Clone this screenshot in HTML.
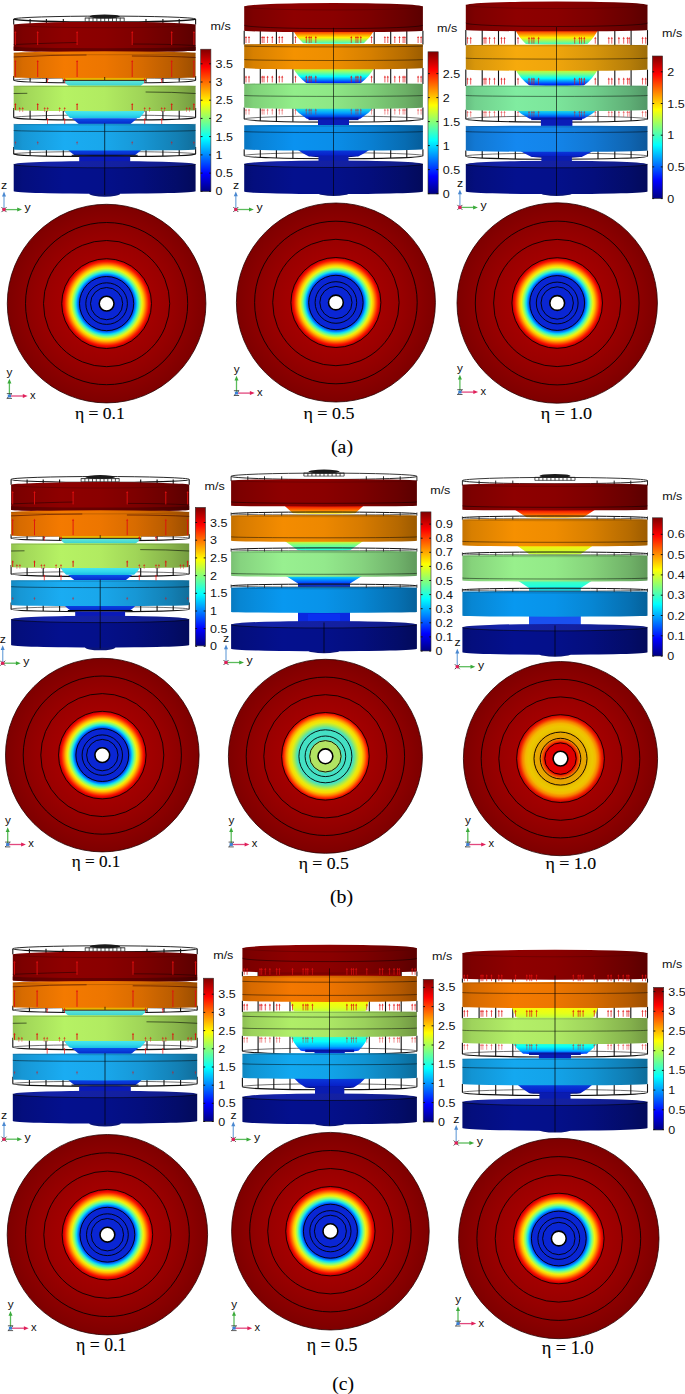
<!DOCTYPE html>
<html><head><meta charset="utf-8"><title>Figure</title>
<style>html,body{margin:0;padding:0;background:#fff;} svg{display:block;}</style></head>
<body><svg width="685" height="1394" viewBox="0 0 685 1394">
<defs><linearGradient id="v1" x1="0" y1="0" x2="0" y2="1"><stop offset="0" stop-color="#60e8d8"/><stop offset="1" stop-color="#30c8d0"/></linearGradient><linearGradient id="v2" x1="0" y1="0" x2="0" y2="1"><stop offset="0" stop-color="#50eef0"/><stop offset="0.6" stop-color="#30d8ec"/><stop offset="1" stop-color="#18b8e4"/></linearGradient><linearGradient id="v3" x1="0" y1="0" x2="0" y2="1"><stop offset="0" stop-color="#0850ec"/><stop offset="0.6" stop-color="#0830d0"/><stop offset="1" stop-color="#0818a8"/></linearGradient><linearGradient id="v4" x1="0" y1="0" x2="0" y2="1"><stop offset="0" stop-color="#0848e8"/><stop offset="1" stop-color="#0828c8"/></linearGradient><linearGradient id="h5" x1="0" y1="0" x2="1" y2="0"><stop offset="0" stop-color="#720000"/><stop offset="0.05" stop-color="#7d0000"/><stop offset="0.28" stop-color="#8e0000"/><stop offset="0.5" stop-color="#8a0000"/><stop offset="0.7" stop-color="#7d0000"/><stop offset="0.9" stop-color="#690000"/><stop offset="1.0" stop-color="#5b0000"/></linearGradient><linearGradient id="h6" x1="0" y1="0" x2="1" y2="0"><stop offset="0" stop-color="#550000"/><stop offset="0.05" stop-color="#5d0000"/><stop offset="0.28" stop-color="#6a0000"/><stop offset="0.5" stop-color="#670000"/><stop offset="0.7" stop-color="#5d0000"/><stop offset="0.9" stop-color="#4e0000"/><stop offset="1.0" stop-color="#440000"/></linearGradient><linearGradient id="h7" x1="0" y1="0" x2="1" y2="0"><stop offset="0" stop-color="#c36200"/><stop offset="0.05" stop-color="#d76b00"/><stop offset="0.28" stop-color="#f47a00"/><stop offset="0.5" stop-color="#ed7600"/><stop offset="0.7" stop-color="#d76b00"/><stop offset="0.9" stop-color="#b55a00"/><stop offset="1.0" stop-color="#9c4e00"/></linearGradient><linearGradient id="h8" x1="0" y1="0" x2="1" y2="0"><stop offset="0" stop-color="#92c250"/><stop offset="0.05" stop-color="#a0d558"/><stop offset="0.28" stop-color="#b6f264"/><stop offset="0.5" stop-color="#b1eb61"/><stop offset="0.7" stop-color="#a0d558"/><stop offset="0.9" stop-color="#87b34a"/><stop offset="1.0" stop-color="#749b40"/></linearGradient><linearGradient id="h9" x1="0" y1="0" x2="1" y2="0"><stop offset="0" stop-color="#158ac2"/><stop offset="0.05" stop-color="#1797d5"/><stop offset="0.28" stop-color="#1aacf2"/><stop offset="0.5" stop-color="#19a7eb"/><stop offset="0.7" stop-color="#1797d5"/><stop offset="0.9" stop-color="#137fb3"/><stop offset="1.0" stop-color="#116e9b"/></linearGradient><linearGradient id="h10" x1="0" y1="0" x2="1" y2="0"><stop offset="0" stop-color="#030d72"/><stop offset="0.05" stop-color="#040e7d"/><stop offset="0.28" stop-color="#04108e"/><stop offset="0.5" stop-color="#04108a"/><stop offset="0.7" stop-color="#040e7d"/><stop offset="0.9" stop-color="#030c69"/><stop offset="1.0" stop-color="#030a5b"/></linearGradient><linearGradient id="h11" x1="0" y1="0" x2="1" y2="0"><stop offset="0" stop-color="#111d8f"/><stop offset="0.2" stop-color="#1422a8"/><stop offset="0.6" stop-color="#1320a0"/><stop offset="1" stop-color="#0f1a7e"/></linearGradient><linearGradient id="v12" x1="0" y1="0" x2="0" y2="1"><stop offset="0" stop-color="#fa0000"/><stop offset="0.55" stop-color="#fff000"/><stop offset="1" stop-color="#2effd1"/></linearGradient><linearGradient id="v13" x1="0" y1="0" x2="0" y2="1"><stop offset="0" stop-color="#fff000"/><stop offset="0.3" stop-color="#80ff80"/><stop offset="0.55" stop-color="#05fffa"/><stop offset="0.85" stop-color="#004dff"/><stop offset="1" stop-color="#0000e6"/></linearGradient><linearGradient id="v14" x1="0" y1="0" x2="0" y2="1"><stop offset="0" stop-color="#2effd1"/><stop offset="0.5" stop-color="#009eff"/><stop offset="1" stop-color="#0000d1"/></linearGradient><linearGradient id="v15" x1="0" y1="0" x2="0" y2="1"><stop offset="0" stop-color="#0a40e0"/><stop offset="0.8" stop-color="#0820c8"/><stop offset="1" stop-color="#050a60"/></linearGradient><linearGradient id="h16" x1="0" y1="0" x2="1" y2="0"><stop offset="0" stop-color="#720000"/><stop offset="0.05" stop-color="#7d0000"/><stop offset="0.28" stop-color="#8e0000"/><stop offset="0.5" stop-color="#8a0000"/><stop offset="0.7" stop-color="#7d0000"/><stop offset="0.9" stop-color="#690000"/><stop offset="1.0" stop-color="#5b0000"/></linearGradient><linearGradient id="h17" x1="0" y1="0" x2="1" y2="0"><stop offset="0" stop-color="#c37500"/><stop offset="0.05" stop-color="#d78000"/><stop offset="0.28" stop-color="#f49200"/><stop offset="0.5" stop-color="#ed8e00"/><stop offset="0.7" stop-color="#d78000"/><stop offset="0.9" stop-color="#b56c00"/><stop offset="1.0" stop-color="#9c5d00"/></linearGradient><linearGradient id="h18" x1="0" y1="0" x2="1" y2="0"><stop offset="0" stop-color="#75be6e"/><stop offset="0.05" stop-color="#80d179"/><stop offset="0.28" stop-color="#92ee8a"/><stop offset="0.5" stop-color="#8ee786"/><stop offset="0.7" stop-color="#80d179"/><stop offset="0.9" stop-color="#6cb066"/><stop offset="1.0" stop-color="#5d9858"/></linearGradient><linearGradient id="h19" x1="0" y1="0" x2="1" y2="0"><stop offset="0" stop-color="#0875c0"/><stop offset="0.05" stop-color="#0980d3"/><stop offset="0.28" stop-color="#0a92f0"/><stop offset="0.5" stop-color="#0a8ee9"/><stop offset="0.7" stop-color="#0980d3"/><stop offset="0.9" stop-color="#076cb2"/><stop offset="1.0" stop-color="#065d9a"/></linearGradient><linearGradient id="h20" x1="0" y1="0" x2="1" y2="0"><stop offset="0" stop-color="#030d72"/><stop offset="0.05" stop-color="#040e7d"/><stop offset="0.28" stop-color="#04108e"/><stop offset="0.5" stop-color="#04108a"/><stop offset="0.7" stop-color="#040e7d"/><stop offset="0.9" stop-color="#030c69"/><stop offset="1.0" stop-color="#030a5b"/></linearGradient><linearGradient id="h21" x1="0" y1="0" x2="1" y2="0"><stop offset="0" stop-color="#111d8f"/><stop offset="0.2" stop-color="#1422a8"/><stop offset="0.6" stop-color="#1320a0"/><stop offset="1" stop-color="#0f1a7e"/></linearGradient><linearGradient id="v22" x1="0" y1="0" x2="0" y2="1"><stop offset="0" stop-color="#fa0000"/><stop offset="0.55" stop-color="#fff000"/><stop offset="1" stop-color="#2effd1"/></linearGradient><linearGradient id="v23" x1="0" y1="0" x2="0" y2="1"><stop offset="0" stop-color="#fff000"/><stop offset="0.3" stop-color="#80ff80"/><stop offset="0.55" stop-color="#05fffa"/><stop offset="0.85" stop-color="#004dff"/><stop offset="1" stop-color="#0000e6"/></linearGradient><linearGradient id="v24" x1="0" y1="0" x2="0" y2="1"><stop offset="0" stop-color="#2effd1"/><stop offset="0.5" stop-color="#009eff"/><stop offset="1" stop-color="#0000d1"/></linearGradient><linearGradient id="v25" x1="0" y1="0" x2="0" y2="1"><stop offset="0" stop-color="#0a40e0"/><stop offset="0.8" stop-color="#0820c8"/><stop offset="1" stop-color="#050a60"/></linearGradient><linearGradient id="h26" x1="0" y1="0" x2="1" y2="0"><stop offset="0" stop-color="#720000"/><stop offset="0.05" stop-color="#7d0000"/><stop offset="0.28" stop-color="#8e0000"/><stop offset="0.5" stop-color="#8a0000"/><stop offset="0.7" stop-color="#7d0000"/><stop offset="0.9" stop-color="#690000"/><stop offset="1.0" stop-color="#5b0000"/></linearGradient><linearGradient id="h27" x1="0" y1="0" x2="1" y2="0"><stop offset="0" stop-color="#c5880a"/><stop offset="0.05" stop-color="#d8960b"/><stop offset="0.28" stop-color="#f6aa0c"/><stop offset="0.5" stop-color="#efa50c"/><stop offset="0.7" stop-color="#d8960b"/><stop offset="0.9" stop-color="#b67e09"/><stop offset="1.0" stop-color="#9d6d08"/></linearGradient><linearGradient id="h28" x1="0" y1="0" x2="1" y2="0"><stop offset="0" stop-color="#66bd80"/><stop offset="0.05" stop-color="#71d08d"/><stop offset="0.28" stop-color="#80eca0"/><stop offset="0.5" stop-color="#7ce59b"/><stop offset="0.7" stop-color="#71d08d"/><stop offset="0.9" stop-color="#5faf76"/><stop offset="1.0" stop-color="#529766"/></linearGradient><linearGradient id="h29" x1="0" y1="0" x2="1" y2="0"><stop offset="0" stop-color="#106dc0"/><stop offset="0.05" stop-color="#1278d3"/><stop offset="0.28" stop-color="#1488f0"/><stop offset="0.5" stop-color="#1384e9"/><stop offset="0.7" stop-color="#1278d3"/><stop offset="0.9" stop-color="#0f65b2"/><stop offset="1.0" stop-color="#0d579a"/></linearGradient><linearGradient id="h30" x1="0" y1="0" x2="1" y2="0"><stop offset="0" stop-color="#030d72"/><stop offset="0.05" stop-color="#040e7d"/><stop offset="0.28" stop-color="#04108e"/><stop offset="0.5" stop-color="#04108a"/><stop offset="0.7" stop-color="#040e7d"/><stop offset="0.9" stop-color="#030c69"/><stop offset="1.0" stop-color="#030a5b"/></linearGradient><linearGradient id="h31" x1="0" y1="0" x2="1" y2="0"><stop offset="0" stop-color="#111d8f"/><stop offset="0.2" stop-color="#1422a8"/><stop offset="0.6" stop-color="#1320a0"/><stop offset="1" stop-color="#0f1a7e"/></linearGradient><linearGradient id="v32" x1="0" y1="0" x2="0" y2="1"><stop offset="0" stop-color="#60e8d8"/><stop offset="1" stop-color="#30c8d0"/></linearGradient><linearGradient id="v33" x1="0" y1="0" x2="0" y2="1"><stop offset="0" stop-color="#50eef0"/><stop offset="0.6" stop-color="#30d8ec"/><stop offset="1" stop-color="#18b8e4"/></linearGradient><linearGradient id="v34" x1="0" y1="0" x2="0" y2="1"><stop offset="0" stop-color="#0850ec"/><stop offset="0.6" stop-color="#0830d0"/><stop offset="1" stop-color="#0818a8"/></linearGradient><linearGradient id="v35" x1="0" y1="0" x2="0" y2="1"><stop offset="0" stop-color="#0848e8"/><stop offset="1" stop-color="#0828c8"/></linearGradient><linearGradient id="h36" x1="0" y1="0" x2="1" y2="0"><stop offset="0" stop-color="#720000"/><stop offset="0.05" stop-color="#7d0000"/><stop offset="0.28" stop-color="#8e0000"/><stop offset="0.5" stop-color="#8a0000"/><stop offset="0.7" stop-color="#7d0000"/><stop offset="0.9" stop-color="#690000"/><stop offset="1.0" stop-color="#5b0000"/></linearGradient><linearGradient id="h37" x1="0" y1="0" x2="1" y2="0"><stop offset="0" stop-color="#550000"/><stop offset="0.05" stop-color="#5d0000"/><stop offset="0.28" stop-color="#6a0000"/><stop offset="0.5" stop-color="#670000"/><stop offset="0.7" stop-color="#5d0000"/><stop offset="0.9" stop-color="#4e0000"/><stop offset="1.0" stop-color="#440000"/></linearGradient><linearGradient id="h38" x1="0" y1="0" x2="1" y2="0"><stop offset="0" stop-color="#c36200"/><stop offset="0.05" stop-color="#d76b00"/><stop offset="0.28" stop-color="#f47a00"/><stop offset="0.5" stop-color="#ed7600"/><stop offset="0.7" stop-color="#d76b00"/><stop offset="0.9" stop-color="#b55a00"/><stop offset="1.0" stop-color="#9c4e00"/></linearGradient><linearGradient id="h39" x1="0" y1="0" x2="1" y2="0"><stop offset="0" stop-color="#92c250"/><stop offset="0.05" stop-color="#a0d558"/><stop offset="0.28" stop-color="#b6f264"/><stop offset="0.5" stop-color="#b1eb61"/><stop offset="0.7" stop-color="#a0d558"/><stop offset="0.9" stop-color="#87b34a"/><stop offset="1.0" stop-color="#749b40"/></linearGradient><linearGradient id="h40" x1="0" y1="0" x2="1" y2="0"><stop offset="0" stop-color="#158ac2"/><stop offset="0.05" stop-color="#1797d5"/><stop offset="0.28" stop-color="#1aacf2"/><stop offset="0.5" stop-color="#19a7eb"/><stop offset="0.7" stop-color="#1797d5"/><stop offset="0.9" stop-color="#137fb3"/><stop offset="1.0" stop-color="#116e9b"/></linearGradient><linearGradient id="h41" x1="0" y1="0" x2="1" y2="0"><stop offset="0" stop-color="#030d72"/><stop offset="0.05" stop-color="#040e7d"/><stop offset="0.28" stop-color="#04108e"/><stop offset="0.5" stop-color="#04108a"/><stop offset="0.7" stop-color="#040e7d"/><stop offset="0.9" stop-color="#030c69"/><stop offset="1.0" stop-color="#030a5b"/></linearGradient><linearGradient id="h42" x1="0" y1="0" x2="1" y2="0"><stop offset="0" stop-color="#111d8f"/><stop offset="0.2" stop-color="#1422a8"/><stop offset="0.6" stop-color="#1320a0"/><stop offset="1" stop-color="#0f1a7e"/></linearGradient><linearGradient id="v43" x1="0" y1="0" x2="0" y2="1"><stop offset="0" stop-color="#e50000"/><stop offset="0.5" stop-color="#ff6100"/><stop offset="1" stop-color="#fff000"/></linearGradient><linearGradient id="v44" x1="0" y1="0" x2="0" y2="1"><stop offset="0" stop-color="#fff000"/><stop offset="0.45" stop-color="#80ff80"/><stop offset="1" stop-color="#1affe5"/></linearGradient><linearGradient id="v45" x1="0" y1="0" x2="0" y2="1"><stop offset="0" stop-color="#05fffa"/><stop offset="1" stop-color="#0024ff"/></linearGradient><linearGradient id="h46" x1="0" y1="0" x2="1" y2="0"><stop offset="0" stop-color="#720000"/><stop offset="0.05" stop-color="#7d0000"/><stop offset="0.28" stop-color="#8e0000"/><stop offset="0.5" stop-color="#8a0000"/><stop offset="0.7" stop-color="#7d0000"/><stop offset="0.9" stop-color="#690000"/><stop offset="1.0" stop-color="#5b0000"/></linearGradient><linearGradient id="h47" x1="0" y1="0" x2="1" y2="0"><stop offset="0" stop-color="#c37000"/><stop offset="0.05" stop-color="#d77b00"/><stop offset="0.28" stop-color="#f48c00"/><stop offset="0.5" stop-color="#ed8800"/><stop offset="0.7" stop-color="#d77b00"/><stop offset="0.9" stop-color="#b56800"/><stop offset="1.0" stop-color="#9c5a00"/></linearGradient><linearGradient id="h48" x1="0" y1="0" x2="1" y2="0"><stop offset="0" stop-color="#7ac073"/><stop offset="0.05" stop-color="#86d37f"/><stop offset="0.28" stop-color="#98f090"/><stop offset="0.5" stop-color="#93e98c"/><stop offset="0.7" stop-color="#86d37f"/><stop offset="0.9" stop-color="#70b26b"/><stop offset="1.0" stop-color="#619a5c"/></linearGradient><linearGradient id="h49" x1="0" y1="0" x2="1" y2="0"><stop offset="0" stop-color="#067ac0"/><stop offset="0.05" stop-color="#0786d3"/><stop offset="0.28" stop-color="#0898f0"/><stop offset="0.5" stop-color="#0893e9"/><stop offset="0.7" stop-color="#0786d3"/><stop offset="0.9" stop-color="#0670b2"/><stop offset="1.0" stop-color="#05619a"/></linearGradient><linearGradient id="h50" x1="0" y1="0" x2="1" y2="0"><stop offset="0" stop-color="#030d72"/><stop offset="0.05" stop-color="#040e7d"/><stop offset="0.28" stop-color="#04108e"/><stop offset="0.5" stop-color="#04108a"/><stop offset="0.7" stop-color="#040e7d"/><stop offset="0.9" stop-color="#030c69"/><stop offset="1.0" stop-color="#030a5b"/></linearGradient><linearGradient id="h51" x1="0" y1="0" x2="1" y2="0"><stop offset="0" stop-color="#111d8f"/><stop offset="0.2" stop-color="#1422a8"/><stop offset="0.6" stop-color="#1320a0"/><stop offset="1" stop-color="#0f1a7e"/></linearGradient><linearGradient id="v52" x1="0" y1="0" x2="0" y2="1"><stop offset="0" stop-color="#e50000"/><stop offset="0.5" stop-color="#ff4c00"/><stop offset="1" stop-color="#ffb300"/></linearGradient><linearGradient id="v53" x1="0" y1="0" x2="0" y2="1"><stop offset="0" stop-color="#fff000"/><stop offset="1" stop-color="#bdff42"/></linearGradient><linearGradient id="v54" x1="0" y1="0" x2="0" y2="1"><stop offset="0" stop-color="#4dffb2"/><stop offset="1" stop-color="#0ffff0"/></linearGradient><linearGradient id="h55" x1="0" y1="0" x2="1" y2="0"><stop offset="0" stop-color="#720000"/><stop offset="0.05" stop-color="#7d0000"/><stop offset="0.28" stop-color="#8e0000"/><stop offset="0.5" stop-color="#8a0000"/><stop offset="0.7" stop-color="#7d0000"/><stop offset="0.9" stop-color="#690000"/><stop offset="1.0" stop-color="#5b0000"/></linearGradient><linearGradient id="h56" x1="0" y1="0" x2="1" y2="0"><stop offset="0" stop-color="#c57300"/><stop offset="0.05" stop-color="#d87f00"/><stop offset="0.28" stop-color="#f69000"/><stop offset="0.5" stop-color="#ef8c00"/><stop offset="0.7" stop-color="#d87f00"/><stop offset="0.9" stop-color="#b66b00"/><stop offset="1.0" stop-color="#9d5c00"/></linearGradient><linearGradient id="h57" x1="0" y1="0" x2="1" y2="0"><stop offset="0" stop-color="#7ac070"/><stop offset="0.05" stop-color="#86d37b"/><stop offset="0.28" stop-color="#98f08c"/><stop offset="0.5" stop-color="#93e988"/><stop offset="0.7" stop-color="#86d37b"/><stop offset="0.9" stop-color="#70b268"/><stop offset="1.0" stop-color="#619a5a"/></linearGradient><linearGradient id="h58" x1="0" y1="0" x2="1" y2="0"><stop offset="0" stop-color="#067ac0"/><stop offset="0.05" stop-color="#0786d3"/><stop offset="0.28" stop-color="#0898f0"/><stop offset="0.5" stop-color="#0893e9"/><stop offset="0.7" stop-color="#0786d3"/><stop offset="0.9" stop-color="#0670b2"/><stop offset="1.0" stop-color="#05619a"/></linearGradient><linearGradient id="h59" x1="0" y1="0" x2="1" y2="0"><stop offset="0" stop-color="#030d72"/><stop offset="0.05" stop-color="#040e7d"/><stop offset="0.28" stop-color="#04108e"/><stop offset="0.5" stop-color="#04108a"/><stop offset="0.7" stop-color="#040e7d"/><stop offset="0.9" stop-color="#030c69"/><stop offset="1.0" stop-color="#030a5b"/></linearGradient><linearGradient id="h60" x1="0" y1="0" x2="1" y2="0"><stop offset="0" stop-color="#111d8f"/><stop offset="0.2" stop-color="#1422a8"/><stop offset="0.6" stop-color="#1320a0"/><stop offset="1" stop-color="#0f1a7e"/></linearGradient><linearGradient id="v61" x1="0" y1="0" x2="0" y2="1"><stop offset="0" stop-color="#60e8d8"/><stop offset="1" stop-color="#30c8d0"/></linearGradient><linearGradient id="v62" x1="0" y1="0" x2="0" y2="1"><stop offset="0" stop-color="#50eef0"/><stop offset="0.6" stop-color="#30d8ec"/><stop offset="1" stop-color="#18b8e4"/></linearGradient><linearGradient id="v63" x1="0" y1="0" x2="0" y2="1"><stop offset="0" stop-color="#0850ec"/><stop offset="0.6" stop-color="#0830d0"/><stop offset="1" stop-color="#0818a8"/></linearGradient><linearGradient id="v64" x1="0" y1="0" x2="0" y2="1"><stop offset="0" stop-color="#0848e8"/><stop offset="1" stop-color="#0828c8"/></linearGradient><linearGradient id="h65" x1="0" y1="0" x2="1" y2="0"><stop offset="0" stop-color="#720000"/><stop offset="0.05" stop-color="#7d0000"/><stop offset="0.28" stop-color="#8e0000"/><stop offset="0.5" stop-color="#8a0000"/><stop offset="0.7" stop-color="#7d0000"/><stop offset="0.9" stop-color="#690000"/><stop offset="1.0" stop-color="#5b0000"/></linearGradient><linearGradient id="h66" x1="0" y1="0" x2="1" y2="0"><stop offset="0" stop-color="#550000"/><stop offset="0.05" stop-color="#5d0000"/><stop offset="0.28" stop-color="#6a0000"/><stop offset="0.5" stop-color="#670000"/><stop offset="0.7" stop-color="#5d0000"/><stop offset="0.9" stop-color="#4e0000"/><stop offset="1.0" stop-color="#440000"/></linearGradient><linearGradient id="h67" x1="0" y1="0" x2="1" y2="0"><stop offset="0" stop-color="#c36200"/><stop offset="0.05" stop-color="#d76b00"/><stop offset="0.28" stop-color="#f47a00"/><stop offset="0.5" stop-color="#ed7600"/><stop offset="0.7" stop-color="#d76b00"/><stop offset="0.9" stop-color="#b55a00"/><stop offset="1.0" stop-color="#9c4e00"/></linearGradient><linearGradient id="h68" x1="0" y1="0" x2="1" y2="0"><stop offset="0" stop-color="#92c250"/><stop offset="0.05" stop-color="#a0d558"/><stop offset="0.28" stop-color="#b6f264"/><stop offset="0.5" stop-color="#b1eb61"/><stop offset="0.7" stop-color="#a0d558"/><stop offset="0.9" stop-color="#87b34a"/><stop offset="1.0" stop-color="#749b40"/></linearGradient><linearGradient id="h69" x1="0" y1="0" x2="1" y2="0"><stop offset="0" stop-color="#158ac2"/><stop offset="0.05" stop-color="#1797d5"/><stop offset="0.28" stop-color="#1aacf2"/><stop offset="0.5" stop-color="#19a7eb"/><stop offset="0.7" stop-color="#1797d5"/><stop offset="0.9" stop-color="#137fb3"/><stop offset="1.0" stop-color="#116e9b"/></linearGradient><linearGradient id="h70" x1="0" y1="0" x2="1" y2="0"><stop offset="0" stop-color="#030d72"/><stop offset="0.05" stop-color="#040e7d"/><stop offset="0.28" stop-color="#04108e"/><stop offset="0.5" stop-color="#04108a"/><stop offset="0.7" stop-color="#040e7d"/><stop offset="0.9" stop-color="#030c69"/><stop offset="1.0" stop-color="#030a5b"/></linearGradient><linearGradient id="h71" x1="0" y1="0" x2="1" y2="0"><stop offset="0" stop-color="#111d8f"/><stop offset="0.2" stop-color="#1422a8"/><stop offset="0.6" stop-color="#1320a0"/><stop offset="1" stop-color="#0f1a7e"/></linearGradient><linearGradient id="v72" x1="0" y1="0" x2="0" y2="1"><stop offset="0" stop-color="#fa0000"/><stop offset="0.55" stop-color="#fff000"/><stop offset="1" stop-color="#2effd1"/></linearGradient><linearGradient id="v73" x1="0" y1="0" x2="0" y2="1"><stop offset="0" stop-color="#fffa00"/><stop offset="0.6" stop-color="#e5ff1a"/><stop offset="1" stop-color="#bdff42"/></linearGradient><linearGradient id="v74" x1="0" y1="0" x2="0" y2="1"><stop offset="0" stop-color="#4dffb2"/><stop offset="0.4" stop-color="#05fffa"/><stop offset="0.7" stop-color="#00b2ff"/><stop offset="1" stop-color="#0024ff"/></linearGradient><linearGradient id="v75" x1="0" y1="0" x2="0" y2="1"><stop offset="0" stop-color="#6a0000"/><stop offset="0.6" stop-color="#800000"/><stop offset="1" stop-color="#a00000"/></linearGradient><linearGradient id="v76" x1="0" y1="0" x2="0" y2="1"><stop offset="0" stop-color="#0a40e0"/><stop offset="0.8" stop-color="#0820c8"/><stop offset="1" stop-color="#050a60"/></linearGradient><linearGradient id="h77" x1="0" y1="0" x2="1" y2="0"><stop offset="0" stop-color="#720000"/><stop offset="0.05" stop-color="#7d0000"/><stop offset="0.28" stop-color="#8e0000"/><stop offset="0.5" stop-color="#8a0000"/><stop offset="0.7" stop-color="#7d0000"/><stop offset="0.9" stop-color="#690000"/><stop offset="1.0" stop-color="#5b0000"/></linearGradient><linearGradient id="h78" x1="0" y1="0" x2="1" y2="0"><stop offset="0" stop-color="#c36000"/><stop offset="0.05" stop-color="#d76a00"/><stop offset="0.28" stop-color="#f47800"/><stop offset="0.5" stop-color="#ed7400"/><stop offset="0.7" stop-color="#d76a00"/><stop offset="0.9" stop-color="#b55900"/><stop offset="1.0" stop-color="#9c4d00"/></linearGradient><linearGradient id="h79" x1="0" y1="0" x2="1" y2="0"><stop offset="0" stop-color="#8dbe53"/><stop offset="0.05" stop-color="#9bd15c"/><stop offset="0.28" stop-color="#b0ee68"/><stop offset="0.5" stop-color="#abe765"/><stop offset="0.7" stop-color="#9bd15c"/><stop offset="0.9" stop-color="#82b04d"/><stop offset="1.0" stop-color="#719843"/></linearGradient><linearGradient id="h80" x1="0" y1="0" x2="1" y2="0"><stop offset="0" stop-color="#0e86c0"/><stop offset="0.05" stop-color="#1094d3"/><stop offset="0.28" stop-color="#12a8f0"/><stop offset="0.5" stop-color="#11a3e9"/><stop offset="0.7" stop-color="#1094d3"/><stop offset="0.9" stop-color="#0d7cb2"/><stop offset="1.0" stop-color="#0c6c9a"/></linearGradient><linearGradient id="h81" x1="0" y1="0" x2="1" y2="0"><stop offset="0" stop-color="#030d72"/><stop offset="0.05" stop-color="#040e7d"/><stop offset="0.28" stop-color="#04108e"/><stop offset="0.5" stop-color="#04108a"/><stop offset="0.7" stop-color="#040e7d"/><stop offset="0.9" stop-color="#030c69"/><stop offset="1.0" stop-color="#030a5b"/></linearGradient><linearGradient id="h82" x1="0" y1="0" x2="1" y2="0"><stop offset="0" stop-color="#111d8f"/><stop offset="0.2" stop-color="#1422a8"/><stop offset="0.6" stop-color="#1320a0"/><stop offset="1" stop-color="#0f1a7e"/></linearGradient><linearGradient id="v83" x1="0" y1="0" x2="0" y2="1"><stop offset="0" stop-color="#fffa00"/><stop offset="0.6" stop-color="#e5ff1a"/><stop offset="1" stop-color="#bdff42"/></linearGradient><linearGradient id="v84" x1="0" y1="0" x2="0" y2="1"><stop offset="0" stop-color="#4dffb2"/><stop offset="0.4" stop-color="#05fffa"/><stop offset="0.7" stop-color="#00b2ff"/><stop offset="1" stop-color="#0024ff"/></linearGradient><linearGradient id="v85" x1="0" y1="0" x2="0" y2="1"><stop offset="0" stop-color="#0a40e0"/><stop offset="0.8" stop-color="#0820c8"/><stop offset="1" stop-color="#050a60"/></linearGradient><linearGradient id="h86" x1="0" y1="0" x2="1" y2="0"><stop offset="0" stop-color="#720000"/><stop offset="0.05" stop-color="#7d0000"/><stop offset="0.28" stop-color="#8e0000"/><stop offset="0.5" stop-color="#8a0000"/><stop offset="0.7" stop-color="#7d0000"/><stop offset="0.9" stop-color="#690000"/><stop offset="1.0" stop-color="#5b0000"/></linearGradient><linearGradient id="h87" x1="0" y1="0" x2="1" y2="0"><stop offset="0" stop-color="#c36200"/><stop offset="0.05" stop-color="#d76b00"/><stop offset="0.28" stop-color="#f47a00"/><stop offset="0.5" stop-color="#ed7600"/><stop offset="0.7" stop-color="#d76b00"/><stop offset="0.9" stop-color="#b55a00"/><stop offset="1.0" stop-color="#9c4e00"/></linearGradient><linearGradient id="h88" x1="0" y1="0" x2="1" y2="0"><stop offset="0" stop-color="#90c053"/><stop offset="0.05" stop-color="#9ed35c"/><stop offset="0.28" stop-color="#b4f068"/><stop offset="0.5" stop-color="#afe965"/><stop offset="0.7" stop-color="#9ed35c"/><stop offset="0.9" stop-color="#85b24d"/><stop offset="1.0" stop-color="#739a43"/></linearGradient><linearGradient id="h89" x1="0" y1="0" x2="1" y2="0"><stop offset="0" stop-color="#1086c0"/><stop offset="0.05" stop-color="#1294d3"/><stop offset="0.28" stop-color="#14a8f0"/><stop offset="0.5" stop-color="#13a3e9"/><stop offset="0.7" stop-color="#1294d3"/><stop offset="0.9" stop-color="#0f7cb2"/><stop offset="1.0" stop-color="#0d6c9a"/></linearGradient><linearGradient id="h90" x1="0" y1="0" x2="1" y2="0"><stop offset="0" stop-color="#030d72"/><stop offset="0.05" stop-color="#040e7d"/><stop offset="0.28" stop-color="#04108e"/><stop offset="0.5" stop-color="#04108a"/><stop offset="0.7" stop-color="#040e7d"/><stop offset="0.9" stop-color="#030c69"/><stop offset="1.0" stop-color="#030a5b"/></linearGradient><linearGradient id="h91" x1="0" y1="0" x2="1" y2="0"><stop offset="0" stop-color="#111d8f"/><stop offset="0.2" stop-color="#1422a8"/><stop offset="0.6" stop-color="#1320a0"/><stop offset="1" stop-color="#0f1a7e"/></linearGradient><linearGradient id="v92" x1="0" y1="0" x2="0" y2="1"><stop offset="0" stop-color="#800000"/><stop offset="0.125" stop-color="#ff0000"/><stop offset="0.375" stop-color="#ffff00"/><stop offset="0.625" stop-color="#00ffff"/><stop offset="0.875" stop-color="#0000ff"/><stop offset="1" stop-color="#000080"/></linearGradient><linearGradient id="v93" x1="0" y1="0" x2="0" y2="1"><stop offset="0" stop-color="#800000"/><stop offset="0.125" stop-color="#ff0000"/><stop offset="0.375" stop-color="#ffff00"/><stop offset="0.625" stop-color="#00ffff"/><stop offset="0.875" stop-color="#0000ff"/><stop offset="1" stop-color="#000080"/></linearGradient><linearGradient id="v94" x1="0" y1="0" x2="0" y2="1"><stop offset="0" stop-color="#800000"/><stop offset="0.125" stop-color="#ff0000"/><stop offset="0.375" stop-color="#ffff00"/><stop offset="0.625" stop-color="#00ffff"/><stop offset="0.875" stop-color="#0000ff"/><stop offset="1" stop-color="#000080"/></linearGradient><linearGradient id="v95" x1="0" y1="0" x2="0" y2="1"><stop offset="0" stop-color="#800000"/><stop offset="0.125" stop-color="#ff0000"/><stop offset="0.375" stop-color="#ffff00"/><stop offset="0.625" stop-color="#00ffff"/><stop offset="0.875" stop-color="#0000ff"/><stop offset="1" stop-color="#000080"/></linearGradient><linearGradient id="v96" x1="0" y1="0" x2="0" y2="1"><stop offset="0" stop-color="#800000"/><stop offset="0.125" stop-color="#ff0000"/><stop offset="0.375" stop-color="#ffff00"/><stop offset="0.625" stop-color="#00ffff"/><stop offset="0.875" stop-color="#0000ff"/><stop offset="1" stop-color="#000080"/></linearGradient><linearGradient id="v97" x1="0" y1="0" x2="0" y2="1"><stop offset="0" stop-color="#800000"/><stop offset="0.125" stop-color="#ff0000"/><stop offset="0.375" stop-color="#ffff00"/><stop offset="0.625" stop-color="#00ffff"/><stop offset="0.875" stop-color="#0000ff"/><stop offset="1" stop-color="#000080"/></linearGradient><linearGradient id="v98" x1="0" y1="0" x2="0" y2="1"><stop offset="0" stop-color="#800000"/><stop offset="0.125" stop-color="#ff0000"/><stop offset="0.375" stop-color="#ffff00"/><stop offset="0.625" stop-color="#00ffff"/><stop offset="0.875" stop-color="#0000ff"/><stop offset="1" stop-color="#000080"/></linearGradient><linearGradient id="v99" x1="0" y1="0" x2="0" y2="1"><stop offset="0" stop-color="#800000"/><stop offset="0.125" stop-color="#ff0000"/><stop offset="0.375" stop-color="#ffff00"/><stop offset="0.625" stop-color="#00ffff"/><stop offset="0.875" stop-color="#0000ff"/><stop offset="1" stop-color="#000080"/></linearGradient><linearGradient id="v100" x1="0" y1="0" x2="0" y2="1"><stop offset="0" stop-color="#800000"/><stop offset="0.125" stop-color="#ff0000"/><stop offset="0.375" stop-color="#ffff00"/><stop offset="0.625" stop-color="#00ffff"/><stop offset="0.875" stop-color="#0000ff"/><stop offset="1" stop-color="#000080"/></linearGradient><radialGradient id="r101" cx="0.5" cy="0.5" r="0.5"><stop offset="0" stop-color="#a80000"/><stop offset="0.45" stop-color="#a30000"/><stop offset="0.65" stop-color="#980000"/><stop offset="0.85" stop-color="#8a0000"/><stop offset="1" stop-color="#7e0000"/></radialGradient><radialGradient id="r102" cx="0.5" cy="0.5" r="0.5"><stop offset="0.0" stop-color="#0a26d4"/><stop offset="0.6037840101952606" stop-color="#0a26d4"/><stop offset="0.6149239365826271" stop-color="#0044f0"/><stop offset="0.6505717010221996" stop-color="#0090ff"/><stop offset="0.6839914801842989" stop-color="#10def4"/><stop offset="0.7352351415661845" stop-color="#80ff80"/><stop offset="0.7887067882255433" stop-color="#eef410"/><stop offset="0.833266493775009" stop-color="#ffc000"/><stop offset="0.8845101551568948" stop-color="#ff6400"/><stop offset="0.9357538165387803" stop-color="#f81000"/><stop offset="0.9758575515332993" stop-color="#d00000"/><stop offset="0.9981374043080322" stop-color="#b00000"/></radialGradient><radialGradient id="r103" cx="0.5" cy="0.5" r="0.5"><stop offset="0" stop-color="#a80000"/><stop offset="0.45" stop-color="#a30000"/><stop offset="0.65" stop-color="#980000"/><stop offset="0.85" stop-color="#8a0000"/><stop offset="1" stop-color="#7e0000"/></radialGradient><radialGradient id="r104" cx="0.5" cy="0.5" r="0.5"><stop offset="0.0" stop-color="#0a26d4"/><stop offset="0.6037840101952606" stop-color="#0a26d4"/><stop offset="0.6149239365826271" stop-color="#0044f0"/><stop offset="0.6505717010221996" stop-color="#0090ff"/><stop offset="0.6839914801842989" stop-color="#10def4"/><stop offset="0.7352351415661845" stop-color="#80ff80"/><stop offset="0.7887067882255433" stop-color="#eef410"/><stop offset="0.833266493775009" stop-color="#ffc000"/><stop offset="0.8845101551568948" stop-color="#ff6400"/><stop offset="0.9357538165387803" stop-color="#f81000"/><stop offset="0.9758575515332993" stop-color="#d00000"/><stop offset="0.9981374043080322" stop-color="#b00000"/></radialGradient><radialGradient id="r105" cx="0.5" cy="0.5" r="0.5"><stop offset="0" stop-color="#a80000"/><stop offset="0.45" stop-color="#a30000"/><stop offset="0.65" stop-color="#980000"/><stop offset="0.85" stop-color="#8a0000"/><stop offset="1" stop-color="#7e0000"/></radialGradient><radialGradient id="r106" cx="0.5" cy="0.5" r="0.5"><stop offset="0.0" stop-color="#0a26d4"/><stop offset="0.6037840101952606" stop-color="#0a26d4"/><stop offset="0.614923936582627" stop-color="#0044f0"/><stop offset="0.6505717010221996" stop-color="#0090ff"/><stop offset="0.6839914801842988" stop-color="#10def4"/><stop offset="0.7352351415661845" stop-color="#80ff80"/><stop offset="0.7887067882255433" stop-color="#eef410"/><stop offset="0.833266493775009" stop-color="#ffc000"/><stop offset="0.8845101551568947" stop-color="#ff6400"/><stop offset="0.9357538165387803" stop-color="#f81000"/><stop offset="0.9758575515332992" stop-color="#d00000"/><stop offset="0.9981374043080321" stop-color="#b00000"/></radialGradient><radialGradient id="r107" cx="0.5" cy="0.5" r="0.5"><stop offset="0" stop-color="#a80000"/><stop offset="0.45" stop-color="#a30000"/><stop offset="0.65" stop-color="#980000"/><stop offset="0.85" stop-color="#8a0000"/><stop offset="1" stop-color="#7e0000"/></radialGradient><radialGradient id="r108" cx="0.5" cy="0.5" r="0.5"><stop offset="0.0" stop-color="#0a26d4"/><stop offset="0.6037840101952606" stop-color="#0a26d4"/><stop offset="0.6149239365826271" stop-color="#0044f0"/><stop offset="0.6505717010221995" stop-color="#0090ff"/><stop offset="0.6839914801842989" stop-color="#10def4"/><stop offset="0.7352351415661845" stop-color="#80ff80"/><stop offset="0.7887067882255433" stop-color="#eef410"/><stop offset="0.8332664937750092" stop-color="#ffc000"/><stop offset="0.8845101551568948" stop-color="#ff6400"/><stop offset="0.9357538165387803" stop-color="#f81000"/><stop offset="0.9758575515332993" stop-color="#d00000"/><stop offset="0.9981374043080322" stop-color="#b00000"/></radialGradient><radialGradient id="r109" cx="0.5" cy="0.5" r="0.5"><stop offset="0" stop-color="#a80000"/><stop offset="0.45" stop-color="#a30000"/><stop offset="0.65" stop-color="#980000"/><stop offset="0.85" stop-color="#8a0000"/><stop offset="1" stop-color="#7e0000"/></radialGradient><radialGradient id="r110" cx="0.5" cy="0.5" r="0.5"><stop offset="0.0" stop-color="#b2e462"/><stop offset="0.3603685795091689" stop-color="#b2e462"/><stop offset="0.3786150898640635" stop-color="#44e0c4"/><stop offset="0.6272237934495027" stop-color="#44e0c4"/><stop offset="0.6614360003649302" stop-color="#60e4a0"/><stop offset="0.718456345223976" stop-color="#a8ec50"/><stop offset="0.7754766900830216" stop-color="#e8ec10"/><stop offset="0.8324970349420673" stop-color="#f8d800"/><stop offset="0.889517379801113" stop-color="#ff9000"/><stop offset="0.9465377246601587" stop-color="#ff3000"/><stop offset="0.9921540005473953" stop-color="#d00000"/><stop offset="1.0" stop-color="#b00000"/></radialGradient><radialGradient id="r111" cx="0.5" cy="0.5" r="0.5"><stop offset="0" stop-color="#a80000"/><stop offset="0.45" stop-color="#a30000"/><stop offset="0.65" stop-color="#980000"/><stop offset="0.85" stop-color="#8a0000"/><stop offset="1" stop-color="#7e0000"/></radialGradient><radialGradient id="r112" cx="0.5" cy="0.5" r="0.5"><stop offset="0.0" stop-color="#e00000"/><stop offset="0.3649302070978926" stop-color="#e00000"/><stop offset="0.3877383450415109" stop-color="#ee3000"/><stop offset="0.44475868990055656" stop-color="#ee8000"/><stop offset="0.47440926922726034" stop-color="#e6a400"/><stop offset="0.6158197244776936" stop-color="#e6a800"/><stop offset="0.638627862421312" stop-color="#e8c000"/><stop offset="0.7298604141957852" stop-color="#ecc800"/><stop offset="0.7982848280266399" stop-color="#f4b800"/><stop offset="0.8667092418574948" stop-color="#f88000"/><stop offset="0.9351336556883497" stop-color="#f02000"/><stop offset="0.9921540005473954" stop-color="#c80000"/><stop offset="1.0" stop-color="#b00000"/></radialGradient><radialGradient id="r113" cx="0.5" cy="0.5" r="0.5"><stop offset="0" stop-color="#a80000"/><stop offset="0.45" stop-color="#a30000"/><stop offset="0.65" stop-color="#980000"/><stop offset="0.85" stop-color="#8a0000"/><stop offset="1" stop-color="#7e0000"/></radialGradient><radialGradient id="r114" cx="0.5" cy="0.5" r="0.5"><stop offset="0.0" stop-color="#0a26d4"/><stop offset="0.6037840101952606" stop-color="#0a26d4"/><stop offset="0.614923936582627" stop-color="#0044f0"/><stop offset="0.6505717010221996" stop-color="#0090ff"/><stop offset="0.6839914801842988" stop-color="#10def4"/><stop offset="0.7352351415661845" stop-color="#80ff80"/><stop offset="0.7887067882255433" stop-color="#eef410"/><stop offset="0.833266493775009" stop-color="#ffc000"/><stop offset="0.8845101551568947" stop-color="#ff6400"/><stop offset="0.9357538165387803" stop-color="#f81000"/><stop offset="0.9758575515332992" stop-color="#d00000"/><stop offset="0.9981374043080321" stop-color="#b00000"/></radialGradient><radialGradient id="r115" cx="0.5" cy="0.5" r="0.5"><stop offset="0" stop-color="#a80000"/><stop offset="0.45" stop-color="#a30000"/><stop offset="0.65" stop-color="#980000"/><stop offset="0.85" stop-color="#8a0000"/><stop offset="1" stop-color="#7e0000"/></radialGradient><radialGradient id="r116" cx="0.5" cy="0.5" r="0.5"><stop offset="0.0" stop-color="#0a26d4"/><stop offset="0.6037840101952606" stop-color="#0a26d4"/><stop offset="0.614923936582627" stop-color="#0044f0"/><stop offset="0.6505717010221996" stop-color="#0090ff"/><stop offset="0.6839914801842989" stop-color="#10def4"/><stop offset="0.7352351415661845" stop-color="#80ff80"/><stop offset="0.7887067882255434" stop-color="#eef410"/><stop offset="0.833266493775009" stop-color="#ffc000"/><stop offset="0.8845101551568948" stop-color="#ff6400"/><stop offset="0.9357538165387803" stop-color="#f81000"/><stop offset="0.9758575515332993" stop-color="#d00000"/><stop offset="0.9981374043080322" stop-color="#b00000"/></radialGradient><radialGradient id="r117" cx="0.5" cy="0.5" r="0.5"><stop offset="0" stop-color="#a80000"/><stop offset="0.45" stop-color="#a30000"/><stop offset="0.65" stop-color="#980000"/><stop offset="0.85" stop-color="#8a0000"/><stop offset="1" stop-color="#7e0000"/></radialGradient><radialGradient id="r118" cx="0.5" cy="0.5" r="0.5"><stop offset="0.0" stop-color="#0a26d4"/><stop offset="0.6037840101952606" stop-color="#0a26d4"/><stop offset="0.614923936582627" stop-color="#0044f0"/><stop offset="0.6505717010221996" stop-color="#0090ff"/><stop offset="0.6839914801842988" stop-color="#10def4"/><stop offset="0.7352351415661845" stop-color="#80ff80"/><stop offset="0.7887067882255433" stop-color="#eef410"/><stop offset="0.833266493775009" stop-color="#ffc000"/><stop offset="0.8845101551568947" stop-color="#ff6400"/><stop offset="0.9357538165387803" stop-color="#f81000"/><stop offset="0.9758575515332992" stop-color="#d00000"/><stop offset="0.9981374043080321" stop-color="#b00000"/></radialGradient></defs>
<rect width="685" height="1394" fill="#fff"/>
<line x1="63.3" y1="19.0" x2="63.3" y2="27.2" stroke="#111" stroke-width="1.1"/>
<line x1="146.0" y1="19.0" x2="146.0" y2="27.2" stroke="#111" stroke-width="1.1"/>
<line x1="46.4" y1="19.0" x2="46.4" y2="26.8" stroke="#111" stroke-width="1.1"/>
<line x1="162.9" y1="19.0" x2="162.9" y2="26.8" stroke="#111" stroke-width="1.1"/>
<line x1="30.1" y1="19.0" x2="30.1" y2="26.2" stroke="#111" stroke-width="1.1"/>
<line x1="179.2" y1="19.0" x2="179.2" y2="26.2" stroke="#111" stroke-width="1.1"/>
<line x1="13.7" y1="19.0" x2="13.7" y2="24.5" stroke="#111" stroke-width="1.1"/>
<line x1="195.6" y1="19.0" x2="195.6" y2="24.5" stroke="#111" stroke-width="1.1"/>
<path d="M13.7,19.0 A91.0,3.0 0 0 0 195.6,19.0" fill="none" stroke="#111" stroke-width="1.1"/>
<path d="M13.7,19.0 A91.0,3.0 0 0 1 195.6,19.0" fill="none" stroke="#111" stroke-width="0.9"/>
<ellipse cx="104.7" cy="16.5" rx="15.0" ry="2.0" fill="#1a1a1a"/>
<path d="M85.2,18.0 L124.2,18.0" stroke="#222" stroke-width="0.9"/>
<path d="M85.2,21.5 L124.2,21.5" stroke="#444" stroke-width="0.8"/>
<line x1="85.2" y1="17.7" x2="85.2" y2="21.5" stroke="#222" stroke-width="0.8" opacity="1"/>
<line x1="89.1" y1="17.7" x2="89.1" y2="21.5" stroke="#222" stroke-width="0.8" opacity="1"/>
<line x1="93.0" y1="17.7" x2="93.0" y2="21.5" stroke="#222" stroke-width="0.8" opacity="1"/>
<line x1="96.9" y1="17.7" x2="96.9" y2="21.5" stroke="#222" stroke-width="0.8" opacity="1"/>
<line x1="100.8" y1="17.7" x2="100.8" y2="21.5" stroke="#222" stroke-width="0.8" opacity="1"/>
<line x1="104.7" y1="17.7" x2="104.7" y2="21.5" stroke="#222" stroke-width="0.8" opacity="1"/>
<line x1="108.6" y1="17.7" x2="108.6" y2="21.5" stroke="#222" stroke-width="0.8" opacity="1"/>
<line x1="112.5" y1="17.7" x2="112.5" y2="21.5" stroke="#222" stroke-width="0.8" opacity="1"/>
<line x1="116.4" y1="17.7" x2="116.4" y2="21.5" stroke="#222" stroke-width="0.8" opacity="1"/>
<line x1="120.2" y1="17.7" x2="120.2" y2="21.5" stroke="#222" stroke-width="0.8" opacity="1"/>
<line x1="124.2" y1="17.7" x2="124.2" y2="21.5" stroke="#222" stroke-width="0.8" opacity="1"/>
<line x1="63.3" y1="76.0" x2="63.3" y2="82.6" stroke="#111" stroke-width="1.1"/>
<line x1="146.0" y1="76.0" x2="146.0" y2="82.6" stroke="#111" stroke-width="1.1"/>
<line x1="46.4" y1="76.0" x2="46.4" y2="82.3" stroke="#111" stroke-width="1.1"/>
<line x1="162.9" y1="76.0" x2="162.9" y2="82.3" stroke="#111" stroke-width="1.1"/>
<line x1="30.1" y1="76.0" x2="30.1" y2="81.8" stroke="#111" stroke-width="1.1"/>
<line x1="179.2" y1="76.0" x2="179.2" y2="81.8" stroke="#111" stroke-width="1.1"/>
<line x1="13.7" y1="76.0" x2="13.7" y2="80.3" stroke="#111" stroke-width="1.1"/>
<line x1="195.6" y1="76.0" x2="195.6" y2="80.3" stroke="#111" stroke-width="1.1"/>
<path d="M13.7,80.3 A91.0,2.6 0 0 0 195.6,80.3" fill="none" stroke="#111" stroke-width="1.1"/>
<path d="M13.7,80.3 A91.0,2.6 0 0 1 195.6,80.3" fill="none" stroke="#111" stroke-width="0.6"/>
<line x1="63.3" y1="108.0" x2="63.3" y2="119.8" stroke="#111" stroke-width="1.1"/>
<line x1="146.0" y1="108.0" x2="146.0" y2="119.8" stroke="#111" stroke-width="1.1"/>
<line x1="46.4" y1="108.0" x2="46.4" y2="119.5" stroke="#111" stroke-width="1.1"/>
<line x1="162.9" y1="108.0" x2="162.9" y2="119.5" stroke="#111" stroke-width="1.1"/>
<line x1="30.1" y1="108.0" x2="30.1" y2="119.0" stroke="#111" stroke-width="1.1"/>
<line x1="179.2" y1="108.0" x2="179.2" y2="119.0" stroke="#111" stroke-width="1.1"/>
<line x1="13.7" y1="108.0" x2="13.7" y2="117.5" stroke="#111" stroke-width="1.1"/>
<line x1="195.6" y1="108.0" x2="195.6" y2="117.5" stroke="#111" stroke-width="1.1"/>
<path d="M13.7,117.5 A91.0,2.6 0 0 0 195.6,117.5" fill="none" stroke="#111" stroke-width="1.1"/>
<path d="M13.7,117.5 A91.0,2.6 0 0 1 195.6,117.5" fill="none" stroke="#111" stroke-width="0.6"/>
<line x1="63.3" y1="147.0" x2="63.3" y2="156.3" stroke="#111" stroke-width="1.1"/>
<line x1="146.0" y1="147.0" x2="146.0" y2="156.3" stroke="#111" stroke-width="1.1"/>
<line x1="46.4" y1="147.0" x2="46.4" y2="156.0" stroke="#111" stroke-width="1.1"/>
<line x1="162.9" y1="147.0" x2="162.9" y2="156.0" stroke="#111" stroke-width="1.1"/>
<line x1="30.1" y1="147.0" x2="30.1" y2="155.5" stroke="#111" stroke-width="1.1"/>
<line x1="179.2" y1="147.0" x2="179.2" y2="155.5" stroke="#111" stroke-width="1.1"/>
<line x1="13.7" y1="147.0" x2="13.7" y2="154.0" stroke="#111" stroke-width="1.1"/>
<line x1="195.6" y1="147.0" x2="195.6" y2="154.0" stroke="#111" stroke-width="1.1"/>
<path d="M13.7,154.0 A91.0,2.6 0 0 0 195.6,154.0" fill="none" stroke="#111" stroke-width="1.1"/>
<path d="M13.7,154.0 A91.0,2.6 0 0 1 195.6,154.0" fill="none" stroke="#111" stroke-width="0.6"/>
<path d="M63.1,80.8 L146.2,80.8 A56.8,56.8 0 0 1 140.4,86.3 A35.7,0.8 0 0 1 69.0,86.3 A56.8,56.8 0 0 1 63.1,80.8 Z" fill="url(#v1)"/>
<path d="M63.1,109.5 L146.2,109.5 A49.2,49.2 0 0 1 139.7,117.8 A35.0,0.8 0 0 1 69.7,117.8 A49.2,49.2 0 0 1 63.1,109.5 Z" fill="url(#v2)"/>
<path d="M71.9,118.3 L137.4,118.3 L129.4,125.0 A24.8,0.8 0 0 1 79.9,125.0 Z" fill="url(#v3)"/>
<path d="M67.2,149.0 L142.2,149.0 A52.1,52.1 0 0 1 135.2,155.0 A30.6,0.8 0 0 1 74.1,155.0 A52.1,52.1 0 0 1 67.2,149.0 Z" fill="url(#v4)"/>
<line x1="71.7" y1="155.3" x2="137.7" y2="155.3" stroke="#000" stroke-width="1.0"/>
<rect x="79.2" y="156.5" width="51.0" height="5.5" fill="#0a1ab8" />
<rect x="89.4" y="161.5" width="30.6" height="3.5" fill="#0a14a0" />
<ellipse cx="104.7" cy="193.5" rx="15.5" ry="3.2" fill="#0a1478"/>
<path d="M13.7,24.8 A91.0,3.0 0 0 1 195.6,24.8 L195.6,50.5 A91.0,1.6 0 0 1 13.7,50.5 Z" fill="url(#h5)"/>
<path d="M13.7,24.8 A91.0,3.0 0 0 0 195.6,24.8" fill="none" stroke="#550000" stroke-width="0.6" opacity="0.8"/>
<path d="M13.7,46.6 A91.0,1.6 0 0 0 195.6,46.6 L195.6,50.5 A91.0,1.6 0 0 1 13.7,50.5 Z" fill="url(#h6)"/>
<path d="M13.7,53.0 A91.0,1.8 0 0 1 195.6,53.0 L195.6,77.4 A91.0,1.0 0 0 1 13.7,77.4 Z" fill="url(#h7)"/>
<path d="M13.7,53.0 A91.0,1.8 0 0 0 195.6,53.0" fill="none" stroke="#924900" stroke-width="0.6" opacity="0.8"/>
<path d="M13.7,86.0 A91.0,0.6 0 0 1 195.6,86.0 L195.6,110.2 A91.0,1.0 0 0 1 13.7,110.2 Z" fill="url(#h8)"/>
<path d="M13.7,86.0 A91.0,0.6 0 0 0 195.6,86.0" fill="none" stroke="#6d913c" stroke-width="0.6" opacity="0.8"/>
<path d="M13.7,124.3 A91.0,0.6 0 0 1 195.6,124.3 L195.6,149.6 A91.0,1.0 0 0 1 13.7,149.6 Z" fill="url(#h9)"/>
<path d="M13.7,124.3 A91.0,0.6 0 0 0 195.6,124.3" fill="none" stroke="#106791" stroke-width="0.6" opacity="0.8"/>
<path d="M13.7,130.5 A91.0,1.0 0 0 0 195.6,130.5" fill="none" stroke="#000" stroke-width="0.8" opacity="0.6"/>
<path d="M13.7,164.4 A91.0,2.0 0 0 1 195.6,164.4 L195.6,191.2 A91.0,2.6 0 0 1 13.7,191.2 Z" fill="url(#h10)"/>
<ellipse cx="104.7" cy="164.4" rx="91.0" ry="3.5" fill="url(#h11)"/>
<path d="M13.7,164.4 A91.0,3.5 0 0 0 195.6,164.4" fill="none" stroke="#000" stroke-width="0.8" opacity="0.7"/>
<rect x="63.1" y="77.9" width="83.2" height="2.4" fill="#e8b400" />
<line x1="63.1" y1="80.4" x2="146.2" y2="80.4" stroke="#111" stroke-width="0.9"/>
<path d="M13.7,44.5 Q50.1,43.0 77.4,42.5" stroke="#200" stroke-width="0.8" fill="none" opacity="0.7"/>
<path d="M131.9,44.0 Q168.3,44.0 195.6,45.5" stroke="#200" stroke-width="0.8" fill="none" opacity="0.7"/>
<path d="M13.7,57.0 Q50.1,55.0 86.5,55.0" stroke="#300" stroke-width="0.8" fill="none" opacity="0.7"/>
<path d="M131.9,56.0 Q168.3,56.0 195.6,57.5" stroke="#300" stroke-width="0.8" fill="none" opacity="0.7"/>
<path d="M13.7,93.5 L27.3,93.3" stroke="#000" stroke-width="0.8" fill="none" opacity="0.7"/>
<path d="M145.6,92.0 Q172.9,92.0 195.6,93.5" stroke="#000" stroke-width="0.8" fill="none" opacity="0.7"/>
<line x1="104.7" y1="123.3" x2="104.7" y2="195.0" stroke="#000" stroke-width="0.8" opacity="0.85"/>
<line x1="104.7" y1="77.0" x2="104.7" y2="80.0" stroke="#000" stroke-width="0.8" opacity="0.85"/>
<line x1="15.4" y1="45.0" x2="15.4" y2="32.5" stroke="#e01010" stroke-width="1.0" opacity="0.9"/>
<path d="M14.3,33.0 L15.4,31.0 L16.5,33.0 Z" fill="#e01010" opacity="0.9"/>
<line x1="37.7" y1="45.0" x2="37.7" y2="32.5" stroke="#e01010" stroke-width="1.0" opacity="0.9"/>
<path d="M36.6,33.0 L37.7,31.0 L38.8,33.0 Z" fill="#e01010" opacity="0.9"/>
<line x1="77.1" y1="45.0" x2="77.1" y2="32.5" stroke="#e01010" stroke-width="1.0" opacity="0.9"/>
<path d="M76.0,33.0 L77.1,31.0 L78.2,33.0 Z" fill="#e01010" opacity="0.9"/>
<line x1="132.2" y1="45.0" x2="132.2" y2="32.5" stroke="#e01010" stroke-width="1.0" opacity="0.9"/>
<path d="M131.2,33.0 L132.2,31.0 L133.3,33.0 Z" fill="#e01010" opacity="0.9"/>
<line x1="171.7" y1="45.0" x2="171.7" y2="32.5" stroke="#e01010" stroke-width="1.0" opacity="0.9"/>
<path d="M170.6,33.0 L171.7,31.0 L172.8,33.0 Z" fill="#e01010" opacity="0.9"/>
<line x1="193.9" y1="45.0" x2="193.9" y2="32.5" stroke="#e01010" stroke-width="1.0" opacity="0.9"/>
<path d="M192.8,33.0 L193.9,31.0 L195.0,33.0 Z" fill="#e01010" opacity="0.9"/>
<line x1="15.4" y1="77.0" x2="15.4" y2="61.5" stroke="#e01010" stroke-width="1.0" opacity="0.9"/>
<path d="M14.3,62.0 L15.4,60.0 L16.5,62.0 Z" fill="#e01010" opacity="0.9"/>
<line x1="37.7" y1="77.0" x2="37.7" y2="61.5" stroke="#e01010" stroke-width="1.0" opacity="0.9"/>
<path d="M36.6,62.0 L37.7,60.0 L38.8,62.0 Z" fill="#e01010" opacity="0.9"/>
<line x1="77.1" y1="77.0" x2="77.1" y2="61.5" stroke="#e01010" stroke-width="1.0" opacity="0.9"/>
<path d="M76.0,62.0 L77.1,60.0 L78.2,62.0 Z" fill="#e01010" opacity="0.9"/>
<line x1="132.2" y1="77.0" x2="132.2" y2="61.5" stroke="#e01010" stroke-width="1.0" opacity="0.9"/>
<path d="M131.2,62.0 L132.2,60.0 L133.3,62.0 Z" fill="#e01010" opacity="0.9"/>
<line x1="171.7" y1="77.0" x2="171.7" y2="61.5" stroke="#e01010" stroke-width="1.0" opacity="0.9"/>
<path d="M170.6,62.0 L171.7,60.0 L172.8,62.0 Z" fill="#e01010" opacity="0.9"/>
<line x1="193.9" y1="77.0" x2="193.9" y2="61.5" stroke="#e01010" stroke-width="1.0" opacity="0.9"/>
<path d="M192.8,62.0 L193.9,60.0 L195.0,62.0 Z" fill="#e01010" opacity="0.9"/>
<line x1="15.4" y1="110.0" x2="15.4" y2="104.5" stroke="#e01010" stroke-width="1.0" opacity="0.9"/>
<path d="M14.3,105.0 L15.4,103.0 L16.5,105.0 Z" fill="#e01010" opacity="0.9"/>
<line x1="37.7" y1="110.0" x2="37.7" y2="104.5" stroke="#e01010" stroke-width="1.0" opacity="0.9"/>
<path d="M36.6,105.0 L37.7,103.0 L38.8,105.0 Z" fill="#e01010" opacity="0.9"/>
<line x1="77.1" y1="110.0" x2="77.1" y2="104.5" stroke="#e01010" stroke-width="1.0" opacity="0.9"/>
<path d="M76.0,105.0 L77.1,103.0 L78.2,105.0 Z" fill="#e01010" opacity="0.9"/>
<line x1="132.2" y1="110.0" x2="132.2" y2="104.5" stroke="#e01010" stroke-width="1.0" opacity="0.9"/>
<path d="M131.2,105.0 L132.2,103.0 L133.3,105.0 Z" fill="#e01010" opacity="0.9"/>
<line x1="171.7" y1="110.0" x2="171.7" y2="104.5" stroke="#e01010" stroke-width="1.0" opacity="0.9"/>
<path d="M170.6,105.0 L171.7,103.0 L172.8,105.0 Z" fill="#e01010" opacity="0.9"/>
<line x1="193.9" y1="110.0" x2="193.9" y2="104.5" stroke="#e01010" stroke-width="1.0" opacity="0.9"/>
<path d="M192.8,105.0 L193.9,103.0 L195.0,105.0 Z" fill="#e01010" opacity="0.9"/>
<line x1="15.4" y1="144.5" x2="15.4" y2="142.5" stroke="#e01010" stroke-width="0.8" opacity="0.5"/>
<path d="M14.3,143.0 L15.4,141.0 L16.5,143.0 Z" fill="#e01010" opacity="0.5"/>
<line x1="37.7" y1="144.5" x2="37.7" y2="142.5" stroke="#e01010" stroke-width="0.8" opacity="0.5"/>
<path d="M36.6,143.0 L37.7,141.0 L38.8,143.0 Z" fill="#e01010" opacity="0.5"/>
<line x1="77.1" y1="144.5" x2="77.1" y2="142.5" stroke="#e01010" stroke-width="0.8" opacity="0.5"/>
<path d="M76.0,143.0 L77.1,141.0 L78.2,143.0 Z" fill="#e01010" opacity="0.5"/>
<line x1="132.2" y1="144.5" x2="132.2" y2="142.5" stroke="#e01010" stroke-width="0.8" opacity="0.5"/>
<path d="M131.2,143.0 L132.2,141.0 L133.3,143.0 Z" fill="#e01010" opacity="0.5"/>
<line x1="171.7" y1="144.5" x2="171.7" y2="142.5" stroke="#e01010" stroke-width="0.8" opacity="0.5"/>
<path d="M170.6,143.0 L171.7,141.0 L172.8,143.0 Z" fill="#e01010" opacity="0.5"/>
<line x1="193.9" y1="144.5" x2="193.9" y2="142.5" stroke="#e01010" stroke-width="0.8" opacity="0.5"/>
<path d="M192.8,143.0 L193.9,141.0 L195.0,143.0 Z" fill="#e01010" opacity="0.5"/>
<line x1="19.7" y1="112.0" x2="19.7" y2="108.5" stroke="#e01010" stroke-width="0.6" opacity="0.7"/>
<path d="M18.6,109.0 L19.7,107.0 L20.8,109.0 Z" fill="#e01010" opacity="0.7"/>
<line x1="22.7" y1="112.0" x2="22.7" y2="108.5" stroke="#e01010" stroke-width="0.6" opacity="0.7"/>
<path d="M21.6,109.0 L22.7,107.0 L23.8,109.0 Z" fill="#e01010" opacity="0.7"/>
<line x1="44.7" y1="112.0" x2="44.7" y2="108.5" stroke="#e01010" stroke-width="0.6" opacity="0.7"/>
<path d="M43.6,109.0 L44.7,107.0 L45.8,109.0 Z" fill="#e01010" opacity="0.7"/>
<line x1="47.6" y1="112.0" x2="47.6" y2="108.5" stroke="#e01010" stroke-width="0.6" opacity="0.7"/>
<path d="M46.5,109.0 L47.6,107.0 L48.8,109.0 Z" fill="#e01010" opacity="0.7"/>
<line x1="59.7" y1="112.0" x2="59.7" y2="108.5" stroke="#e01010" stroke-width="0.6" opacity="0.7"/>
<path d="M58.6,109.0 L59.7,107.0 L60.8,109.0 Z" fill="#e01010" opacity="0.7"/>
<line x1="64.7" y1="112.0" x2="64.7" y2="108.5" stroke="#e01010" stroke-width="0.6" opacity="0.7"/>
<path d="M63.6,109.0 L64.7,107.0 L65.8,109.0 Z" fill="#e01010" opacity="0.7"/>
<line x1="144.7" y1="112.0" x2="144.7" y2="108.5" stroke="#e01010" stroke-width="0.6" opacity="0.7"/>
<path d="M143.6,109.0 L144.7,107.0 L145.8,109.0 Z" fill="#e01010" opacity="0.7"/>
<line x1="149.7" y1="112.0" x2="149.7" y2="108.5" stroke="#e01010" stroke-width="0.6" opacity="0.7"/>
<path d="M148.6,109.0 L149.7,107.0 L150.8,109.0 Z" fill="#e01010" opacity="0.7"/>
<line x1="161.7" y1="112.0" x2="161.7" y2="108.5" stroke="#e01010" stroke-width="0.6" opacity="0.7"/>
<path d="M160.6,109.0 L161.7,107.0 L162.8,109.0 Z" fill="#e01010" opacity="0.7"/>
<line x1="164.7" y1="112.0" x2="164.7" y2="108.5" stroke="#e01010" stroke-width="0.6" opacity="0.7"/>
<path d="M163.6,109.0 L164.7,107.0 L165.8,109.0 Z" fill="#e01010" opacity="0.7"/>
<line x1="186.7" y1="112.0" x2="186.7" y2="108.5" stroke="#e01010" stroke-width="0.6" opacity="0.7"/>
<path d="M185.6,109.0 L186.7,107.0 L187.8,109.0 Z" fill="#e01010" opacity="0.7"/>
<line x1="189.7" y1="112.0" x2="189.7" y2="108.5" stroke="#e01010" stroke-width="0.6" opacity="0.7"/>
<path d="M188.6,109.0 L189.7,107.0 L190.8,109.0 Z" fill="#e01010" opacity="0.7"/>
<line x1="47.6" y1="83.0" x2="47.6" y2="79.5" stroke="#e01010" stroke-width="0.8" opacity="0.9"/>
<path d="M46.5,80.0 L47.6,78.0 L48.8,80.0 Z" fill="#e01010" opacity="0.9"/>
<line x1="64.7" y1="83.0" x2="64.7" y2="79.5" stroke="#e01010" stroke-width="0.8" opacity="0.9"/>
<path d="M63.6,80.0 L64.7,78.0 L65.8,80.0 Z" fill="#e01010" opacity="0.9"/>
<line x1="144.7" y1="83.0" x2="144.7" y2="79.5" stroke="#e01010" stroke-width="0.8" opacity="0.9"/>
<path d="M143.6,80.0 L144.7,78.0 L145.8,80.0 Z" fill="#e01010" opacity="0.9"/>
<line x1="161.7" y1="83.0" x2="161.7" y2="79.5" stroke="#e01010" stroke-width="0.8" opacity="0.9"/>
<path d="M160.6,80.0 L161.7,78.0 L162.8,80.0 Z" fill="#e01010" opacity="0.9"/>
<line x1="47.6" y1="124.0" x2="47.6" y2="119.5" stroke="#e01010" stroke-width="0.8" opacity="0.9"/>
<path d="M46.5,120.0 L47.6,118.0 L48.8,120.0 Z" fill="#e01010" opacity="0.9"/>
<line x1="64.7" y1="124.0" x2="64.7" y2="119.5" stroke="#e01010" stroke-width="0.8" opacity="0.9"/>
<path d="M63.6,120.0 L64.7,118.0 L65.8,120.0 Z" fill="#e01010" opacity="0.9"/>
<line x1="144.7" y1="124.0" x2="144.7" y2="119.5" stroke="#e01010" stroke-width="0.8" opacity="0.9"/>
<path d="M143.6,120.0 L144.7,118.0 L145.8,120.0 Z" fill="#e01010" opacity="0.9"/>
<line x1="161.7" y1="124.0" x2="161.7" y2="119.5" stroke="#e01010" stroke-width="0.8" opacity="0.9"/>
<path d="M160.6,120.0 L161.7,118.0 L162.8,120.0 Z" fill="#e01010" opacity="0.9"/>
<line x1="292.9" y1="30.8" x2="292.9" y2="47.2" stroke="#111" stroke-width="1.1"/>
<line x1="374.2" y1="30.8" x2="374.2" y2="47.2" stroke="#111" stroke-width="1.1"/>
<line x1="276.4" y1="30.8" x2="276.4" y2="46.8" stroke="#111" stroke-width="1.1"/>
<line x1="390.7" y1="30.8" x2="390.7" y2="46.8" stroke="#111" stroke-width="1.1"/>
<line x1="260.3" y1="30.8" x2="260.3" y2="46.2" stroke="#111" stroke-width="1.1"/>
<line x1="406.8" y1="30.8" x2="406.8" y2="46.2" stroke="#111" stroke-width="1.1"/>
<line x1="244.2" y1="30.8" x2="244.2" y2="44.5" stroke="#111" stroke-width="1.1"/>
<line x1="422.9" y1="30.8" x2="422.9" y2="44.5" stroke="#111" stroke-width="1.1"/>
<line x1="292.9" y1="68.1" x2="292.9" y2="86.6" stroke="#111" stroke-width="1.1"/>
<line x1="374.2" y1="68.1" x2="374.2" y2="86.6" stroke="#111" stroke-width="1.1"/>
<line x1="276.4" y1="68.1" x2="276.4" y2="86.2" stroke="#111" stroke-width="1.1"/>
<line x1="390.7" y1="68.1" x2="390.7" y2="86.2" stroke="#111" stroke-width="1.1"/>
<line x1="260.3" y1="68.1" x2="260.3" y2="85.6" stroke="#111" stroke-width="1.1"/>
<line x1="406.8" y1="68.1" x2="406.8" y2="85.6" stroke="#111" stroke-width="1.1"/>
<line x1="244.2" y1="68.1" x2="244.2" y2="83.9" stroke="#111" stroke-width="1.1"/>
<line x1="422.9" y1="68.1" x2="422.9" y2="83.9" stroke="#111" stroke-width="1.1"/>
<line x1="292.9" y1="107.6" x2="292.9" y2="121.8" stroke="#111" stroke-width="1.1"/>
<line x1="374.2" y1="107.6" x2="374.2" y2="121.8" stroke="#111" stroke-width="1.1"/>
<line x1="276.4" y1="107.6" x2="276.4" y2="121.4" stroke="#111" stroke-width="1.1"/>
<line x1="390.7" y1="107.6" x2="390.7" y2="121.4" stroke="#111" stroke-width="1.1"/>
<line x1="260.3" y1="107.6" x2="260.3" y2="120.8" stroke="#111" stroke-width="1.1"/>
<line x1="406.8" y1="107.6" x2="406.8" y2="120.8" stroke="#111" stroke-width="1.1"/>
<line x1="244.2" y1="107.6" x2="244.2" y2="119.1" stroke="#111" stroke-width="1.1"/>
<line x1="422.9" y1="107.6" x2="422.9" y2="119.1" stroke="#111" stroke-width="1.1"/>
<path d="M244.2,119.1 A89.3,3.0 0 0 0 422.9,119.1" fill="none" stroke="#111" stroke-width="1.1"/>
<path d="M244.2,119.1 A89.3,3.0 0 0 1 422.9,119.1" fill="none" stroke="#111" stroke-width="0.6"/>
<line x1="292.9" y1="149.3" x2="292.9" y2="158.4" stroke="#111" stroke-width="1.1"/>
<line x1="374.2" y1="149.3" x2="374.2" y2="158.4" stroke="#111" stroke-width="1.1"/>
<line x1="276.4" y1="149.3" x2="276.4" y2="158.0" stroke="#111" stroke-width="1.1"/>
<line x1="390.7" y1="149.3" x2="390.7" y2="158.0" stroke="#111" stroke-width="1.1"/>
<line x1="260.3" y1="149.3" x2="260.3" y2="157.4" stroke="#111" stroke-width="1.1"/>
<line x1="406.8" y1="149.3" x2="406.8" y2="157.4" stroke="#111" stroke-width="1.1"/>
<line x1="244.2" y1="149.3" x2="244.2" y2="155.7" stroke="#111" stroke-width="1.1"/>
<line x1="422.9" y1="149.3" x2="422.9" y2="155.7" stroke="#111" stroke-width="1.1"/>
<path d="M244.2,155.7 A89.3,3.0 0 0 0 422.9,155.7" fill="none" stroke="#111" stroke-width="1.1"/>
<path d="M244.2,155.7 A89.3,3.0 0 0 1 422.9,155.7" fill="none" stroke="#111" stroke-width="0.6"/>
<path d="M292.5,29.8 L374.6,29.8 A46.5,46.5 0 0 1 364.1,43.0 A30.5,0.8 0 0 1 303.0,43.0 A46.5,46.5 0 0 1 292.5,29.8 Z" fill="url(#v12)"/>
<path d="M292.5,67.1 L374.6,67.1 A46.3,46.3 0 0 1 360.6,83.2 A27.0,0.8 0 0 1 306.5,83.2 A46.3,46.3 0 0 1 292.5,67.1 Z" fill="url(#v13)"/>
<path d="M292.5,106.6 L374.6,106.6 A53.1,53.1 0 0 1 360.6,118.6 A27.0,0.8 0 0 1 306.5,118.6 A53.1,53.1 0 0 1 292.5,106.6 Z" fill="url(#v14)"/>
<rect x="308.5" y="117.6" width="50.0" height="2.5" fill="#0818a0" />
<rect x="318.0" y="119.6" width="31.0" height="6.4" fill="#0a1cb8" />
<path d="M295.5,148.3 L371.6,148.3 A61.2,61.2 0 0 1 358.6,156.2 A25.0,1.0 0 0 1 308.5,156.2 A61.2,61.2 0 0 1 295.5,148.3 Z" fill="url(#v15)"/>
<rect x="318.5" y="155.7" width="30.0" height="9.3" fill="#0a1cb0" />
<rect x="309.0" y="162.0" width="49.0" height="2.5" fill="#0a1890" />
<ellipse cx="333.6" cy="193.0" rx="15.5" ry="3" fill="#0a1478"/>
<path d="M244.2,6.5 A89.3,3.5 0 0 1 422.9,6.5 L422.9,30.8 A89.3,1.2 0 0 1 244.2,30.8 Z" fill="url(#h16)"/>
<path d="M244.2,6.5 A89.3,3.5 0 0 0 422.9,6.5" fill="none" stroke="#550000" stroke-width="0.6" opacity="0.8"/>
<path d="M244.2,25.1 A89.3,3.5 0 0 0 422.9,25.1" fill="none" stroke="#000" stroke-width="0.8" opacity="0.6"/>
<path d="M244.2,44.5 A89.3,0.6 0 0 1 422.9,44.5 L422.9,68.1 A89.3,1.2 0 0 1 244.2,68.1 Z" fill="url(#h17)"/>
<path d="M244.2,44.5 A89.3,0.6 0 0 0 422.9,44.5" fill="none" stroke="#925800" stroke-width="0.6" opacity="0.8"/>
<path d="M244.2,45.9 A89.3,1.0 0 0 0 422.9,45.9" fill="none" stroke="#000" stroke-width="0.8" opacity="0.6"/>
<path d="M244.2,59.5 A89.3,1.0 0 0 0 422.9,59.5" fill="none" stroke="#000" stroke-width="0.8" opacity="0.6"/>
<path d="M244.2,83.9 A89.3,0.6 0 0 1 422.9,83.9 L422.9,107.6 A89.3,1.2 0 0 1 244.2,107.6 Z" fill="url(#h18)"/>
<path d="M244.2,83.9 A89.3,0.6 0 0 0 422.9,83.9" fill="none" stroke="#588f53" stroke-width="0.6" opacity="0.8"/>
<path d="M244.2,95.4 A89.3,1.0 0 0 0 422.9,95.4" fill="none" stroke="#000" stroke-width="0.8" opacity="0.6"/>
<path d="M244.2,125.5 A89.3,0.6 0 0 1 422.9,125.5 L422.9,149.3 A89.3,1.2 0 0 1 244.2,149.3 Z" fill="url(#h19)"/>
<path d="M244.2,125.5 A89.3,0.6 0 0 0 422.9,125.5" fill="none" stroke="#065890" stroke-width="0.6" opacity="0.8"/>
<path d="M244.2,131.5 A89.3,1.0 0 0 0 422.9,131.5" fill="none" stroke="#000" stroke-width="0.8" opacity="0.6"/>
<path d="M244.2,164.0 A89.3,2.0 0 0 1 422.9,164.0 L422.9,191.5 A89.3,2.6 0 0 1 244.2,191.5 Z" fill="url(#h20)"/>
<ellipse cx="333.6" cy="164.0" rx="89.3" ry="3.5" fill="url(#h21)"/>
<path d="M244.2,164.0 A89.3,3.5 0 0 0 422.9,164.0" fill="none" stroke="#000" stroke-width="0.8" opacity="0.7"/>
<line x1="333.6" y1="27.8" x2="333.6" y2="195.5" stroke="#000" stroke-width="0.8" opacity="0.85"/>
<line x1="246.0" y1="43.0" x2="246.0" y2="37.5" stroke="#e01010" stroke-width="0.8" opacity="0.85"/>
<path d="M244.9,38.0 L246.0,36.0 L247.1,38.0 Z" fill="#e01010" opacity="0.85"/>
<line x1="249.0" y1="43.0" x2="249.0" y2="37.5" stroke="#e01010" stroke-width="0.8" opacity="0.85"/>
<path d="M247.9,38.0 L249.0,36.0 L250.1,38.0 Z" fill="#e01010" opacity="0.85"/>
<line x1="262.2" y1="43.0" x2="262.2" y2="37.5" stroke="#e01010" stroke-width="0.8" opacity="0.85"/>
<path d="M261.1,38.0 L262.2,36.0 L263.3,38.0 Z" fill="#e01010" opacity="0.85"/>
<line x1="264.0" y1="43.0" x2="264.0" y2="37.5" stroke="#e01010" stroke-width="0.8" opacity="0.85"/>
<path d="M262.9,38.0 L264.0,36.0 L265.1,38.0 Z" fill="#e01010" opacity="0.85"/>
<line x1="267.6" y1="43.0" x2="267.6" y2="37.5" stroke="#e01010" stroke-width="0.8" opacity="0.85"/>
<path d="M266.5,38.0 L267.6,36.0 L268.7,38.0 Z" fill="#e01010" opacity="0.85"/>
<line x1="272.3" y1="43.0" x2="272.3" y2="37.5" stroke="#e01010" stroke-width="0.8" opacity="0.85"/>
<path d="M271.2,38.0 L272.3,36.0 L273.4,38.0 Z" fill="#e01010" opacity="0.85"/>
<line x1="279.3" y1="43.0" x2="279.3" y2="37.5" stroke="#e01010" stroke-width="0.8" opacity="0.85"/>
<path d="M278.2,38.0 L279.3,36.0 L280.4,38.0 Z" fill="#e01010" opacity="0.85"/>
<line x1="282.2" y1="43.0" x2="282.2" y2="37.5" stroke="#e01010" stroke-width="0.8" opacity="0.85"/>
<path d="M281.1,38.0 L282.2,36.0 L283.3,38.0 Z" fill="#e01010" opacity="0.85"/>
<line x1="295.5" y1="43.0" x2="295.5" y2="37.5" stroke="#e01010" stroke-width="0.8" opacity="0.85"/>
<path d="M294.4,38.0 L295.5,36.0 L296.6,38.0 Z" fill="#e01010" opacity="0.85"/>
<line x1="306.3" y1="43.0" x2="306.3" y2="37.5" stroke="#e01010" stroke-width="0.8" opacity="0.85"/>
<path d="M305.2,38.0 L306.3,36.0 L307.4,38.0 Z" fill="#e01010" opacity="0.85"/>
<line x1="309.2" y1="43.0" x2="309.2" y2="37.5" stroke="#e01010" stroke-width="0.8" opacity="0.85"/>
<path d="M308.1,38.0 L309.2,36.0 L310.3,38.0 Z" fill="#e01010" opacity="0.85"/>
<line x1="311.1" y1="43.0" x2="311.1" y2="37.5" stroke="#e01010" stroke-width="0.8" opacity="0.85"/>
<path d="M310.0,38.0 L311.1,36.0 L312.2,38.0 Z" fill="#e01010" opacity="0.85"/>
<line x1="315.8" y1="43.0" x2="315.8" y2="37.5" stroke="#e01010" stroke-width="0.8" opacity="0.85"/>
<path d="M314.7,38.0 L315.8,36.0 L316.9,38.0 Z" fill="#e01010" opacity="0.85"/>
<line x1="351.3" y1="43.0" x2="351.3" y2="37.5" stroke="#e01010" stroke-width="0.8" opacity="0.85"/>
<path d="M350.2,38.0 L351.3,36.0 L352.4,38.0 Z" fill="#e01010" opacity="0.85"/>
<line x1="356.0" y1="43.0" x2="356.0" y2="37.5" stroke="#e01010" stroke-width="0.8" opacity="0.85"/>
<path d="M354.9,38.0 L356.0,36.0 L357.1,38.0 Z" fill="#e01010" opacity="0.85"/>
<line x1="357.9" y1="43.0" x2="357.9" y2="37.5" stroke="#e01010" stroke-width="0.8" opacity="0.85"/>
<path d="M356.8,38.0 L357.9,36.0 L359.0,38.0 Z" fill="#e01010" opacity="0.85"/>
<line x1="360.8" y1="43.0" x2="360.8" y2="37.5" stroke="#e01010" stroke-width="0.8" opacity="0.85"/>
<path d="M359.7,38.0 L360.8,36.0 L361.9,38.0 Z" fill="#e01010" opacity="0.85"/>
<line x1="371.6" y1="43.0" x2="371.6" y2="37.5" stroke="#e01010" stroke-width="0.8" opacity="0.85"/>
<path d="M370.5,38.0 L371.6,36.0 L372.7,38.0 Z" fill="#e01010" opacity="0.85"/>
<line x1="384.9" y1="43.0" x2="384.9" y2="37.5" stroke="#e01010" stroke-width="0.8" opacity="0.85"/>
<path d="M383.8,38.0 L384.9,36.0 L386.0,38.0 Z" fill="#e01010" opacity="0.85"/>
<line x1="387.8" y1="43.0" x2="387.8" y2="37.5" stroke="#e01010" stroke-width="0.8" opacity="0.85"/>
<path d="M386.7,38.0 L387.8,36.0 L388.9,38.0 Z" fill="#e01010" opacity="0.85"/>
<line x1="394.8" y1="43.0" x2="394.8" y2="37.5" stroke="#e01010" stroke-width="0.8" opacity="0.85"/>
<path d="M393.7,38.0 L394.8,36.0 L395.9,38.0 Z" fill="#e01010" opacity="0.85"/>
<line x1="399.5" y1="43.0" x2="399.5" y2="37.5" stroke="#e01010" stroke-width="0.8" opacity="0.85"/>
<path d="M398.4,38.0 L399.5,36.0 L400.6,38.0 Z" fill="#e01010" opacity="0.85"/>
<line x1="403.1" y1="43.0" x2="403.1" y2="37.5" stroke="#e01010" stroke-width="0.8" opacity="0.85"/>
<path d="M402.0,38.0 L403.1,36.0 L404.2,38.0 Z" fill="#e01010" opacity="0.85"/>
<line x1="404.9" y1="43.0" x2="404.9" y2="37.5" stroke="#e01010" stroke-width="0.8" opacity="0.85"/>
<path d="M403.8,38.0 L404.9,36.0 L406.0,38.0 Z" fill="#e01010" opacity="0.85"/>
<line x1="418.1" y1="43.0" x2="418.1" y2="37.5" stroke="#e01010" stroke-width="0.8" opacity="0.85"/>
<path d="M417.0,38.0 L418.1,36.0 L419.2,38.0 Z" fill="#e01010" opacity="0.85"/>
<line x1="421.1" y1="43.0" x2="421.1" y2="37.5" stroke="#e01010" stroke-width="0.8" opacity="0.85"/>
<path d="M420.0,38.0 L421.1,36.0 L422.2,38.0 Z" fill="#e01010" opacity="0.85"/>
<line x1="246.0" y1="82.4" x2="246.0" y2="76.9" stroke="#e01010" stroke-width="0.8" opacity="0.85"/>
<path d="M244.9,77.4 L246.0,75.4 L247.1,77.4 Z" fill="#e01010" opacity="0.85"/>
<line x1="249.0" y1="82.4" x2="249.0" y2="76.9" stroke="#e01010" stroke-width="0.8" opacity="0.85"/>
<path d="M247.9,77.4 L249.0,75.4 L250.1,77.4 Z" fill="#e01010" opacity="0.85"/>
<line x1="262.2" y1="82.4" x2="262.2" y2="76.9" stroke="#e01010" stroke-width="0.8" opacity="0.85"/>
<path d="M261.1,77.4 L262.2,75.4 L263.3,77.4 Z" fill="#e01010" opacity="0.85"/>
<line x1="264.0" y1="82.4" x2="264.0" y2="76.9" stroke="#e01010" stroke-width="0.8" opacity="0.85"/>
<path d="M262.9,77.4 L264.0,75.4 L265.1,77.4 Z" fill="#e01010" opacity="0.85"/>
<line x1="267.6" y1="82.4" x2="267.6" y2="76.9" stroke="#e01010" stroke-width="0.8" opacity="0.85"/>
<path d="M266.5,77.4 L267.6,75.4 L268.7,77.4 Z" fill="#e01010" opacity="0.85"/>
<line x1="272.3" y1="82.4" x2="272.3" y2="76.9" stroke="#e01010" stroke-width="0.8" opacity="0.85"/>
<path d="M271.2,77.4 L272.3,75.4 L273.4,77.4 Z" fill="#e01010" opacity="0.85"/>
<line x1="279.3" y1="82.4" x2="279.3" y2="76.9" stroke="#e01010" stroke-width="0.8" opacity="0.85"/>
<path d="M278.2,77.4 L279.3,75.4 L280.4,77.4 Z" fill="#e01010" opacity="0.85"/>
<line x1="282.2" y1="82.4" x2="282.2" y2="76.9" stroke="#e01010" stroke-width="0.8" opacity="0.85"/>
<path d="M281.1,77.4 L282.2,75.4 L283.3,77.4 Z" fill="#e01010" opacity="0.85"/>
<line x1="295.5" y1="82.4" x2="295.5" y2="76.9" stroke="#e01010" stroke-width="0.8" opacity="0.85"/>
<path d="M294.4,77.4 L295.5,75.4 L296.6,77.4 Z" fill="#e01010" opacity="0.85"/>
<line x1="306.3" y1="82.4" x2="306.3" y2="76.9" stroke="#e01010" stroke-width="0.8" opacity="0.85"/>
<path d="M305.2,77.4 L306.3,75.4 L307.4,77.4 Z" fill="#e01010" opacity="0.85"/>
<line x1="309.2" y1="82.4" x2="309.2" y2="76.9" stroke="#e01010" stroke-width="0.8" opacity="0.85"/>
<path d="M308.1,77.4 L309.2,75.4 L310.3,77.4 Z" fill="#e01010" opacity="0.85"/>
<line x1="311.1" y1="82.4" x2="311.1" y2="76.9" stroke="#e01010" stroke-width="0.8" opacity="0.85"/>
<path d="M310.0,77.4 L311.1,75.4 L312.2,77.4 Z" fill="#e01010" opacity="0.85"/>
<line x1="315.8" y1="82.4" x2="315.8" y2="76.9" stroke="#e01010" stroke-width="0.8" opacity="0.85"/>
<path d="M314.7,77.4 L315.8,75.4 L316.9,77.4 Z" fill="#e01010" opacity="0.85"/>
<line x1="351.3" y1="82.4" x2="351.3" y2="76.9" stroke="#e01010" stroke-width="0.8" opacity="0.85"/>
<path d="M350.2,77.4 L351.3,75.4 L352.4,77.4 Z" fill="#e01010" opacity="0.85"/>
<line x1="356.0" y1="82.4" x2="356.0" y2="76.9" stroke="#e01010" stroke-width="0.8" opacity="0.85"/>
<path d="M354.9,77.4 L356.0,75.4 L357.1,77.4 Z" fill="#e01010" opacity="0.85"/>
<line x1="357.9" y1="82.4" x2="357.9" y2="76.9" stroke="#e01010" stroke-width="0.8" opacity="0.85"/>
<path d="M356.8,77.4 L357.9,75.4 L359.0,77.4 Z" fill="#e01010" opacity="0.85"/>
<line x1="360.8" y1="82.4" x2="360.8" y2="76.9" stroke="#e01010" stroke-width="0.8" opacity="0.85"/>
<path d="M359.7,77.4 L360.8,75.4 L361.9,77.4 Z" fill="#e01010" opacity="0.85"/>
<line x1="371.6" y1="82.4" x2="371.6" y2="76.9" stroke="#e01010" stroke-width="0.8" opacity="0.85"/>
<path d="M370.5,77.4 L371.6,75.4 L372.7,77.4 Z" fill="#e01010" opacity="0.85"/>
<line x1="384.9" y1="82.4" x2="384.9" y2="76.9" stroke="#e01010" stroke-width="0.8" opacity="0.85"/>
<path d="M383.8,77.4 L384.9,75.4 L386.0,77.4 Z" fill="#e01010" opacity="0.85"/>
<line x1="387.8" y1="82.4" x2="387.8" y2="76.9" stroke="#e01010" stroke-width="0.8" opacity="0.85"/>
<path d="M386.7,77.4 L387.8,75.4 L388.9,77.4 Z" fill="#e01010" opacity="0.85"/>
<line x1="394.8" y1="82.4" x2="394.8" y2="76.9" stroke="#e01010" stroke-width="0.8" opacity="0.85"/>
<path d="M393.7,77.4 L394.8,75.4 L395.9,77.4 Z" fill="#e01010" opacity="0.85"/>
<line x1="399.5" y1="82.4" x2="399.5" y2="76.9" stroke="#e01010" stroke-width="0.8" opacity="0.85"/>
<path d="M398.4,77.4 L399.5,75.4 L400.6,77.4 Z" fill="#e01010" opacity="0.85"/>
<line x1="403.1" y1="82.4" x2="403.1" y2="76.9" stroke="#e01010" stroke-width="0.8" opacity="0.85"/>
<path d="M402.0,77.4 L403.1,75.4 L404.2,77.4 Z" fill="#e01010" opacity="0.85"/>
<line x1="404.9" y1="82.4" x2="404.9" y2="76.9" stroke="#e01010" stroke-width="0.8" opacity="0.85"/>
<path d="M403.8,77.4 L404.9,75.4 L406.0,77.4 Z" fill="#e01010" opacity="0.85"/>
<line x1="418.1" y1="82.4" x2="418.1" y2="76.9" stroke="#e01010" stroke-width="0.8" opacity="0.85"/>
<path d="M417.0,77.4 L418.1,75.4 L419.2,77.4 Z" fill="#e01010" opacity="0.85"/>
<line x1="421.1" y1="82.4" x2="421.1" y2="76.9" stroke="#e01010" stroke-width="0.8" opacity="0.85"/>
<path d="M420.0,77.4 L421.1,75.4 L422.2,77.4 Z" fill="#e01010" opacity="0.85"/>
<line x1="246.0" y1="114.6" x2="246.0" y2="110.1" stroke="#e01010" stroke-width="0.7" opacity="0.6"/>
<path d="M244.9,110.6 L246.0,108.6 L247.1,110.6 Z" fill="#e01010" opacity="0.6"/>
<line x1="249.0" y1="114.6" x2="249.0" y2="110.1" stroke="#e01010" stroke-width="0.7" opacity="0.6"/>
<path d="M247.9,110.6 L249.0,108.6 L250.1,110.6 Z" fill="#e01010" opacity="0.6"/>
<line x1="262.2" y1="114.6" x2="262.2" y2="110.1" stroke="#e01010" stroke-width="0.7" opacity="0.6"/>
<path d="M261.1,110.6 L262.2,108.6 L263.3,110.6 Z" fill="#e01010" opacity="0.6"/>
<line x1="264.0" y1="114.6" x2="264.0" y2="110.1" stroke="#e01010" stroke-width="0.7" opacity="0.6"/>
<path d="M262.9,110.6 L264.0,108.6 L265.1,110.6 Z" fill="#e01010" opacity="0.6"/>
<line x1="267.6" y1="114.6" x2="267.6" y2="110.1" stroke="#e01010" stroke-width="0.7" opacity="0.6"/>
<path d="M266.5,110.6 L267.6,108.6 L268.7,110.6 Z" fill="#e01010" opacity="0.6"/>
<line x1="272.3" y1="114.6" x2="272.3" y2="110.1" stroke="#e01010" stroke-width="0.7" opacity="0.6"/>
<path d="M271.2,110.6 L272.3,108.6 L273.4,110.6 Z" fill="#e01010" opacity="0.6"/>
<line x1="279.3" y1="114.6" x2="279.3" y2="110.1" stroke="#e01010" stroke-width="0.7" opacity="0.6"/>
<path d="M278.2,110.6 L279.3,108.6 L280.4,110.6 Z" fill="#e01010" opacity="0.6"/>
<line x1="282.2" y1="114.6" x2="282.2" y2="110.1" stroke="#e01010" stroke-width="0.7" opacity="0.6"/>
<path d="M281.1,110.6 L282.2,108.6 L283.3,110.6 Z" fill="#e01010" opacity="0.6"/>
<line x1="295.5" y1="114.6" x2="295.5" y2="110.1" stroke="#e01010" stroke-width="0.7" opacity="0.6"/>
<path d="M294.4,110.6 L295.5,108.6 L296.6,110.6 Z" fill="#e01010" opacity="0.6"/>
<line x1="306.3" y1="114.6" x2="306.3" y2="110.1" stroke="#e01010" stroke-width="0.7" opacity="0.6"/>
<path d="M305.2,110.6 L306.3,108.6 L307.4,110.6 Z" fill="#e01010" opacity="0.6"/>
<line x1="309.2" y1="114.6" x2="309.2" y2="110.1" stroke="#e01010" stroke-width="0.7" opacity="0.6"/>
<path d="M308.1,110.6 L309.2,108.6 L310.3,110.6 Z" fill="#e01010" opacity="0.6"/>
<line x1="311.1" y1="114.6" x2="311.1" y2="110.1" stroke="#e01010" stroke-width="0.7" opacity="0.6"/>
<path d="M310.0,110.6 L311.1,108.6 L312.2,110.6 Z" fill="#e01010" opacity="0.6"/>
<line x1="315.8" y1="114.6" x2="315.8" y2="110.1" stroke="#e01010" stroke-width="0.7" opacity="0.6"/>
<path d="M314.7,110.6 L315.8,108.6 L316.9,110.6 Z" fill="#e01010" opacity="0.6"/>
<line x1="351.3" y1="114.6" x2="351.3" y2="110.1" stroke="#e01010" stroke-width="0.7" opacity="0.6"/>
<path d="M350.2,110.6 L351.3,108.6 L352.4,110.6 Z" fill="#e01010" opacity="0.6"/>
<line x1="356.0" y1="114.6" x2="356.0" y2="110.1" stroke="#e01010" stroke-width="0.7" opacity="0.6"/>
<path d="M354.9,110.6 L356.0,108.6 L357.1,110.6 Z" fill="#e01010" opacity="0.6"/>
<line x1="357.9" y1="114.6" x2="357.9" y2="110.1" stroke="#e01010" stroke-width="0.7" opacity="0.6"/>
<path d="M356.8,110.6 L357.9,108.6 L359.0,110.6 Z" fill="#e01010" opacity="0.6"/>
<line x1="360.8" y1="114.6" x2="360.8" y2="110.1" stroke="#e01010" stroke-width="0.7" opacity="0.6"/>
<path d="M359.7,110.6 L360.8,108.6 L361.9,110.6 Z" fill="#e01010" opacity="0.6"/>
<line x1="371.6" y1="114.6" x2="371.6" y2="110.1" stroke="#e01010" stroke-width="0.7" opacity="0.6"/>
<path d="M370.5,110.6 L371.6,108.6 L372.7,110.6 Z" fill="#e01010" opacity="0.6"/>
<line x1="384.9" y1="114.6" x2="384.9" y2="110.1" stroke="#e01010" stroke-width="0.7" opacity="0.6"/>
<path d="M383.8,110.6 L384.9,108.6 L386.0,110.6 Z" fill="#e01010" opacity="0.6"/>
<line x1="387.8" y1="114.6" x2="387.8" y2="110.1" stroke="#e01010" stroke-width="0.7" opacity="0.6"/>
<path d="M386.7,110.6 L387.8,108.6 L388.9,110.6 Z" fill="#e01010" opacity="0.6"/>
<line x1="394.8" y1="114.6" x2="394.8" y2="110.1" stroke="#e01010" stroke-width="0.7" opacity="0.6"/>
<path d="M393.7,110.6 L394.8,108.6 L395.9,110.6 Z" fill="#e01010" opacity="0.6"/>
<line x1="399.5" y1="114.6" x2="399.5" y2="110.1" stroke="#e01010" stroke-width="0.7" opacity="0.6"/>
<path d="M398.4,110.6 L399.5,108.6 L400.6,110.6 Z" fill="#e01010" opacity="0.6"/>
<line x1="403.1" y1="114.6" x2="403.1" y2="110.1" stroke="#e01010" stroke-width="0.7" opacity="0.6"/>
<path d="M402.0,110.6 L403.1,108.6 L404.2,110.6 Z" fill="#e01010" opacity="0.6"/>
<line x1="404.9" y1="114.6" x2="404.9" y2="110.1" stroke="#e01010" stroke-width="0.7" opacity="0.6"/>
<path d="M403.8,110.6 L404.9,108.6 L406.0,110.6 Z" fill="#e01010" opacity="0.6"/>
<line x1="418.1" y1="114.6" x2="418.1" y2="110.1" stroke="#e01010" stroke-width="0.7" opacity="0.6"/>
<path d="M417.0,110.6 L418.1,108.6 L419.2,110.6 Z" fill="#e01010" opacity="0.6"/>
<line x1="421.1" y1="114.6" x2="421.1" y2="110.1" stroke="#e01010" stroke-width="0.7" opacity="0.6"/>
<path d="M420.0,110.6 L421.1,108.6 L422.2,110.6 Z" fill="#e01010" opacity="0.6"/>
<line x1="515.3" y1="30.1" x2="515.3" y2="47.9" stroke="#111" stroke-width="1.1"/>
<line x1="598.0" y1="30.1" x2="598.0" y2="47.9" stroke="#111" stroke-width="1.1"/>
<line x1="498.5" y1="30.1" x2="498.5" y2="47.5" stroke="#111" stroke-width="1.1"/>
<line x1="614.8" y1="30.1" x2="614.8" y2="47.5" stroke="#111" stroke-width="1.1"/>
<line x1="482.2" y1="30.1" x2="482.2" y2="46.9" stroke="#111" stroke-width="1.1"/>
<line x1="631.1" y1="30.1" x2="631.1" y2="46.9" stroke="#111" stroke-width="1.1"/>
<line x1="465.8" y1="30.1" x2="465.8" y2="45.2" stroke="#111" stroke-width="1.1"/>
<line x1="647.5" y1="30.1" x2="647.5" y2="45.2" stroke="#111" stroke-width="1.1"/>
<line x1="515.3" y1="69.6" x2="515.3" y2="88.7" stroke="#111" stroke-width="1.1"/>
<line x1="598.0" y1="69.6" x2="598.0" y2="88.7" stroke="#111" stroke-width="1.1"/>
<line x1="498.5" y1="69.6" x2="498.5" y2="88.3" stroke="#111" stroke-width="1.1"/>
<line x1="614.8" y1="69.6" x2="614.8" y2="88.3" stroke="#111" stroke-width="1.1"/>
<line x1="482.2" y1="69.6" x2="482.2" y2="87.7" stroke="#111" stroke-width="1.1"/>
<line x1="631.1" y1="69.6" x2="631.1" y2="87.7" stroke="#111" stroke-width="1.1"/>
<line x1="465.8" y1="69.6" x2="465.8" y2="86.0" stroke="#111" stroke-width="1.1"/>
<line x1="647.5" y1="69.6" x2="647.5" y2="86.0" stroke="#111" stroke-width="1.1"/>
<line x1="515.3" y1="109.8" x2="515.3" y2="121.8" stroke="#111" stroke-width="1.1"/>
<line x1="598.0" y1="109.8" x2="598.0" y2="121.8" stroke="#111" stroke-width="1.1"/>
<line x1="498.5" y1="109.8" x2="498.5" y2="121.4" stroke="#111" stroke-width="1.1"/>
<line x1="614.8" y1="109.8" x2="614.8" y2="121.4" stroke="#111" stroke-width="1.1"/>
<line x1="482.2" y1="109.8" x2="482.2" y2="120.8" stroke="#111" stroke-width="1.1"/>
<line x1="631.1" y1="109.8" x2="631.1" y2="120.8" stroke="#111" stroke-width="1.1"/>
<line x1="465.8" y1="109.8" x2="465.8" y2="119.1" stroke="#111" stroke-width="1.1"/>
<line x1="647.5" y1="109.8" x2="647.5" y2="119.1" stroke="#111" stroke-width="1.1"/>
<path d="M465.8,119.1 A90.8,3.0 0 0 0 647.5,119.1" fill="none" stroke="#111" stroke-width="1.1"/>
<path d="M465.8,119.1 A90.8,3.0 0 0 1 647.5,119.1" fill="none" stroke="#111" stroke-width="0.6"/>
<line x1="515.3" y1="150.6" x2="515.3" y2="158.9" stroke="#111" stroke-width="1.1"/>
<line x1="598.0" y1="150.6" x2="598.0" y2="158.9" stroke="#111" stroke-width="1.1"/>
<line x1="498.5" y1="150.6" x2="498.5" y2="158.5" stroke="#111" stroke-width="1.1"/>
<line x1="614.8" y1="150.6" x2="614.8" y2="158.5" stroke="#111" stroke-width="1.1"/>
<line x1="482.2" y1="150.6" x2="482.2" y2="157.9" stroke="#111" stroke-width="1.1"/>
<line x1="631.1" y1="150.6" x2="631.1" y2="157.9" stroke="#111" stroke-width="1.1"/>
<line x1="465.8" y1="150.6" x2="465.8" y2="156.2" stroke="#111" stroke-width="1.1"/>
<line x1="647.5" y1="150.6" x2="647.5" y2="156.2" stroke="#111" stroke-width="1.1"/>
<path d="M465.8,156.2 A90.8,3.0 0 0 0 647.5,156.2" fill="none" stroke="#111" stroke-width="1.1"/>
<path d="M465.8,156.2 A90.8,3.0 0 0 1 647.5,156.2" fill="none" stroke="#111" stroke-width="0.6"/>
<path d="M514.9,29.1 L598.4,29.1 A46.0,46.0 0 0 1 587.7,43.7 A31.0,0.8 0 0 1 525.6,43.7 A46.0,46.0 0 0 1 514.9,29.1 Z" fill="url(#v22)"/>
<path d="M514.9,68.6 L598.4,68.6 A46.8,46.8 0 0 1 584.1,85.3 A27.5,0.8 0 0 1 529.2,85.3 A46.8,46.8 0 0 1 514.9,68.6 Z" fill="url(#v23)"/>
<path d="M514.9,108.8 L598.4,108.8 A61.6,61.6 0 0 1 584.1,118.6 A27.5,0.8 0 0 1 529.2,118.6 A61.6,61.6 0 0 1 514.9,108.8 Z" fill="url(#v24)"/>
<rect x="531.2" y="117.6" width="50.9" height="2.5" fill="#0818a0" />
<rect x="540.9" y="119.6" width="31.5" height="7.2" fill="#0a1cb8" />
<path d="M518.0,149.6 L595.3,149.6 A68.2,68.2 0 0 1 582.1,156.7 A25.4,1.0 0 0 1 531.2,156.7 A68.2,68.2 0 0 1 518.0,149.6 Z" fill="url(#v25)"/>
<rect x="541.4" y="156.2" width="30.5" height="9.1" fill="#0a1cb0" />
<rect x="531.7" y="162.3" width="49.9" height="2.5" fill="#0a1890" />
<ellipse cx="556.6" cy="193.0" rx="15.8" ry="3" fill="#0a1478"/>
<path d="M465.8,5.0 A90.8,3.5 0 0 1 647.5,5.0 L647.5,30.1 A90.8,1.2 0 0 1 465.8,30.1 Z" fill="url(#h26)"/>
<path d="M465.8,5.0 A90.8,3.5 0 0 0 647.5,5.0" fill="none" stroke="#550000" stroke-width="0.6" opacity="0.8"/>
<path d="M465.8,23.0 A90.8,3.5 0 0 0 647.5,23.0" fill="none" stroke="#000" stroke-width="0.8" opacity="0.6"/>
<path d="M465.8,45.2 A90.8,0.6 0 0 1 647.5,45.2 L647.5,69.6 A90.8,1.2 0 0 1 465.8,69.6 Z" fill="url(#h27)"/>
<path d="M465.8,45.2 A90.8,0.6 0 0 0 647.5,45.2" fill="none" stroke="#946607" stroke-width="0.6" opacity="0.8"/>
<path d="M465.8,58.1 A90.8,1.0 0 0 0 647.5,58.1" fill="none" stroke="#000" stroke-width="0.8" opacity="0.6"/>
<path d="M465.8,86.0 A90.8,0.6 0 0 1 647.5,86.0 L647.5,109.8 A90.8,1.2 0 0 1 465.8,109.8 Z" fill="url(#h28)"/>
<path d="M465.8,86.0 A90.8,0.6 0 0 0 647.5,86.0" fill="none" stroke="#4d8e60" stroke-width="0.6" opacity="0.8"/>
<path d="M465.8,95.4 A90.8,1.0 0 0 0 647.5,95.4" fill="none" stroke="#000" stroke-width="0.8" opacity="0.6"/>
<path d="M465.8,126.3 A90.8,0.6 0 0 1 647.5,126.3 L647.5,150.6 A90.8,1.2 0 0 1 465.8,150.6 Z" fill="url(#h29)"/>
<path d="M465.8,126.3 A90.8,0.6 0 0 0 647.5,126.3" fill="none" stroke="#0c5290" stroke-width="0.6" opacity="0.8"/>
<path d="M465.8,131.5 A90.8,1.0 0 0 0 647.5,131.5" fill="none" stroke="#000" stroke-width="0.8" opacity="0.6"/>
<path d="M465.8,164.3 A90.8,2.0 0 0 1 647.5,164.3 L647.5,191.5 A90.8,2.6 0 0 1 465.8,191.5 Z" fill="url(#h30)"/>
<ellipse cx="556.6" cy="164.3" rx="90.8" ry="3.5" fill="url(#h31)"/>
<path d="M465.8,164.3 A90.8,3.5 0 0 0 647.5,164.3" fill="none" stroke="#000" stroke-width="0.8" opacity="0.7"/>
<line x1="556.6" y1="27.1" x2="556.6" y2="195.5" stroke="#000" stroke-width="0.8" opacity="0.85"/>
<line x1="467.6" y1="43.7" x2="467.6" y2="38.2" stroke="#e01010" stroke-width="0.8" opacity="0.85"/>
<path d="M466.5,38.7 L467.6,36.7 L468.7,38.7 Z" fill="#e01010" opacity="0.85"/>
<line x1="470.7" y1="43.7" x2="470.7" y2="38.2" stroke="#e01010" stroke-width="0.8" opacity="0.85"/>
<path d="M469.6,38.7 L470.7,36.7 L471.8,38.7 Z" fill="#e01010" opacity="0.85"/>
<line x1="484.1" y1="43.7" x2="484.1" y2="38.2" stroke="#e01010" stroke-width="0.8" opacity="0.85"/>
<path d="M483.0,38.7 L484.1,36.7 L485.2,38.7 Z" fill="#e01010" opacity="0.85"/>
<line x1="485.9" y1="43.7" x2="485.9" y2="38.2" stroke="#e01010" stroke-width="0.8" opacity="0.85"/>
<path d="M484.8,38.7 L485.9,36.7 L487.0,38.7 Z" fill="#e01010" opacity="0.85"/>
<line x1="489.6" y1="43.7" x2="489.6" y2="38.2" stroke="#e01010" stroke-width="0.8" opacity="0.85"/>
<path d="M488.5,38.7 L489.6,36.7 L490.7,38.7 Z" fill="#e01010" opacity="0.85"/>
<line x1="494.4" y1="43.7" x2="494.4" y2="38.2" stroke="#e01010" stroke-width="0.8" opacity="0.85"/>
<path d="M493.3,38.7 L494.4,36.7 L495.5,38.7 Z" fill="#e01010" opacity="0.85"/>
<line x1="501.5" y1="43.7" x2="501.5" y2="38.2" stroke="#e01010" stroke-width="0.8" opacity="0.85"/>
<path d="M500.4,38.7 L501.5,36.7 L502.6,38.7 Z" fill="#e01010" opacity="0.85"/>
<line x1="504.5" y1="43.7" x2="504.5" y2="38.2" stroke="#e01010" stroke-width="0.8" opacity="0.85"/>
<path d="M503.4,38.7 L504.5,36.7 L505.6,38.7 Z" fill="#e01010" opacity="0.85"/>
<line x1="518.0" y1="43.7" x2="518.0" y2="38.2" stroke="#e01010" stroke-width="0.8" opacity="0.85"/>
<path d="M516.9,38.7 L518.0,36.7 L519.1,38.7 Z" fill="#e01010" opacity="0.85"/>
<line x1="529.0" y1="43.7" x2="529.0" y2="38.2" stroke="#e01010" stroke-width="0.8" opacity="0.85"/>
<path d="M527.9,38.7 L529.0,36.7 L530.1,38.7 Z" fill="#e01010" opacity="0.85"/>
<line x1="531.9" y1="43.7" x2="531.9" y2="38.2" stroke="#e01010" stroke-width="0.8" opacity="0.85"/>
<path d="M530.8,38.7 L531.9,36.7 L533.0,38.7 Z" fill="#e01010" opacity="0.85"/>
<line x1="533.9" y1="43.7" x2="533.9" y2="38.2" stroke="#e01010" stroke-width="0.8" opacity="0.85"/>
<path d="M532.8,38.7 L533.9,36.7 L535.0,38.7 Z" fill="#e01010" opacity="0.85"/>
<line x1="538.6" y1="43.7" x2="538.6" y2="38.2" stroke="#e01010" stroke-width="0.8" opacity="0.85"/>
<path d="M537.5,38.7 L538.6,36.7 L539.7,38.7 Z" fill="#e01010" opacity="0.85"/>
<line x1="574.7" y1="43.7" x2="574.7" y2="38.2" stroke="#e01010" stroke-width="0.8" opacity="0.85"/>
<path d="M573.6,38.7 L574.7,36.7 L575.8,38.7 Z" fill="#e01010" opacity="0.85"/>
<line x1="579.4" y1="43.7" x2="579.4" y2="38.2" stroke="#e01010" stroke-width="0.8" opacity="0.85"/>
<path d="M578.3,38.7 L579.4,36.7 L580.5,38.7 Z" fill="#e01010" opacity="0.85"/>
<line x1="581.4" y1="43.7" x2="581.4" y2="38.2" stroke="#e01010" stroke-width="0.8" opacity="0.85"/>
<path d="M580.3,38.7 L581.4,36.7 L582.5,38.7 Z" fill="#e01010" opacity="0.85"/>
<line x1="584.3" y1="43.7" x2="584.3" y2="38.2" stroke="#e01010" stroke-width="0.8" opacity="0.85"/>
<path d="M583.2,38.7 L584.3,36.7 L585.4,38.7 Z" fill="#e01010" opacity="0.85"/>
<line x1="595.3" y1="43.7" x2="595.3" y2="38.2" stroke="#e01010" stroke-width="0.8" opacity="0.85"/>
<path d="M594.2,38.7 L595.3,36.7 L596.4,38.7 Z" fill="#e01010" opacity="0.85"/>
<line x1="608.8" y1="43.7" x2="608.8" y2="38.2" stroke="#e01010" stroke-width="0.8" opacity="0.85"/>
<path d="M607.7,38.7 L608.8,36.7 L609.9,38.7 Z" fill="#e01010" opacity="0.85"/>
<line x1="611.8" y1="43.7" x2="611.8" y2="38.2" stroke="#e01010" stroke-width="0.8" opacity="0.85"/>
<path d="M610.7,38.7 L611.8,36.7 L612.9,38.7 Z" fill="#e01010" opacity="0.85"/>
<line x1="618.9" y1="43.7" x2="618.9" y2="38.2" stroke="#e01010" stroke-width="0.8" opacity="0.85"/>
<path d="M617.8,38.7 L618.9,36.7 L620.0,38.7 Z" fill="#e01010" opacity="0.85"/>
<line x1="623.7" y1="43.7" x2="623.7" y2="38.2" stroke="#e01010" stroke-width="0.8" opacity="0.85"/>
<path d="M622.6,38.7 L623.7,36.7 L624.8,38.7 Z" fill="#e01010" opacity="0.85"/>
<line x1="627.4" y1="43.7" x2="627.4" y2="38.2" stroke="#e01010" stroke-width="0.8" opacity="0.85"/>
<path d="M626.3,38.7 L627.4,36.7 L628.5,38.7 Z" fill="#e01010" opacity="0.85"/>
<line x1="629.2" y1="43.7" x2="629.2" y2="38.2" stroke="#e01010" stroke-width="0.8" opacity="0.85"/>
<path d="M628.1,38.7 L629.2,36.7 L630.3,38.7 Z" fill="#e01010" opacity="0.85"/>
<line x1="642.6" y1="43.7" x2="642.6" y2="38.2" stroke="#e01010" stroke-width="0.8" opacity="0.85"/>
<path d="M641.5,38.7 L642.6,36.7 L643.7,38.7 Z" fill="#e01010" opacity="0.85"/>
<line x1="645.7" y1="43.7" x2="645.7" y2="38.2" stroke="#e01010" stroke-width="0.8" opacity="0.85"/>
<path d="M644.6,38.7 L645.7,36.7 L646.8,38.7 Z" fill="#e01010" opacity="0.85"/>
<line x1="467.6" y1="84.5" x2="467.6" y2="79.0" stroke="#e01010" stroke-width="0.8" opacity="0.85"/>
<path d="M466.5,79.5 L467.6,77.5 L468.7,79.5 Z" fill="#e01010" opacity="0.85"/>
<line x1="470.7" y1="84.5" x2="470.7" y2="79.0" stroke="#e01010" stroke-width="0.8" opacity="0.85"/>
<path d="M469.6,79.5 L470.7,77.5 L471.8,79.5 Z" fill="#e01010" opacity="0.85"/>
<line x1="484.1" y1="84.5" x2="484.1" y2="79.0" stroke="#e01010" stroke-width="0.8" opacity="0.85"/>
<path d="M483.0,79.5 L484.1,77.5 L485.2,79.5 Z" fill="#e01010" opacity="0.85"/>
<line x1="485.9" y1="84.5" x2="485.9" y2="79.0" stroke="#e01010" stroke-width="0.8" opacity="0.85"/>
<path d="M484.8,79.5 L485.9,77.5 L487.0,79.5 Z" fill="#e01010" opacity="0.85"/>
<line x1="489.6" y1="84.5" x2="489.6" y2="79.0" stroke="#e01010" stroke-width="0.8" opacity="0.85"/>
<path d="M488.5,79.5 L489.6,77.5 L490.7,79.5 Z" fill="#e01010" opacity="0.85"/>
<line x1="494.4" y1="84.5" x2="494.4" y2="79.0" stroke="#e01010" stroke-width="0.8" opacity="0.85"/>
<path d="M493.3,79.5 L494.4,77.5 L495.5,79.5 Z" fill="#e01010" opacity="0.85"/>
<line x1="501.5" y1="84.5" x2="501.5" y2="79.0" stroke="#e01010" stroke-width="0.8" opacity="0.85"/>
<path d="M500.4,79.5 L501.5,77.5 L502.6,79.5 Z" fill="#e01010" opacity="0.85"/>
<line x1="504.5" y1="84.5" x2="504.5" y2="79.0" stroke="#e01010" stroke-width="0.8" opacity="0.85"/>
<path d="M503.4,79.5 L504.5,77.5 L505.6,79.5 Z" fill="#e01010" opacity="0.85"/>
<line x1="518.0" y1="84.5" x2="518.0" y2="79.0" stroke="#e01010" stroke-width="0.8" opacity="0.85"/>
<path d="M516.9,79.5 L518.0,77.5 L519.1,79.5 Z" fill="#e01010" opacity="0.85"/>
<line x1="529.0" y1="84.5" x2="529.0" y2="79.0" stroke="#e01010" stroke-width="0.8" opacity="0.85"/>
<path d="M527.9,79.5 L529.0,77.5 L530.1,79.5 Z" fill="#e01010" opacity="0.85"/>
<line x1="531.9" y1="84.5" x2="531.9" y2="79.0" stroke="#e01010" stroke-width="0.8" opacity="0.85"/>
<path d="M530.8,79.5 L531.9,77.5 L533.0,79.5 Z" fill="#e01010" opacity="0.85"/>
<line x1="533.9" y1="84.5" x2="533.9" y2="79.0" stroke="#e01010" stroke-width="0.8" opacity="0.85"/>
<path d="M532.8,79.5 L533.9,77.5 L535.0,79.5 Z" fill="#e01010" opacity="0.85"/>
<line x1="538.6" y1="84.5" x2="538.6" y2="79.0" stroke="#e01010" stroke-width="0.8" opacity="0.85"/>
<path d="M537.5,79.5 L538.6,77.5 L539.7,79.5 Z" fill="#e01010" opacity="0.85"/>
<line x1="574.7" y1="84.5" x2="574.7" y2="79.0" stroke="#e01010" stroke-width="0.8" opacity="0.85"/>
<path d="M573.6,79.5 L574.7,77.5 L575.8,79.5 Z" fill="#e01010" opacity="0.85"/>
<line x1="579.4" y1="84.5" x2="579.4" y2="79.0" stroke="#e01010" stroke-width="0.8" opacity="0.85"/>
<path d="M578.3,79.5 L579.4,77.5 L580.5,79.5 Z" fill="#e01010" opacity="0.85"/>
<line x1="581.4" y1="84.5" x2="581.4" y2="79.0" stroke="#e01010" stroke-width="0.8" opacity="0.85"/>
<path d="M580.3,79.5 L581.4,77.5 L582.5,79.5 Z" fill="#e01010" opacity="0.85"/>
<line x1="584.3" y1="84.5" x2="584.3" y2="79.0" stroke="#e01010" stroke-width="0.8" opacity="0.85"/>
<path d="M583.2,79.5 L584.3,77.5 L585.4,79.5 Z" fill="#e01010" opacity="0.85"/>
<line x1="595.3" y1="84.5" x2="595.3" y2="79.0" stroke="#e01010" stroke-width="0.8" opacity="0.85"/>
<path d="M594.2,79.5 L595.3,77.5 L596.4,79.5 Z" fill="#e01010" opacity="0.85"/>
<line x1="608.8" y1="84.5" x2="608.8" y2="79.0" stroke="#e01010" stroke-width="0.8" opacity="0.85"/>
<path d="M607.7,79.5 L608.8,77.5 L609.9,79.5 Z" fill="#e01010" opacity="0.85"/>
<line x1="611.8" y1="84.5" x2="611.8" y2="79.0" stroke="#e01010" stroke-width="0.8" opacity="0.85"/>
<path d="M610.7,79.5 L611.8,77.5 L612.9,79.5 Z" fill="#e01010" opacity="0.85"/>
<line x1="618.9" y1="84.5" x2="618.9" y2="79.0" stroke="#e01010" stroke-width="0.8" opacity="0.85"/>
<path d="M617.8,79.5 L618.9,77.5 L620.0,79.5 Z" fill="#e01010" opacity="0.85"/>
<line x1="623.7" y1="84.5" x2="623.7" y2="79.0" stroke="#e01010" stroke-width="0.8" opacity="0.85"/>
<path d="M622.6,79.5 L623.7,77.5 L624.8,79.5 Z" fill="#e01010" opacity="0.85"/>
<line x1="627.4" y1="84.5" x2="627.4" y2="79.0" stroke="#e01010" stroke-width="0.8" opacity="0.85"/>
<path d="M626.3,79.5 L627.4,77.5 L628.5,79.5 Z" fill="#e01010" opacity="0.85"/>
<line x1="629.2" y1="84.5" x2="629.2" y2="79.0" stroke="#e01010" stroke-width="0.8" opacity="0.85"/>
<path d="M628.1,79.5 L629.2,77.5 L630.3,79.5 Z" fill="#e01010" opacity="0.85"/>
<line x1="642.6" y1="84.5" x2="642.6" y2="79.0" stroke="#e01010" stroke-width="0.8" opacity="0.85"/>
<path d="M641.5,79.5 L642.6,77.5 L643.7,79.5 Z" fill="#e01010" opacity="0.85"/>
<line x1="645.7" y1="84.5" x2="645.7" y2="79.0" stroke="#e01010" stroke-width="0.8" opacity="0.85"/>
<path d="M644.6,79.5 L645.7,77.5 L646.8,79.5 Z" fill="#e01010" opacity="0.85"/>
<line x1="467.6" y1="116.8" x2="467.6" y2="112.3" stroke="#e01010" stroke-width="0.7" opacity="0.6"/>
<path d="M466.5,112.8 L467.6,110.8 L468.7,112.8 Z" fill="#e01010" opacity="0.6"/>
<line x1="470.7" y1="116.8" x2="470.7" y2="112.3" stroke="#e01010" stroke-width="0.7" opacity="0.6"/>
<path d="M469.6,112.8 L470.7,110.8 L471.8,112.8 Z" fill="#e01010" opacity="0.6"/>
<line x1="484.1" y1="116.8" x2="484.1" y2="112.3" stroke="#e01010" stroke-width="0.7" opacity="0.6"/>
<path d="M483.0,112.8 L484.1,110.8 L485.2,112.8 Z" fill="#e01010" opacity="0.6"/>
<line x1="485.9" y1="116.8" x2="485.9" y2="112.3" stroke="#e01010" stroke-width="0.7" opacity="0.6"/>
<path d="M484.8,112.8 L485.9,110.8 L487.0,112.8 Z" fill="#e01010" opacity="0.6"/>
<line x1="489.6" y1="116.8" x2="489.6" y2="112.3" stroke="#e01010" stroke-width="0.7" opacity="0.6"/>
<path d="M488.5,112.8 L489.6,110.8 L490.7,112.8 Z" fill="#e01010" opacity="0.6"/>
<line x1="494.4" y1="116.8" x2="494.4" y2="112.3" stroke="#e01010" stroke-width="0.7" opacity="0.6"/>
<path d="M493.3,112.8 L494.4,110.8 L495.5,112.8 Z" fill="#e01010" opacity="0.6"/>
<line x1="501.5" y1="116.8" x2="501.5" y2="112.3" stroke="#e01010" stroke-width="0.7" opacity="0.6"/>
<path d="M500.4,112.8 L501.5,110.8 L502.6,112.8 Z" fill="#e01010" opacity="0.6"/>
<line x1="504.5" y1="116.8" x2="504.5" y2="112.3" stroke="#e01010" stroke-width="0.7" opacity="0.6"/>
<path d="M503.4,112.8 L504.5,110.8 L505.6,112.8 Z" fill="#e01010" opacity="0.6"/>
<line x1="518.0" y1="116.8" x2="518.0" y2="112.3" stroke="#e01010" stroke-width="0.7" opacity="0.6"/>
<path d="M516.9,112.8 L518.0,110.8 L519.1,112.8 Z" fill="#e01010" opacity="0.6"/>
<line x1="529.0" y1="116.8" x2="529.0" y2="112.3" stroke="#e01010" stroke-width="0.7" opacity="0.6"/>
<path d="M527.9,112.8 L529.0,110.8 L530.1,112.8 Z" fill="#e01010" opacity="0.6"/>
<line x1="531.9" y1="116.8" x2="531.9" y2="112.3" stroke="#e01010" stroke-width="0.7" opacity="0.6"/>
<path d="M530.8,112.8 L531.9,110.8 L533.0,112.8 Z" fill="#e01010" opacity="0.6"/>
<line x1="533.9" y1="116.8" x2="533.9" y2="112.3" stroke="#e01010" stroke-width="0.7" opacity="0.6"/>
<path d="M532.8,112.8 L533.9,110.8 L535.0,112.8 Z" fill="#e01010" opacity="0.6"/>
<line x1="538.6" y1="116.8" x2="538.6" y2="112.3" stroke="#e01010" stroke-width="0.7" opacity="0.6"/>
<path d="M537.5,112.8 L538.6,110.8 L539.7,112.8 Z" fill="#e01010" opacity="0.6"/>
<line x1="574.7" y1="116.8" x2="574.7" y2="112.3" stroke="#e01010" stroke-width="0.7" opacity="0.6"/>
<path d="M573.6,112.8 L574.7,110.8 L575.8,112.8 Z" fill="#e01010" opacity="0.6"/>
<line x1="579.4" y1="116.8" x2="579.4" y2="112.3" stroke="#e01010" stroke-width="0.7" opacity="0.6"/>
<path d="M578.3,112.8 L579.4,110.8 L580.5,112.8 Z" fill="#e01010" opacity="0.6"/>
<line x1="581.4" y1="116.8" x2="581.4" y2="112.3" stroke="#e01010" stroke-width="0.7" opacity="0.6"/>
<path d="M580.3,112.8 L581.4,110.8 L582.5,112.8 Z" fill="#e01010" opacity="0.6"/>
<line x1="584.3" y1="116.8" x2="584.3" y2="112.3" stroke="#e01010" stroke-width="0.7" opacity="0.6"/>
<path d="M583.2,112.8 L584.3,110.8 L585.4,112.8 Z" fill="#e01010" opacity="0.6"/>
<line x1="595.3" y1="116.8" x2="595.3" y2="112.3" stroke="#e01010" stroke-width="0.7" opacity="0.6"/>
<path d="M594.2,112.8 L595.3,110.8 L596.4,112.8 Z" fill="#e01010" opacity="0.6"/>
<line x1="608.8" y1="116.8" x2="608.8" y2="112.3" stroke="#e01010" stroke-width="0.7" opacity="0.6"/>
<path d="M607.7,112.8 L608.8,110.8 L609.9,112.8 Z" fill="#e01010" opacity="0.6"/>
<line x1="611.8" y1="116.8" x2="611.8" y2="112.3" stroke="#e01010" stroke-width="0.7" opacity="0.6"/>
<path d="M610.7,112.8 L611.8,110.8 L612.9,112.8 Z" fill="#e01010" opacity="0.6"/>
<line x1="618.9" y1="116.8" x2="618.9" y2="112.3" stroke="#e01010" stroke-width="0.7" opacity="0.6"/>
<path d="M617.8,112.8 L618.9,110.8 L620.0,112.8 Z" fill="#e01010" opacity="0.6"/>
<line x1="623.7" y1="116.8" x2="623.7" y2="112.3" stroke="#e01010" stroke-width="0.7" opacity="0.6"/>
<path d="M622.6,112.8 L623.7,110.8 L624.8,112.8 Z" fill="#e01010" opacity="0.6"/>
<line x1="627.4" y1="116.8" x2="627.4" y2="112.3" stroke="#e01010" stroke-width="0.7" opacity="0.6"/>
<path d="M626.3,112.8 L627.4,110.8 L628.5,112.8 Z" fill="#e01010" opacity="0.6"/>
<line x1="629.2" y1="116.8" x2="629.2" y2="112.3" stroke="#e01010" stroke-width="0.7" opacity="0.6"/>
<path d="M628.1,112.8 L629.2,110.8 L630.3,112.8 Z" fill="#e01010" opacity="0.6"/>
<line x1="642.6" y1="116.8" x2="642.6" y2="112.3" stroke="#e01010" stroke-width="0.7" opacity="0.6"/>
<path d="M641.5,112.8 L642.6,110.8 L643.7,112.8 Z" fill="#e01010" opacity="0.6"/>
<line x1="645.7" y1="116.8" x2="645.7" y2="112.3" stroke="#e01010" stroke-width="0.7" opacity="0.6"/>
<path d="M644.6,112.8 L645.7,110.8 L646.8,112.8 Z" fill="#e01010" opacity="0.6"/>
<line x1="59.6" y1="479.4" x2="59.6" y2="487.3" stroke="#111" stroke-width="1.1"/>
<line x1="140.7" y1="479.4" x2="140.7" y2="487.3" stroke="#111" stroke-width="1.1"/>
<line x1="43.2" y1="479.4" x2="43.2" y2="486.9" stroke="#111" stroke-width="1.1"/>
<line x1="157.1" y1="479.4" x2="157.1" y2="486.9" stroke="#111" stroke-width="1.1"/>
<line x1="27.1" y1="479.4" x2="27.1" y2="486.3" stroke="#111" stroke-width="1.1"/>
<line x1="173.2" y1="479.4" x2="173.2" y2="486.3" stroke="#111" stroke-width="1.1"/>
<line x1="11.1" y1="479.4" x2="11.1" y2="484.7" stroke="#111" stroke-width="1.1"/>
<line x1="189.2" y1="479.4" x2="189.2" y2="484.7" stroke="#111" stroke-width="1.1"/>
<path d="M11.1,479.4 A89.0,2.8845 0 0 0 189.2,479.4" fill="none" stroke="#111" stroke-width="1.1"/>
<path d="M11.1,479.4 A89.0,2.9 0 0 1 189.2,479.4" fill="none" stroke="#111" stroke-width="0.9"/>
<ellipse cx="100.2" cy="477.1" rx="14.7" ry="2.0" fill="#1a1a1a"/>
<path d="M81.1,478.6 L119.2,478.6" stroke="#222" stroke-width="0.9"/>
<path d="M81.1,481.8 L119.2,481.8" stroke="#444" stroke-width="0.8"/>
<line x1="81.1" y1="478.3" x2="81.1" y2="481.8" stroke="#222" stroke-width="0.8" opacity="1"/>
<line x1="84.9" y1="478.3" x2="84.9" y2="481.8" stroke="#222" stroke-width="0.8" opacity="1"/>
<line x1="88.7" y1="478.3" x2="88.7" y2="481.8" stroke="#222" stroke-width="0.8" opacity="1"/>
<line x1="92.5" y1="478.3" x2="92.5" y2="481.8" stroke="#222" stroke-width="0.8" opacity="1"/>
<line x1="96.3" y1="478.3" x2="96.3" y2="481.8" stroke="#222" stroke-width="0.8" opacity="1"/>
<line x1="100.2" y1="478.3" x2="100.2" y2="481.8" stroke="#222" stroke-width="0.8" opacity="1"/>
<line x1="104.0" y1="478.3" x2="104.0" y2="481.8" stroke="#222" stroke-width="0.8" opacity="1"/>
<line x1="107.8" y1="478.3" x2="107.8" y2="481.8" stroke="#222" stroke-width="0.8" opacity="1"/>
<line x1="111.6" y1="478.3" x2="111.6" y2="481.8" stroke="#222" stroke-width="0.8" opacity="1"/>
<line x1="115.4" y1="478.3" x2="115.4" y2="481.8" stroke="#222" stroke-width="0.8" opacity="1"/>
<line x1="119.2" y1="478.3" x2="119.2" y2="481.8" stroke="#222" stroke-width="0.8" opacity="1"/>
<line x1="59.6" y1="534.2" x2="59.6" y2="540.6" stroke="#111" stroke-width="1.1"/>
<line x1="140.7" y1="534.2" x2="140.7" y2="540.6" stroke="#111" stroke-width="1.1"/>
<line x1="43.2" y1="534.2" x2="43.2" y2="540.3" stroke="#111" stroke-width="1.1"/>
<line x1="157.1" y1="534.2" x2="157.1" y2="540.3" stroke="#111" stroke-width="1.1"/>
<line x1="27.1" y1="534.2" x2="27.1" y2="539.8" stroke="#111" stroke-width="1.1"/>
<line x1="173.2" y1="534.2" x2="173.2" y2="539.8" stroke="#111" stroke-width="1.1"/>
<line x1="11.1" y1="534.2" x2="11.1" y2="538.3" stroke="#111" stroke-width="1.1"/>
<line x1="189.2" y1="534.2" x2="189.2" y2="538.3" stroke="#111" stroke-width="1.1"/>
<path d="M11.1,538.3 A89.0,2.4999000000000002 0 0 0 189.2,538.3" fill="none" stroke="#111" stroke-width="1.1"/>
<path d="M11.1,538.3 A89.0,2.4999000000000002 0 0 1 189.2,538.3" fill="none" stroke="#111" stroke-width="0.6"/>
<line x1="59.6" y1="565.0" x2="59.6" y2="576.3" stroke="#111" stroke-width="1.1"/>
<line x1="140.7" y1="565.0" x2="140.7" y2="576.3" stroke="#111" stroke-width="1.1"/>
<line x1="43.2" y1="565.0" x2="43.2" y2="576.0" stroke="#111" stroke-width="1.1"/>
<line x1="157.1" y1="565.0" x2="157.1" y2="576.0" stroke="#111" stroke-width="1.1"/>
<line x1="27.1" y1="565.0" x2="27.1" y2="575.5" stroke="#111" stroke-width="1.1"/>
<line x1="173.2" y1="565.0" x2="173.2" y2="575.5" stroke="#111" stroke-width="1.1"/>
<line x1="11.1" y1="565.0" x2="11.1" y2="574.1" stroke="#111" stroke-width="1.1"/>
<line x1="189.2" y1="565.0" x2="189.2" y2="574.1" stroke="#111" stroke-width="1.1"/>
<path d="M11.1,574.1 A89.0,2.4999000000000002 0 0 0 189.2,574.1" fill="none" stroke="#111" stroke-width="1.1"/>
<path d="M11.1,574.1 A89.0,2.4999000000000002 0 0 1 189.2,574.1" fill="none" stroke="#111" stroke-width="0.6"/>
<line x1="59.6" y1="602.5" x2="59.6" y2="611.4" stroke="#111" stroke-width="1.1"/>
<line x1="140.7" y1="602.5" x2="140.7" y2="611.4" stroke="#111" stroke-width="1.1"/>
<line x1="43.2" y1="602.5" x2="43.2" y2="611.1" stroke="#111" stroke-width="1.1"/>
<line x1="157.1" y1="602.5" x2="157.1" y2="611.1" stroke="#111" stroke-width="1.1"/>
<line x1="27.1" y1="602.5" x2="27.1" y2="610.6" stroke="#111" stroke-width="1.1"/>
<line x1="173.2" y1="602.5" x2="173.2" y2="610.6" stroke="#111" stroke-width="1.1"/>
<line x1="11.1" y1="602.5" x2="11.1" y2="609.2" stroke="#111" stroke-width="1.1"/>
<line x1="189.2" y1="602.5" x2="189.2" y2="609.2" stroke="#111" stroke-width="1.1"/>
<path d="M11.1,609.2 A89.0,2.4999000000000002 0 0 0 189.2,609.2" fill="none" stroke="#111" stroke-width="1.1"/>
<path d="M11.1,609.2 A89.0,2.4999000000000002 0 0 1 189.2,609.2" fill="none" stroke="#111" stroke-width="0.6"/>
<path d="M59.4,538.8 L140.9,538.8 A56.2,56.2 0 0 1 135.1,544.1 A35.0,0.8 0 0 1 65.2,544.1 A56.2,56.2 0 0 1 59.4,538.8 Z" fill="url(#v32)"/>
<path d="M59.4,566.4 L140.9,566.4 A48.5,48.5 0 0 1 134.4,574.4 A34.3,0.8 0 0 1 65.9,574.4 A48.5,48.5 0 0 1 59.4,566.4 Z" fill="url(#v33)"/>
<path d="M68.0,574.9 L132.3,574.9 L124.4,581.3 A24.3,0.8 0 0 1 75.9,581.3 Z" fill="url(#v34)"/>
<path d="M63.4,604.4 L136.9,604.4 A51.5,51.5 0 0 1 130.1,610.2 A30.0,0.8 0 0 1 70.2,610.2 A51.5,51.5 0 0 1 63.4,604.4 Z" fill="url(#v35)"/>
<line x1="67.8" y1="610.5" x2="132.5" y2="610.5" stroke="#000" stroke-width="1.0"/>
<rect x="75.2" y="611.6" width="49.9" height="5.3" fill="#0a1ab8" />
<rect x="85.2" y="616.4" width="30.0" height="3.4" fill="#0a14a0" />
<ellipse cx="100.2" cy="647.2" rx="15.2" ry="3.1" fill="#0a1478"/>
<path d="M11.1,485.0 A89.0,3.0 0 0 1 189.2,485.0 L189.2,509.7 A89.0,1.6 0 0 1 11.1,509.7 Z" fill="url(#h36)"/>
<path d="M11.1,485.0 A89.0,3.0 0 0 0 189.2,485.0" fill="none" stroke="#550000" stroke-width="0.6" opacity="0.8"/>
<path d="M11.1,505.9 A89.0,1.6 0 0 0 189.2,505.9 L189.2,509.7 A89.0,1.6 0 0 1 11.1,509.7 Z" fill="url(#h37)"/>
<path d="M11.1,512.1 A89.0,1.8 0 0 1 189.2,512.1 L189.2,535.6 A89.0,1.0 0 0 1 11.1,535.6 Z" fill="url(#h38)"/>
<path d="M11.1,512.1 A89.0,1.8 0 0 0 189.2,512.1" fill="none" stroke="#924900" stroke-width="0.6" opacity="0.8"/>
<path d="M11.1,543.8 A89.0,0.6 0 0 1 189.2,543.8 L189.2,567.1 A89.0,1.0 0 0 1 11.1,567.1 Z" fill="url(#h39)"/>
<path d="M11.1,543.8 A89.0,0.6 0 0 0 189.2,543.8" fill="none" stroke="#6d913c" stroke-width="0.6" opacity="0.8"/>
<path d="M11.1,580.6 A89.0,0.6 0 0 1 189.2,580.6 L189.2,605.0 A89.0,1.0 0 0 1 11.1,605.0 Z" fill="url(#h40)"/>
<path d="M11.1,580.6 A89.0,0.6 0 0 0 189.2,580.6" fill="none" stroke="#106791" stroke-width="0.6" opacity="0.8"/>
<path d="M11.1,586.6 A89.0,1.0 0 0 0 189.2,586.6" fill="none" stroke="#000" stroke-width="0.8" opacity="0.6"/>
<path d="M11.1,619.2 A89.0,2.0 0 0 1 189.2,619.2 L189.2,645.0 A89.0,2.4999000000000002 0 0 1 11.1,645.0 Z" fill="url(#h41)"/>
<ellipse cx="100.2" cy="619.2" rx="89.0" ry="3.4" fill="url(#h42)"/>
<path d="M11.1,619.2 A89.0,3.4 0 0 0 189.2,619.2" fill="none" stroke="#000" stroke-width="0.8" opacity="0.7"/>
<rect x="59.4" y="536.0" width="81.5" height="2.3" fill="#e8b400" />
<line x1="59.4" y1="538.4" x2="140.9" y2="538.4" stroke="#111" stroke-width="0.9"/>
<path d="M11.1,503.9 Q46.7,502.5 73.4,502.0" stroke="#200" stroke-width="0.8" fill="none" opacity="0.7"/>
<path d="M126.9,503.4 Q162.5,503.4 189.2,504.9" stroke="#200" stroke-width="0.8" fill="none" opacity="0.7"/>
<path d="M11.1,515.9 Q46.7,514.0 82.3,514.0" stroke="#300" stroke-width="0.8" fill="none" opacity="0.7"/>
<path d="M126.9,515.0 Q162.5,515.0 189.2,516.4" stroke="#300" stroke-width="0.8" fill="none" opacity="0.7"/>
<path d="M11.1,551.0 L24.5,550.8" stroke="#000" stroke-width="0.8" fill="none" opacity="0.7"/>
<path d="M140.2,549.6 Q166.9,549.6 189.2,551.0" stroke="#000" stroke-width="0.8" fill="none" opacity="0.7"/>
<line x1="100.2" y1="579.6" x2="100.2" y2="648.6" stroke="#000" stroke-width="0.8" opacity="0.85"/>
<line x1="100.2" y1="535.2" x2="100.2" y2="538.1" stroke="#000" stroke-width="0.8" opacity="0.85"/>
<line x1="12.7" y1="504.4" x2="12.7" y2="492.4" stroke="#e01010" stroke-width="1.0" opacity="0.9"/>
<path d="M11.6,492.9 L12.7,490.9 L13.8,492.9 Z" fill="#e01010" opacity="0.9"/>
<line x1="34.5" y1="504.4" x2="34.5" y2="492.4" stroke="#e01010" stroke-width="1.0" opacity="0.9"/>
<path d="M33.4,492.9 L34.5,490.9 L35.6,492.9 Z" fill="#e01010" opacity="0.9"/>
<line x1="73.1" y1="504.4" x2="73.1" y2="492.4" stroke="#e01010" stroke-width="1.0" opacity="0.9"/>
<path d="M72.0,492.9 L73.1,490.9 L74.2,492.9 Z" fill="#e01010" opacity="0.9"/>
<line x1="127.2" y1="504.4" x2="127.2" y2="492.4" stroke="#e01010" stroke-width="1.0" opacity="0.9"/>
<path d="M126.1,492.9 L127.2,490.9 L128.3,492.9 Z" fill="#e01010" opacity="0.9"/>
<line x1="165.8" y1="504.4" x2="165.8" y2="492.4" stroke="#e01010" stroke-width="1.0" opacity="0.9"/>
<path d="M164.7,492.9 L165.8,490.9 L166.9,492.9 Z" fill="#e01010" opacity="0.9"/>
<line x1="187.6" y1="504.4" x2="187.6" y2="492.4" stroke="#e01010" stroke-width="1.0" opacity="0.9"/>
<path d="M186.5,492.9 L187.6,490.9 L188.7,492.9 Z" fill="#e01010" opacity="0.9"/>
<line x1="12.7" y1="535.2" x2="12.7" y2="520.3" stroke="#e01010" stroke-width="1.0" opacity="0.9"/>
<path d="M11.6,520.8 L12.7,518.8 L13.8,520.8 Z" fill="#e01010" opacity="0.9"/>
<line x1="34.5" y1="535.2" x2="34.5" y2="520.3" stroke="#e01010" stroke-width="1.0" opacity="0.9"/>
<path d="M33.4,520.8 L34.5,518.8 L35.6,520.8 Z" fill="#e01010" opacity="0.9"/>
<line x1="73.1" y1="535.2" x2="73.1" y2="520.3" stroke="#e01010" stroke-width="1.0" opacity="0.9"/>
<path d="M72.0,520.8 L73.1,518.8 L74.2,520.8 Z" fill="#e01010" opacity="0.9"/>
<line x1="127.2" y1="535.2" x2="127.2" y2="520.3" stroke="#e01010" stroke-width="1.0" opacity="0.9"/>
<path d="M126.1,520.8 L127.2,518.8 L128.3,520.8 Z" fill="#e01010" opacity="0.9"/>
<line x1="165.8" y1="535.2" x2="165.8" y2="520.3" stroke="#e01010" stroke-width="1.0" opacity="0.9"/>
<path d="M164.7,520.8 L165.8,518.8 L166.9,520.8 Z" fill="#e01010" opacity="0.9"/>
<line x1="187.6" y1="535.2" x2="187.6" y2="520.3" stroke="#e01010" stroke-width="1.0" opacity="0.9"/>
<path d="M186.5,520.8 L187.6,518.8 L188.7,520.8 Z" fill="#e01010" opacity="0.9"/>
<line x1="12.7" y1="566.9" x2="12.7" y2="561.7" stroke="#e01010" stroke-width="1.0" opacity="0.9"/>
<path d="M11.6,562.2 L12.7,560.2 L13.8,562.2 Z" fill="#e01010" opacity="0.9"/>
<line x1="34.5" y1="566.9" x2="34.5" y2="561.7" stroke="#e01010" stroke-width="1.0" opacity="0.9"/>
<path d="M33.4,562.2 L34.5,560.2 L35.6,562.2 Z" fill="#e01010" opacity="0.9"/>
<line x1="73.1" y1="566.9" x2="73.1" y2="561.7" stroke="#e01010" stroke-width="1.0" opacity="0.9"/>
<path d="M72.0,562.2 L73.1,560.2 L74.2,562.2 Z" fill="#e01010" opacity="0.9"/>
<line x1="127.2" y1="566.9" x2="127.2" y2="561.7" stroke="#e01010" stroke-width="1.0" opacity="0.9"/>
<path d="M126.1,562.2 L127.2,560.2 L128.3,562.2 Z" fill="#e01010" opacity="0.9"/>
<line x1="165.8" y1="566.9" x2="165.8" y2="561.7" stroke="#e01010" stroke-width="1.0" opacity="0.9"/>
<path d="M164.7,562.2 L165.8,560.2 L166.9,562.2 Z" fill="#e01010" opacity="0.9"/>
<line x1="187.6" y1="566.9" x2="187.6" y2="561.7" stroke="#e01010" stroke-width="1.0" opacity="0.9"/>
<path d="M186.5,562.2 L187.6,560.2 L188.7,562.2 Z" fill="#e01010" opacity="0.9"/>
<line x1="12.7" y1="600.1" x2="12.7" y2="598.2" stroke="#e01010" stroke-width="0.8" opacity="0.5"/>
<path d="M11.6,598.7 L12.7,596.7 L13.8,598.7 Z" fill="#e01010" opacity="0.5"/>
<line x1="34.5" y1="600.1" x2="34.5" y2="598.2" stroke="#e01010" stroke-width="0.8" opacity="0.5"/>
<path d="M33.4,598.7 L34.5,596.7 L35.6,598.7 Z" fill="#e01010" opacity="0.5"/>
<line x1="73.1" y1="600.1" x2="73.1" y2="598.2" stroke="#e01010" stroke-width="0.8" opacity="0.5"/>
<path d="M72.0,598.7 L73.1,596.7 L74.2,598.7 Z" fill="#e01010" opacity="0.5"/>
<line x1="127.2" y1="600.1" x2="127.2" y2="598.2" stroke="#e01010" stroke-width="0.8" opacity="0.5"/>
<path d="M126.1,598.7 L127.2,596.7 L128.3,598.7 Z" fill="#e01010" opacity="0.5"/>
<line x1="165.8" y1="600.1" x2="165.8" y2="598.2" stroke="#e01010" stroke-width="0.8" opacity="0.5"/>
<path d="M164.7,598.7 L165.8,596.7 L166.9,598.7 Z" fill="#e01010" opacity="0.5"/>
<line x1="187.6" y1="600.1" x2="187.6" y2="598.2" stroke="#e01010" stroke-width="0.8" opacity="0.5"/>
<path d="M186.5,598.7 L187.6,596.7 L188.7,598.7 Z" fill="#e01010" opacity="0.5"/>
<line x1="16.9" y1="568.8" x2="16.9" y2="565.5" stroke="#e01010" stroke-width="0.6" opacity="0.7"/>
<path d="M15.8,566.0 L16.9,564.0 L18.0,566.0 Z" fill="#e01010" opacity="0.7"/>
<line x1="19.9" y1="568.8" x2="19.9" y2="565.5" stroke="#e01010" stroke-width="0.6" opacity="0.7"/>
<path d="M18.8,566.0 L19.9,564.0 L21.0,566.0 Z" fill="#e01010" opacity="0.7"/>
<line x1="41.4" y1="568.8" x2="41.4" y2="565.5" stroke="#e01010" stroke-width="0.6" opacity="0.7"/>
<path d="M40.3,566.0 L41.4,564.0 L42.5,566.0 Z" fill="#e01010" opacity="0.7"/>
<line x1="44.3" y1="568.8" x2="44.3" y2="565.5" stroke="#e01010" stroke-width="0.6" opacity="0.7"/>
<path d="M43.2,566.0 L44.3,564.0 L45.4,566.0 Z" fill="#e01010" opacity="0.7"/>
<line x1="56.1" y1="568.8" x2="56.1" y2="565.5" stroke="#e01010" stroke-width="0.6" opacity="0.7"/>
<path d="M55.0,566.0 L56.1,564.0 L57.2,566.0 Z" fill="#e01010" opacity="0.7"/>
<line x1="61.0" y1="568.8" x2="61.0" y2="565.5" stroke="#e01010" stroke-width="0.6" opacity="0.7"/>
<path d="M59.9,566.0 L61.0,564.0 L62.1,566.0 Z" fill="#e01010" opacity="0.7"/>
<line x1="139.3" y1="568.8" x2="139.3" y2="565.5" stroke="#e01010" stroke-width="0.6" opacity="0.7"/>
<path d="M138.2,566.0 L139.3,564.0 L140.4,566.0 Z" fill="#e01010" opacity="0.7"/>
<line x1="144.2" y1="568.8" x2="144.2" y2="565.5" stroke="#e01010" stroke-width="0.6" opacity="0.7"/>
<path d="M143.1,566.0 L144.2,564.0 L145.3,566.0 Z" fill="#e01010" opacity="0.7"/>
<line x1="156.0" y1="568.8" x2="156.0" y2="565.5" stroke="#e01010" stroke-width="0.6" opacity="0.7"/>
<path d="M154.9,566.0 L156.0,564.0 L157.1,566.0 Z" fill="#e01010" opacity="0.7"/>
<line x1="158.9" y1="568.8" x2="158.9" y2="565.5" stroke="#e01010" stroke-width="0.6" opacity="0.7"/>
<path d="M157.8,566.0 L158.9,564.0 L160.0,566.0 Z" fill="#e01010" opacity="0.7"/>
<line x1="180.4" y1="568.8" x2="180.4" y2="565.5" stroke="#e01010" stroke-width="0.6" opacity="0.7"/>
<path d="M179.3,566.0 L180.4,564.0 L181.5,566.0 Z" fill="#e01010" opacity="0.7"/>
<line x1="183.4" y1="568.8" x2="183.4" y2="565.5" stroke="#e01010" stroke-width="0.6" opacity="0.7"/>
<path d="M182.3,566.0 L183.4,564.0 L184.5,566.0 Z" fill="#e01010" opacity="0.7"/>
<line x1="44.3" y1="540.9" x2="44.3" y2="537.6" stroke="#e01010" stroke-width="0.8" opacity="0.9"/>
<path d="M43.2,538.1 L44.3,536.1 L45.4,538.1 Z" fill="#e01010" opacity="0.9"/>
<line x1="61.0" y1="540.9" x2="61.0" y2="537.6" stroke="#e01010" stroke-width="0.8" opacity="0.9"/>
<path d="M59.9,538.1 L61.0,536.1 L62.1,538.1 Z" fill="#e01010" opacity="0.9"/>
<line x1="139.3" y1="540.9" x2="139.3" y2="537.6" stroke="#e01010" stroke-width="0.8" opacity="0.9"/>
<path d="M138.2,538.1 L139.3,536.1 L140.4,538.1 Z" fill="#e01010" opacity="0.9"/>
<line x1="156.0" y1="540.9" x2="156.0" y2="537.6" stroke="#e01010" stroke-width="0.8" opacity="0.9"/>
<path d="M154.9,538.1 L156.0,536.1 L157.1,538.1 Z" fill="#e01010" opacity="0.9"/>
<line x1="44.3" y1="580.4" x2="44.3" y2="576.1" stroke="#e01010" stroke-width="0.8" opacity="0.9"/>
<path d="M43.2,576.6 L44.3,574.6 L45.4,576.6 Z" fill="#e01010" opacity="0.9"/>
<line x1="61.0" y1="580.4" x2="61.0" y2="576.1" stroke="#e01010" stroke-width="0.8" opacity="0.9"/>
<path d="M59.9,576.6 L61.0,574.6 L62.1,576.6 Z" fill="#e01010" opacity="0.9"/>
<line x1="139.3" y1="580.4" x2="139.3" y2="576.1" stroke="#e01010" stroke-width="0.8" opacity="0.9"/>
<path d="M138.2,576.6 L139.3,574.6 L140.4,576.6 Z" fill="#e01010" opacity="0.9"/>
<line x1="156.0" y1="580.4" x2="156.0" y2="576.1" stroke="#e01010" stroke-width="0.8" opacity="0.9"/>
<path d="M154.9,576.6 L156.0,574.6 L157.1,576.6 Z" fill="#e01010" opacity="0.9"/>
<path d="M284.0,505.3 L364.0,505.3 L355.5,513.0 A31.5,0.8 0 0 1 292.5,513.0 Z" fill="url(#v43)"/>
<path d="M283.0,539.8 L365.0,539.8 L350.5,550.0 A26.5,0.8 0 0 1 297.5,550.0 Z" fill="url(#v44)"/>
<path d="M284.0,574.8 L364.0,574.8 L350.0,583.5 A26.0,0.8 0 0 1 298.0,583.5 Z" fill="url(#v45)"/>
<rect x="298.0" y="583.0" width="52.0" height="5.3" fill="#0a30c8" />
<rect x="298.0" y="610.9" width="52.0" height="14.6" fill="#0a28e0" />
<rect x="308.0" y="613.9" width="32.0" height="12.6" fill="#0a30f0" />
<ellipse cx="324.0" cy="650.2" rx="16.0" ry="3" fill="#0a1478"/>
<line x1="281.7" y1="476.3" x2="281.7" y2="483.9" stroke="#111" stroke-width="0.9"/>
<line x1="366.3" y1="476.3" x2="366.3" y2="483.9" stroke="#111" stroke-width="0.9"/>
<line x1="264.5" y1="476.3" x2="264.5" y2="483.6" stroke="#111" stroke-width="0.9"/>
<line x1="383.5" y1="476.3" x2="383.5" y2="483.6" stroke="#111" stroke-width="0.9"/>
<line x1="247.8" y1="476.3" x2="247.8" y2="482.9" stroke="#111" stroke-width="0.9"/>
<line x1="400.2" y1="476.3" x2="400.2" y2="482.9" stroke="#111" stroke-width="0.9"/>
<line x1="231.1" y1="476.3" x2="231.1" y2="481.1" stroke="#111" stroke-width="0.9"/>
<line x1="416.9" y1="476.3" x2="416.9" y2="481.1" stroke="#111" stroke-width="0.9"/>
<path d="M231.1,476.3 A92.9,3.2 0 0 0 416.9,476.3" fill="none" stroke="#111" stroke-width="0.9"/>
<path d="M231.1,476.3 A92.9,3.2 0 0 1 416.9,476.3" fill="none" stroke="#222" stroke-width="0.9"/>
<ellipse cx="324.0" cy="471.6" rx="15.5" ry="2.0" fill="#1a1a1a"/>
<path d="M303.9,473.1 L344.1,473.1" stroke="#222" stroke-width="0.9"/>
<path d="M303.9,476.1 L344.1,476.1" stroke="#444" stroke-width="0.8"/>
<line x1="303.9" y1="472.8" x2="303.9" y2="476.1" stroke="#222" stroke-width="0.8" opacity="1"/>
<line x1="307.9" y1="472.8" x2="307.9" y2="476.1" stroke="#222" stroke-width="0.8" opacity="1"/>
<line x1="311.9" y1="472.8" x2="311.9" y2="476.1" stroke="#222" stroke-width="0.8" opacity="1"/>
<line x1="315.9" y1="472.8" x2="315.9" y2="476.1" stroke="#222" stroke-width="0.8" opacity="1"/>
<line x1="320.0" y1="472.8" x2="320.0" y2="476.1" stroke="#222" stroke-width="0.8" opacity="1"/>
<line x1="324.0" y1="472.8" x2="324.0" y2="476.1" stroke="#222" stroke-width="0.8" opacity="1"/>
<line x1="328.0" y1="472.8" x2="328.0" y2="476.1" stroke="#222" stroke-width="0.8" opacity="1"/>
<line x1="332.1" y1="472.8" x2="332.1" y2="476.1" stroke="#222" stroke-width="0.8" opacity="1"/>
<line x1="336.1" y1="472.8" x2="336.1" y2="476.1" stroke="#222" stroke-width="0.8" opacity="1"/>
<line x1="340.1" y1="472.8" x2="340.1" y2="476.1" stroke="#222" stroke-width="0.8" opacity="1"/>
<line x1="344.1" y1="472.8" x2="344.1" y2="476.1" stroke="#222" stroke-width="0.8" opacity="1"/>
<path d="M231.1,480.6 A92.9,1.5 0 0 1 416.9,480.6 L416.9,505.8 A92.9,0.6 0 0 1 231.1,505.8 Z" fill="url(#h46)"/>
<path d="M231.1,480.6 A92.9,1.5 0 0 0 416.9,480.6" fill="none" stroke="#550000" stroke-width="0.6" opacity="0.8"/>
<path d="M231.1,501.8 A92.9,1.5 0 0 0 416.9,501.8" fill="none" stroke="#000" stroke-width="0.8" opacity="0.6"/>
<path d="M231.1,515.7 A92.9,1.0 0 0 1 416.9,515.7 L416.9,540.8 A92.9,1.0 0 0 1 231.1,540.8 Z" fill="url(#h47)"/>
<path d="M231.1,515.7 A92.9,1.0 0 0 0 416.9,515.7" fill="none" stroke="#925400" stroke-width="0.6" opacity="0.8"/>
<path d="M231.1,536.8 A92.9,1.0 0 0 0 416.9,536.8" fill="none" stroke="#000" stroke-width="0.8" opacity="0.6"/>
<path d="M231.1,551.6 A92.9,1.0 0 0 1 416.9,551.6 L416.9,575.8 A92.9,1.0 0 0 1 231.1,575.8 Z" fill="url(#h48)"/>
<path d="M231.1,551.6 A92.9,1.0 0 0 0 416.9,551.6" fill="none" stroke="#5b9056" stroke-width="0.6" opacity="0.8"/>
<path d="M231.1,573.3 A92.9,1.0 0 0 0 416.9,573.3" fill="none" stroke="#000" stroke-width="0.8" opacity="0.6"/>
<path d="M231.1,587.8 A92.9,1.0 0 0 1 416.9,587.8 L416.9,611.9 A92.9,1.0 0 0 1 231.1,611.9 Z" fill="url(#h49)"/>
<path d="M231.1,587.8 A92.9,1.0 0 0 0 416.9,587.8" fill="none" stroke="#055b90" stroke-width="0.6" opacity="0.8"/>
<path d="M231.1,624.5 A92.9,2.0 0 0 1 416.9,624.5 L416.9,648.7 A92.9,2.6 0 0 1 231.1,648.7 Z" fill="url(#h50)"/>
<ellipse cx="324.0" cy="624.5" rx="92.9" ry="3.5" fill="url(#h51)"/>
<path d="M231.1,624.5 A92.9,3.5 0 0 0 416.9,624.5" fill="none" stroke="#000" stroke-width="0.8" opacity="0.7"/>
<path d="M231.1,513.8 A92.9,1.8 0 0 1 416.9,513.8" fill="none" stroke="#111" stroke-width="1.0"/>
<path d="M231.1,513.8 A92.9,1.2 0 0 0 416.9,513.8" fill="none" stroke="#333" stroke-width="0.7"/>
<line x1="281.7" y1="512.5" x2="281.7" y2="515.7" stroke="#222" stroke-width="0.8" opacity="1"/>
<line x1="366.3" y1="512.5" x2="366.3" y2="515.7" stroke="#222" stroke-width="0.8" opacity="1"/>
<line x1="264.5" y1="512.5" x2="264.5" y2="515.7" stroke="#222" stroke-width="0.8" opacity="1"/>
<line x1="383.5" y1="512.5" x2="383.5" y2="515.7" stroke="#222" stroke-width="0.8" opacity="1"/>
<line x1="247.8" y1="512.5" x2="247.8" y2="515.7" stroke="#222" stroke-width="0.8" opacity="1"/>
<line x1="400.2" y1="512.5" x2="400.2" y2="515.7" stroke="#222" stroke-width="0.8" opacity="1"/>
<line x1="231.1" y1="512.5" x2="231.1" y2="515.7" stroke="#222" stroke-width="0.8" opacity="1"/>
<line x1="416.9" y1="512.5" x2="416.9" y2="515.7" stroke="#222" stroke-width="0.8" opacity="1"/>
<path d="M231.1,549.7 A92.9,1.8 0 0 1 416.9,549.7" fill="none" stroke="#111" stroke-width="1.0"/>
<path d="M231.1,549.7 A92.9,1.2 0 0 0 416.9,549.7" fill="none" stroke="#333" stroke-width="0.7"/>
<line x1="281.7" y1="548.4" x2="281.7" y2="551.6" stroke="#222" stroke-width="0.8" opacity="1"/>
<line x1="366.3" y1="548.4" x2="366.3" y2="551.6" stroke="#222" stroke-width="0.8" opacity="1"/>
<line x1="264.5" y1="548.4" x2="264.5" y2="551.6" stroke="#222" stroke-width="0.8" opacity="1"/>
<line x1="383.5" y1="548.4" x2="383.5" y2="551.6" stroke="#222" stroke-width="0.8" opacity="1"/>
<line x1="247.8" y1="548.4" x2="247.8" y2="551.6" stroke="#222" stroke-width="0.8" opacity="1"/>
<line x1="400.2" y1="548.4" x2="400.2" y2="551.6" stroke="#222" stroke-width="0.8" opacity="1"/>
<line x1="231.1" y1="548.4" x2="231.1" y2="551.6" stroke="#222" stroke-width="0.8" opacity="1"/>
<line x1="416.9" y1="548.4" x2="416.9" y2="551.6" stroke="#222" stroke-width="0.8" opacity="1"/>
<path d="M231.1,585.9 A92.9,1.8 0 0 1 416.9,585.9" fill="none" stroke="#111" stroke-width="1.0"/>
<path d="M231.1,585.9 A92.9,1.2 0 0 0 416.9,585.9" fill="none" stroke="#333" stroke-width="0.7"/>
<line x1="281.7" y1="584.6" x2="281.7" y2="587.8" stroke="#222" stroke-width="0.8" opacity="1"/>
<line x1="366.3" y1="584.6" x2="366.3" y2="587.8" stroke="#222" stroke-width="0.8" opacity="1"/>
<line x1="264.5" y1="584.6" x2="264.5" y2="587.8" stroke="#222" stroke-width="0.8" opacity="1"/>
<line x1="383.5" y1="584.6" x2="383.5" y2="587.8" stroke="#222" stroke-width="0.8" opacity="1"/>
<line x1="247.8" y1="584.6" x2="247.8" y2="587.8" stroke="#222" stroke-width="0.8" opacity="1"/>
<line x1="400.2" y1="584.6" x2="400.2" y2="587.8" stroke="#222" stroke-width="0.8" opacity="1"/>
<line x1="231.1" y1="584.6" x2="231.1" y2="587.8" stroke="#222" stroke-width="0.8" opacity="1"/>
<line x1="416.9" y1="584.6" x2="416.9" y2="587.8" stroke="#222" stroke-width="0.8" opacity="1"/>
<line x1="324.0" y1="622.5" x2="324.0" y2="652.7" stroke="#000" stroke-width="0.8" opacity="0.85"/>
<path d="M514.1,509.3 L595.8,509.3 L583.8,517.0 A28.9,0.8 0 0 1 526.1,517.0 Z" fill="url(#v52)"/>
<path d="M515.1,544.3 L594.8,544.3 L580.9,554.0 A25.9,0.8 0 0 1 529.0,554.0 Z" fill="url(#v53)"/>
<path d="M516.1,579.5 L593.8,579.5 L580.9,588.0 A25.9,0.8 0 0 1 529.0,588.0 Z" fill="url(#v54)"/>
<rect x="529.0" y="587.5" width="51.8" height="4.9" fill="#20c8d8" />
<rect x="529.0" y="614.7" width="51.8" height="13.7" fill="#1a50f0" />
<rect x="539.0" y="617.7" width="31.9" height="11.7" fill="#1a50f0" />
<ellipse cx="555.0" cy="653.7" rx="15.9" ry="3" fill="#0a1478"/>
<line x1="512.8" y1="480.6" x2="512.8" y2="488.2" stroke="#111" stroke-width="0.9"/>
<line x1="597.1" y1="480.6" x2="597.1" y2="488.2" stroke="#111" stroke-width="0.9"/>
<line x1="495.7" y1="480.6" x2="495.7" y2="487.9" stroke="#111" stroke-width="0.9"/>
<line x1="614.2" y1="480.6" x2="614.2" y2="487.9" stroke="#111" stroke-width="0.9"/>
<line x1="479.1" y1="480.6" x2="479.1" y2="487.2" stroke="#111" stroke-width="0.9"/>
<line x1="630.8" y1="480.6" x2="630.8" y2="487.2" stroke="#111" stroke-width="0.9"/>
<line x1="462.4" y1="480.6" x2="462.4" y2="485.4" stroke="#111" stroke-width="0.9"/>
<line x1="647.5" y1="480.6" x2="647.5" y2="485.4" stroke="#111" stroke-width="0.9"/>
<path d="M462.4,480.6 A92.5,3.2 0 0 0 647.5,480.6" fill="none" stroke="#111" stroke-width="0.9"/>
<path d="M462.4,480.6 A92.5,3.2 0 0 1 647.5,480.6" fill="none" stroke="#222" stroke-width="0.9"/>
<ellipse cx="555.0" cy="475.9" rx="15.4" ry="2.0" fill="#1a1a1a"/>
<path d="M534.9,477.4 L575.0,477.4" stroke="#222" stroke-width="0.9"/>
<path d="M534.9,480.4 L575.0,480.4" stroke="#444" stroke-width="0.8"/>
<line x1="534.9" y1="477.1" x2="534.9" y2="480.4" stroke="#222" stroke-width="0.8" opacity="1"/>
<line x1="538.9" y1="477.1" x2="538.9" y2="480.4" stroke="#222" stroke-width="0.8" opacity="1"/>
<line x1="542.9" y1="477.1" x2="542.9" y2="480.4" stroke="#222" stroke-width="0.8" opacity="1"/>
<line x1="546.9" y1="477.1" x2="546.9" y2="480.4" stroke="#222" stroke-width="0.8" opacity="1"/>
<line x1="550.9" y1="477.1" x2="550.9" y2="480.4" stroke="#222" stroke-width="0.8" opacity="1"/>
<line x1="555.0" y1="477.1" x2="555.0" y2="480.4" stroke="#222" stroke-width="0.8" opacity="1"/>
<line x1="559.0" y1="477.1" x2="559.0" y2="480.4" stroke="#222" stroke-width="0.8" opacity="1"/>
<line x1="563.0" y1="477.1" x2="563.0" y2="480.4" stroke="#222" stroke-width="0.8" opacity="1"/>
<line x1="567.0" y1="477.1" x2="567.0" y2="480.4" stroke="#222" stroke-width="0.8" opacity="1"/>
<line x1="571.0" y1="477.1" x2="571.0" y2="480.4" stroke="#222" stroke-width="0.8" opacity="1"/>
<line x1="575.0" y1="477.1" x2="575.0" y2="480.4" stroke="#222" stroke-width="0.8" opacity="1"/>
<path d="M462.4,484.9 A92.5,1.5 0 0 1 647.5,484.9 L647.5,509.8 A92.5,0.6 0 0 1 462.4,509.8 Z" fill="url(#h55)"/>
<path d="M462.4,484.9 A92.5,1.5 0 0 0 647.5,484.9" fill="none" stroke="#550000" stroke-width="0.6" opacity="0.8"/>
<path d="M462.4,505.8 A92.5,1.5 0 0 0 647.5,505.8" fill="none" stroke="#000" stroke-width="0.8" opacity="0.6"/>
<path d="M462.4,519.7 A92.5,1.0 0 0 1 647.5,519.7 L647.5,545.3 A92.5,1.0 0 0 1 462.4,545.3 Z" fill="url(#h56)"/>
<path d="M462.4,519.7 A92.5,1.0 0 0 0 647.5,519.7" fill="none" stroke="#945600" stroke-width="0.6" opacity="0.8"/>
<path d="M462.4,541.3 A92.5,1.0 0 0 0 647.5,541.3" fill="none" stroke="#000" stroke-width="0.8" opacity="0.6"/>
<path d="M462.4,555.7 A92.5,1.0 0 0 1 647.5,555.7 L647.5,580.5 A92.5,1.0 0 0 1 462.4,580.5 Z" fill="url(#h57)"/>
<path d="M462.4,555.7 A92.5,1.0 0 0 0 647.5,555.7" fill="none" stroke="#5b9054" stroke-width="0.6" opacity="0.8"/>
<path d="M462.4,578.0 A92.5,1.0 0 0 0 647.5,578.0" fill="none" stroke="#000" stroke-width="0.8" opacity="0.6"/>
<path d="M462.4,591.9 A92.5,1.0 0 0 1 647.5,591.9 L647.5,615.7 A92.5,1.0 0 0 1 462.4,615.7 Z" fill="url(#h58)"/>
<path d="M462.4,591.9 A92.5,1.0 0 0 0 647.5,591.9" fill="none" stroke="#055b90" stroke-width="0.6" opacity="0.8"/>
<path d="M462.4,627.4 A92.5,2.0 0 0 1 647.5,627.4 L647.5,652.2 A92.5,2.6 0 0 1 462.4,652.2 Z" fill="url(#h59)"/>
<ellipse cx="555.0" cy="627.4" rx="92.5" ry="3.5" fill="url(#h60)"/>
<path d="M462.4,627.4 A92.5,3.5 0 0 0 647.5,627.4" fill="none" stroke="#000" stroke-width="0.8" opacity="0.7"/>
<path d="M462.4,517.8 A92.5,1.8 0 0 1 647.5,517.8" fill="none" stroke="#111" stroke-width="1.0"/>
<path d="M462.4,517.8 A92.5,1.2 0 0 0 647.5,517.8" fill="none" stroke="#333" stroke-width="0.7"/>
<line x1="512.8" y1="516.5" x2="512.8" y2="519.7" stroke="#222" stroke-width="0.8" opacity="1"/>
<line x1="597.1" y1="516.5" x2="597.1" y2="519.7" stroke="#222" stroke-width="0.8" opacity="1"/>
<line x1="495.7" y1="516.5" x2="495.7" y2="519.7" stroke="#222" stroke-width="0.8" opacity="1"/>
<line x1="614.2" y1="516.5" x2="614.2" y2="519.7" stroke="#222" stroke-width="0.8" opacity="1"/>
<line x1="479.1" y1="516.5" x2="479.1" y2="519.7" stroke="#222" stroke-width="0.8" opacity="1"/>
<line x1="630.8" y1="516.5" x2="630.8" y2="519.7" stroke="#222" stroke-width="0.8" opacity="1"/>
<line x1="462.4" y1="516.5" x2="462.4" y2="519.7" stroke="#222" stroke-width="0.8" opacity="1"/>
<line x1="647.5" y1="516.5" x2="647.5" y2="519.7" stroke="#222" stroke-width="0.8" opacity="1"/>
<path d="M462.4,553.8 A92.5,1.8 0 0 1 647.5,553.8" fill="none" stroke="#111" stroke-width="1.0"/>
<path d="M462.4,553.8 A92.5,1.2 0 0 0 647.5,553.8" fill="none" stroke="#333" stroke-width="0.7"/>
<line x1="512.8" y1="552.5" x2="512.8" y2="555.7" stroke="#222" stroke-width="0.8" opacity="1"/>
<line x1="597.1" y1="552.5" x2="597.1" y2="555.7" stroke="#222" stroke-width="0.8" opacity="1"/>
<line x1="495.7" y1="552.5" x2="495.7" y2="555.7" stroke="#222" stroke-width="0.8" opacity="1"/>
<line x1="614.2" y1="552.5" x2="614.2" y2="555.7" stroke="#222" stroke-width="0.8" opacity="1"/>
<line x1="479.1" y1="552.5" x2="479.1" y2="555.7" stroke="#222" stroke-width="0.8" opacity="1"/>
<line x1="630.8" y1="552.5" x2="630.8" y2="555.7" stroke="#222" stroke-width="0.8" opacity="1"/>
<line x1="462.4" y1="552.5" x2="462.4" y2="555.7" stroke="#222" stroke-width="0.8" opacity="1"/>
<line x1="647.5" y1="552.5" x2="647.5" y2="555.7" stroke="#222" stroke-width="0.8" opacity="1"/>
<path d="M462.4,590.0 A92.5,1.8 0 0 1 647.5,590.0" fill="none" stroke="#111" stroke-width="1.0"/>
<path d="M462.4,590.0 A92.5,1.2 0 0 0 647.5,590.0" fill="none" stroke="#333" stroke-width="0.7"/>
<line x1="512.8" y1="588.7" x2="512.8" y2="591.9" stroke="#222" stroke-width="0.8" opacity="1"/>
<line x1="597.1" y1="588.7" x2="597.1" y2="591.9" stroke="#222" stroke-width="0.8" opacity="1"/>
<line x1="495.7" y1="588.7" x2="495.7" y2="591.9" stroke="#222" stroke-width="0.8" opacity="1"/>
<line x1="614.2" y1="588.7" x2="614.2" y2="591.9" stroke="#222" stroke-width="0.8" opacity="1"/>
<line x1="479.1" y1="588.7" x2="479.1" y2="591.9" stroke="#222" stroke-width="0.8" opacity="1"/>
<line x1="630.8" y1="588.7" x2="630.8" y2="591.9" stroke="#222" stroke-width="0.8" opacity="1"/>
<line x1="462.4" y1="588.7" x2="462.4" y2="591.9" stroke="#222" stroke-width="0.8" opacity="1"/>
<line x1="647.5" y1="588.7" x2="647.5" y2="591.9" stroke="#222" stroke-width="0.8" opacity="1"/>
<line x1="555.0" y1="625.4" x2="555.0" y2="656.2" stroke="#000" stroke-width="0.8" opacity="0.85"/>
<line x1="63.0" y1="948.8" x2="63.0" y2="957.0" stroke="#111" stroke-width="1.1"/>
<line x1="147.0" y1="948.8" x2="147.0" y2="957.0" stroke="#111" stroke-width="1.1"/>
<line x1="46.0" y1="948.8" x2="46.0" y2="956.6" stroke="#111" stroke-width="1.1"/>
<line x1="164.0" y1="948.8" x2="164.0" y2="956.6" stroke="#111" stroke-width="1.1"/>
<line x1="29.4" y1="948.8" x2="29.4" y2="956.0" stroke="#111" stroke-width="1.1"/>
<line x1="180.6" y1="948.8" x2="180.6" y2="956.0" stroke="#111" stroke-width="1.1"/>
<line x1="12.8" y1="948.8" x2="12.8" y2="954.3" stroke="#111" stroke-width="1.1"/>
<line x1="197.2" y1="948.8" x2="197.2" y2="954.3" stroke="#111" stroke-width="1.1"/>
<path d="M12.8,948.8 A92.2,3.0 0 0 0 197.2,948.8" fill="none" stroke="#111" stroke-width="1.1"/>
<path d="M12.8,948.8 A92.2,3.0 0 0 1 197.2,948.8" fill="none" stroke="#111" stroke-width="0.9"/>
<ellipse cx="105.0" cy="946.3" rx="15.2" ry="2.0" fill="#1a1a1a"/>
<path d="M85.2,947.8 L124.8,947.8" stroke="#222" stroke-width="0.9"/>
<path d="M85.2,951.3 L124.8,951.3" stroke="#444" stroke-width="0.8"/>
<line x1="85.2" y1="947.5" x2="85.2" y2="951.3" stroke="#222" stroke-width="0.8" opacity="1"/>
<line x1="89.2" y1="947.5" x2="89.2" y2="951.3" stroke="#222" stroke-width="0.8" opacity="1"/>
<line x1="93.1" y1="947.5" x2="93.1" y2="951.3" stroke="#222" stroke-width="0.8" opacity="1"/>
<line x1="97.1" y1="947.5" x2="97.1" y2="951.3" stroke="#222" stroke-width="0.8" opacity="1"/>
<line x1="101.0" y1="947.5" x2="101.0" y2="951.3" stroke="#222" stroke-width="0.8" opacity="1"/>
<line x1="105.0" y1="947.5" x2="105.0" y2="951.3" stroke="#222" stroke-width="0.8" opacity="1"/>
<line x1="109.0" y1="947.5" x2="109.0" y2="951.3" stroke="#222" stroke-width="0.8" opacity="1"/>
<line x1="112.9" y1="947.5" x2="112.9" y2="951.3" stroke="#222" stroke-width="0.8" opacity="1"/>
<line x1="116.9" y1="947.5" x2="116.9" y2="951.3" stroke="#222" stroke-width="0.8" opacity="1"/>
<line x1="120.8" y1="947.5" x2="120.8" y2="951.3" stroke="#222" stroke-width="0.8" opacity="1"/>
<line x1="124.8" y1="947.5" x2="124.8" y2="951.3" stroke="#222" stroke-width="0.8" opacity="1"/>
<line x1="63.0" y1="1005.8" x2="63.0" y2="1012.4" stroke="#111" stroke-width="1.1"/>
<line x1="147.0" y1="1005.8" x2="147.0" y2="1012.4" stroke="#111" stroke-width="1.1"/>
<line x1="46.0" y1="1005.8" x2="46.0" y2="1012.1" stroke="#111" stroke-width="1.1"/>
<line x1="164.0" y1="1005.8" x2="164.0" y2="1012.1" stroke="#111" stroke-width="1.1"/>
<line x1="29.4" y1="1005.8" x2="29.4" y2="1011.6" stroke="#111" stroke-width="1.1"/>
<line x1="180.6" y1="1005.8" x2="180.6" y2="1011.6" stroke="#111" stroke-width="1.1"/>
<line x1="12.8" y1="1005.8" x2="12.8" y2="1010.1" stroke="#111" stroke-width="1.1"/>
<line x1="197.2" y1="1005.8" x2="197.2" y2="1010.1" stroke="#111" stroke-width="1.1"/>
<path d="M12.8,1010.1 A92.2,2.6 0 0 0 197.2,1010.1" fill="none" stroke="#111" stroke-width="1.1"/>
<path d="M12.8,1010.1 A92.2,2.6 0 0 1 197.2,1010.1" fill="none" stroke="#111" stroke-width="0.6"/>
<line x1="63.0" y1="1037.8" x2="63.0" y2="1049.6" stroke="#111" stroke-width="1.1"/>
<line x1="147.0" y1="1037.8" x2="147.0" y2="1049.6" stroke="#111" stroke-width="1.1"/>
<line x1="46.0" y1="1037.8" x2="46.0" y2="1049.3" stroke="#111" stroke-width="1.1"/>
<line x1="164.0" y1="1037.8" x2="164.0" y2="1049.3" stroke="#111" stroke-width="1.1"/>
<line x1="29.4" y1="1037.8" x2="29.4" y2="1048.8" stroke="#111" stroke-width="1.1"/>
<line x1="180.6" y1="1037.8" x2="180.6" y2="1048.8" stroke="#111" stroke-width="1.1"/>
<line x1="12.8" y1="1037.8" x2="12.8" y2="1047.3" stroke="#111" stroke-width="1.1"/>
<line x1="197.2" y1="1037.8" x2="197.2" y2="1047.3" stroke="#111" stroke-width="1.1"/>
<path d="M12.8,1047.3 A92.2,2.6 0 0 0 197.2,1047.3" fill="none" stroke="#111" stroke-width="1.1"/>
<path d="M12.8,1047.3 A92.2,2.6 0 0 1 197.2,1047.3" fill="none" stroke="#111" stroke-width="0.6"/>
<line x1="63.0" y1="1076.8" x2="63.0" y2="1086.1" stroke="#111" stroke-width="1.1"/>
<line x1="147.0" y1="1076.8" x2="147.0" y2="1086.1" stroke="#111" stroke-width="1.1"/>
<line x1="46.0" y1="1076.8" x2="46.0" y2="1085.8" stroke="#111" stroke-width="1.1"/>
<line x1="164.0" y1="1076.8" x2="164.0" y2="1085.8" stroke="#111" stroke-width="1.1"/>
<line x1="29.4" y1="1076.8" x2="29.4" y2="1085.3" stroke="#111" stroke-width="1.1"/>
<line x1="180.6" y1="1076.8" x2="180.6" y2="1085.3" stroke="#111" stroke-width="1.1"/>
<line x1="12.8" y1="1076.8" x2="12.8" y2="1083.8" stroke="#111" stroke-width="1.1"/>
<line x1="197.2" y1="1076.8" x2="197.2" y2="1083.8" stroke="#111" stroke-width="1.1"/>
<path d="M12.8,1083.8 A92.2,2.6 0 0 0 197.2,1083.8" fill="none" stroke="#111" stroke-width="1.1"/>
<path d="M12.8,1083.8 A92.2,2.6 0 0 1 197.2,1083.8" fill="none" stroke="#111" stroke-width="0.6"/>
<path d="M62.8,1010.6 L147.2,1010.6 A58.0,58.0 0 0 1 141.2,1016.1 A36.2,0.8 0 0 1 68.8,1016.1 A58.0,58.0 0 0 1 62.8,1010.6 Z" fill="url(#v61)"/>
<path d="M62.8,1039.3 L147.2,1039.3 A50.2,50.2 0 0 1 140.5,1047.6 A35.5,0.8 0 0 1 69.5,1047.6 A50.2,50.2 0 0 1 62.8,1039.3 Z" fill="url(#v62)"/>
<path d="M71.7,1048.1 L138.3,1048.1 L130.1,1054.8 A25.1,0.8 0 0 1 79.9,1054.8 Z" fill="url(#v63)"/>
<path d="M67.0,1078.8 L143.0,1078.8 A53.2,53.2 0 0 1 136.0,1084.8 A31.0,0.8 0 0 1 74.0,1084.8 A53.2,53.2 0 0 1 67.0,1078.8 Z" fill="url(#v64)"/>
<line x1="71.5" y1="1085.1" x2="138.5" y2="1085.1" stroke="#000" stroke-width="1.0"/>
<rect x="79.1" y="1086.3" width="51.7" height="5.5" fill="#0a1ab8" />
<rect x="89.5" y="1091.3" width="31.0" height="3.5" fill="#0a14a0" />
<ellipse cx="105.0" cy="1123.3" rx="15.7" ry="3.2" fill="#0a1478"/>
<path d="M12.8,954.6 A92.2,3.0 0 0 1 197.2,954.6 L197.2,980.3 A92.2,1.6 0 0 1 12.8,980.3 Z" fill="url(#h65)"/>
<path d="M12.8,954.6 A92.2,3.0 0 0 0 197.2,954.6" fill="none" stroke="#550000" stroke-width="0.6" opacity="0.8"/>
<path d="M12.8,976.4 A92.2,1.6 0 0 0 197.2,976.4 L197.2,980.3 A92.2,1.6 0 0 1 12.8,980.3 Z" fill="url(#h66)"/>
<path d="M12.8,982.8 A92.2,1.8 0 0 1 197.2,982.8 L197.2,1007.2 A92.2,1.0 0 0 1 12.8,1007.2 Z" fill="url(#h67)"/>
<path d="M12.8,982.8 A92.2,1.8 0 0 0 197.2,982.8" fill="none" stroke="#924900" stroke-width="0.6" opacity="0.8"/>
<path d="M12.8,1015.8 A92.2,0.6 0 0 1 197.2,1015.8 L197.2,1040.0 A92.2,1.0 0 0 1 12.8,1040.0 Z" fill="url(#h68)"/>
<path d="M12.8,1015.8 A92.2,0.6 0 0 0 197.2,1015.8" fill="none" stroke="#6d913c" stroke-width="0.6" opacity="0.8"/>
<path d="M12.8,1054.1 A92.2,0.6 0 0 1 197.2,1054.1 L197.2,1079.4 A92.2,1.0 0 0 1 12.8,1079.4 Z" fill="url(#h69)"/>
<path d="M12.8,1054.1 A92.2,0.6 0 0 0 197.2,1054.1" fill="none" stroke="#106791" stroke-width="0.6" opacity="0.8"/>
<path d="M12.8,1060.3 A92.2,1.0 0 0 0 197.2,1060.3" fill="none" stroke="#000" stroke-width="0.8" opacity="0.6"/>
<path d="M12.8,1094.2 A92.2,2.0 0 0 1 197.2,1094.2 L197.2,1121.0 A92.2,2.6 0 0 1 12.8,1121.0 Z" fill="url(#h70)"/>
<ellipse cx="105.0" cy="1094.2" rx="92.2" ry="3.5" fill="url(#h71)"/>
<path d="M12.8,1094.2 A92.2,3.5 0 0 0 197.2,1094.2" fill="none" stroke="#000" stroke-width="0.8" opacity="0.7"/>
<rect x="62.8" y="1007.7" width="84.3" height="2.4" fill="#e8b400" />
<line x1="62.8" y1="1010.2" x2="147.2" y2="1010.2" stroke="#111" stroke-width="0.9"/>
<path d="M12.8,974.3 Q49.7,972.8 77.3,972.3" stroke="#200" stroke-width="0.8" fill="none" opacity="0.7"/>
<path d="M132.7,973.8 Q169.5,973.8 197.2,975.3" stroke="#200" stroke-width="0.8" fill="none" opacity="0.7"/>
<path d="M12.8,986.8 Q49.7,984.8 86.6,984.8" stroke="#300" stroke-width="0.8" fill="none" opacity="0.7"/>
<path d="M132.7,985.8 Q169.5,985.8 197.2,987.3" stroke="#300" stroke-width="0.8" fill="none" opacity="0.7"/>
<path d="M12.8,1023.3 L26.6,1023.1" stroke="#000" stroke-width="0.8" fill="none" opacity="0.7"/>
<path d="M146.5,1021.8 Q174.2,1021.8 197.2,1023.3" stroke="#000" stroke-width="0.8" fill="none" opacity="0.7"/>
<line x1="105.0" y1="1053.1" x2="105.0" y2="1124.8" stroke="#000" stroke-width="0.8" opacity="0.85"/>
<line x1="105.0" y1="1006.8" x2="105.0" y2="1009.8" stroke="#000" stroke-width="0.8" opacity="0.85"/>
<line x1="14.5" y1="974.8" x2="14.5" y2="962.3" stroke="#e01010" stroke-width="1.0" opacity="0.9"/>
<path d="M13.4,962.8 L14.5,960.8 L15.6,962.8 Z" fill="#e01010" opacity="0.9"/>
<line x1="37.1" y1="974.8" x2="37.1" y2="962.3" stroke="#e01010" stroke-width="1.0" opacity="0.9"/>
<path d="M36.0,962.8 L37.1,960.8 L38.2,962.8 Z" fill="#e01010" opacity="0.9"/>
<line x1="77.0" y1="974.8" x2="77.0" y2="962.3" stroke="#e01010" stroke-width="1.0" opacity="0.9"/>
<path d="M75.9,962.8 L77.0,960.8 L78.1,962.8 Z" fill="#e01010" opacity="0.9"/>
<line x1="133.0" y1="974.8" x2="133.0" y2="962.3" stroke="#e01010" stroke-width="1.0" opacity="0.9"/>
<path d="M131.9,962.8 L133.0,960.8 L134.1,962.8 Z" fill="#e01010" opacity="0.9"/>
<line x1="172.9" y1="974.8" x2="172.9" y2="962.3" stroke="#e01010" stroke-width="1.0" opacity="0.9"/>
<path d="M171.8,962.8 L172.9,960.8 L174.0,962.8 Z" fill="#e01010" opacity="0.9"/>
<line x1="195.5" y1="974.8" x2="195.5" y2="962.3" stroke="#e01010" stroke-width="1.0" opacity="0.9"/>
<path d="M194.4,962.8 L195.5,960.8 L196.6,962.8 Z" fill="#e01010" opacity="0.9"/>
<line x1="14.5" y1="1006.8" x2="14.5" y2="991.3" stroke="#e01010" stroke-width="1.0" opacity="0.9"/>
<path d="M13.4,991.8 L14.5,989.8 L15.6,991.8 Z" fill="#e01010" opacity="0.9"/>
<line x1="37.1" y1="1006.8" x2="37.1" y2="991.3" stroke="#e01010" stroke-width="1.0" opacity="0.9"/>
<path d="M36.0,991.8 L37.1,989.8 L38.2,991.8 Z" fill="#e01010" opacity="0.9"/>
<line x1="77.0" y1="1006.8" x2="77.0" y2="991.3" stroke="#e01010" stroke-width="1.0" opacity="0.9"/>
<path d="M75.9,991.8 L77.0,989.8 L78.1,991.8 Z" fill="#e01010" opacity="0.9"/>
<line x1="133.0" y1="1006.8" x2="133.0" y2="991.3" stroke="#e01010" stroke-width="1.0" opacity="0.9"/>
<path d="M131.9,991.8 L133.0,989.8 L134.1,991.8 Z" fill="#e01010" opacity="0.9"/>
<line x1="172.9" y1="1006.8" x2="172.9" y2="991.3" stroke="#e01010" stroke-width="1.0" opacity="0.9"/>
<path d="M171.8,991.8 L172.9,989.8 L174.0,991.8 Z" fill="#e01010" opacity="0.9"/>
<line x1="195.5" y1="1006.8" x2="195.5" y2="991.3" stroke="#e01010" stroke-width="1.0" opacity="0.9"/>
<path d="M194.4,991.8 L195.5,989.8 L196.6,991.8 Z" fill="#e01010" opacity="0.9"/>
<line x1="14.5" y1="1039.8" x2="14.5" y2="1034.3" stroke="#e01010" stroke-width="1.0" opacity="0.9"/>
<path d="M13.4,1034.8 L14.5,1032.8 L15.6,1034.8 Z" fill="#e01010" opacity="0.9"/>
<line x1="37.1" y1="1039.8" x2="37.1" y2="1034.3" stroke="#e01010" stroke-width="1.0" opacity="0.9"/>
<path d="M36.0,1034.8 L37.1,1032.8 L38.2,1034.8 Z" fill="#e01010" opacity="0.9"/>
<line x1="77.0" y1="1039.8" x2="77.0" y2="1034.3" stroke="#e01010" stroke-width="1.0" opacity="0.9"/>
<path d="M75.9,1034.8 L77.0,1032.8 L78.1,1034.8 Z" fill="#e01010" opacity="0.9"/>
<line x1="133.0" y1="1039.8" x2="133.0" y2="1034.3" stroke="#e01010" stroke-width="1.0" opacity="0.9"/>
<path d="M131.9,1034.8 L133.0,1032.8 L134.1,1034.8 Z" fill="#e01010" opacity="0.9"/>
<line x1="172.9" y1="1039.8" x2="172.9" y2="1034.3" stroke="#e01010" stroke-width="1.0" opacity="0.9"/>
<path d="M171.8,1034.8 L172.9,1032.8 L174.0,1034.8 Z" fill="#e01010" opacity="0.9"/>
<line x1="195.5" y1="1039.8" x2="195.5" y2="1034.3" stroke="#e01010" stroke-width="1.0" opacity="0.9"/>
<path d="M194.4,1034.8 L195.5,1032.8 L196.6,1034.8 Z" fill="#e01010" opacity="0.9"/>
<line x1="14.5" y1="1074.3" x2="14.5" y2="1072.3" stroke="#e01010" stroke-width="0.8" opacity="0.5"/>
<path d="M13.4,1072.8 L14.5,1070.8 L15.6,1072.8 Z" fill="#e01010" opacity="0.5"/>
<line x1="37.1" y1="1074.3" x2="37.1" y2="1072.3" stroke="#e01010" stroke-width="0.8" opacity="0.5"/>
<path d="M36.0,1072.8 L37.1,1070.8 L38.2,1072.8 Z" fill="#e01010" opacity="0.5"/>
<line x1="77.0" y1="1074.3" x2="77.0" y2="1072.3" stroke="#e01010" stroke-width="0.8" opacity="0.5"/>
<path d="M75.9,1072.8 L77.0,1070.8 L78.1,1072.8 Z" fill="#e01010" opacity="0.5"/>
<line x1="133.0" y1="1074.3" x2="133.0" y2="1072.3" stroke="#e01010" stroke-width="0.8" opacity="0.5"/>
<path d="M131.9,1072.8 L133.0,1070.8 L134.1,1072.8 Z" fill="#e01010" opacity="0.5"/>
<line x1="172.9" y1="1074.3" x2="172.9" y2="1072.3" stroke="#e01010" stroke-width="0.8" opacity="0.5"/>
<path d="M171.8,1072.8 L172.9,1070.8 L174.0,1072.8 Z" fill="#e01010" opacity="0.5"/>
<line x1="195.5" y1="1074.3" x2="195.5" y2="1072.3" stroke="#e01010" stroke-width="0.8" opacity="0.5"/>
<path d="M194.4,1072.8 L195.5,1070.8 L196.6,1072.8 Z" fill="#e01010" opacity="0.5"/>
<line x1="18.8" y1="1041.8" x2="18.8" y2="1038.3" stroke="#e01010" stroke-width="0.6" opacity="0.7"/>
<path d="M17.7,1038.8 L18.8,1036.8 L19.9,1038.8 Z" fill="#e01010" opacity="0.7"/>
<line x1="21.9" y1="1041.8" x2="21.9" y2="1038.3" stroke="#e01010" stroke-width="0.6" opacity="0.7"/>
<path d="M20.8,1038.8 L21.9,1036.8 L23.0,1038.8 Z" fill="#e01010" opacity="0.7"/>
<line x1="44.2" y1="1041.8" x2="44.2" y2="1038.3" stroke="#e01010" stroke-width="0.6" opacity="0.7"/>
<path d="M43.1,1038.8 L44.2,1036.8 L45.3,1038.8 Z" fill="#e01010" opacity="0.7"/>
<line x1="47.2" y1="1041.8" x2="47.2" y2="1038.3" stroke="#e01010" stroke-width="0.6" opacity="0.7"/>
<path d="M46.1,1038.8 L47.2,1036.8 L48.3,1038.8 Z" fill="#e01010" opacity="0.7"/>
<line x1="59.4" y1="1041.8" x2="59.4" y2="1038.3" stroke="#e01010" stroke-width="0.6" opacity="0.7"/>
<path d="M58.3,1038.8 L59.4,1036.8 L60.5,1038.8 Z" fill="#e01010" opacity="0.7"/>
<line x1="64.5" y1="1041.8" x2="64.5" y2="1038.3" stroke="#e01010" stroke-width="0.6" opacity="0.7"/>
<path d="M63.4,1038.8 L64.5,1036.8 L65.6,1038.8 Z" fill="#e01010" opacity="0.7"/>
<line x1="145.5" y1="1041.8" x2="145.5" y2="1038.3" stroke="#e01010" stroke-width="0.6" opacity="0.7"/>
<path d="M144.4,1038.8 L145.5,1036.8 L146.6,1038.8 Z" fill="#e01010" opacity="0.7"/>
<line x1="150.6" y1="1041.8" x2="150.6" y2="1038.3" stroke="#e01010" stroke-width="0.6" opacity="0.7"/>
<path d="M149.5,1038.8 L150.6,1036.8 L151.7,1038.8 Z" fill="#e01010" opacity="0.7"/>
<line x1="162.8" y1="1041.8" x2="162.8" y2="1038.3" stroke="#e01010" stroke-width="0.6" opacity="0.7"/>
<path d="M161.7,1038.8 L162.8,1036.8 L163.9,1038.8 Z" fill="#e01010" opacity="0.7"/>
<line x1="165.8" y1="1041.8" x2="165.8" y2="1038.3" stroke="#e01010" stroke-width="0.6" opacity="0.7"/>
<path d="M164.7,1038.8 L165.8,1036.8 L166.9,1038.8 Z" fill="#e01010" opacity="0.7"/>
<line x1="188.1" y1="1041.8" x2="188.1" y2="1038.3" stroke="#e01010" stroke-width="0.6" opacity="0.7"/>
<path d="M187.0,1038.8 L188.1,1036.8 L189.2,1038.8 Z" fill="#e01010" opacity="0.7"/>
<line x1="191.2" y1="1041.8" x2="191.2" y2="1038.3" stroke="#e01010" stroke-width="0.6" opacity="0.7"/>
<path d="M190.1,1038.8 L191.2,1036.8 L192.3,1038.8 Z" fill="#e01010" opacity="0.7"/>
<line x1="47.2" y1="1012.8" x2="47.2" y2="1009.3" stroke="#e01010" stroke-width="0.8" opacity="0.9"/>
<path d="M46.1,1009.8 L47.2,1007.8 L48.3,1009.8 Z" fill="#e01010" opacity="0.9"/>
<line x1="64.5" y1="1012.8" x2="64.5" y2="1009.3" stroke="#e01010" stroke-width="0.8" opacity="0.9"/>
<path d="M63.4,1009.8 L64.5,1007.8 L65.6,1009.8 Z" fill="#e01010" opacity="0.9"/>
<line x1="145.5" y1="1012.8" x2="145.5" y2="1009.3" stroke="#e01010" stroke-width="0.8" opacity="0.9"/>
<path d="M144.4,1009.8 L145.5,1007.8 L146.6,1009.8 Z" fill="#e01010" opacity="0.9"/>
<line x1="162.8" y1="1012.8" x2="162.8" y2="1009.3" stroke="#e01010" stroke-width="0.8" opacity="0.9"/>
<path d="M161.7,1009.8 L162.8,1007.8 L163.9,1009.8 Z" fill="#e01010" opacity="0.9"/>
<line x1="47.2" y1="1053.8" x2="47.2" y2="1049.3" stroke="#e01010" stroke-width="0.8" opacity="0.9"/>
<path d="M46.1,1049.8 L47.2,1047.8 L48.3,1049.8 Z" fill="#e01010" opacity="0.9"/>
<line x1="64.5" y1="1053.8" x2="64.5" y2="1049.3" stroke="#e01010" stroke-width="0.8" opacity="0.9"/>
<path d="M63.4,1049.8 L64.5,1047.8 L65.6,1049.8 Z" fill="#e01010" opacity="0.9"/>
<line x1="145.5" y1="1053.8" x2="145.5" y2="1049.3" stroke="#e01010" stroke-width="0.8" opacity="0.9"/>
<path d="M144.4,1049.8 L145.5,1047.8 L146.6,1049.8 Z" fill="#e01010" opacity="0.9"/>
<line x1="162.8" y1="1053.8" x2="162.8" y2="1049.3" stroke="#e01010" stroke-width="0.8" opacity="0.9"/>
<path d="M161.7,1049.8 L162.8,1047.8 L163.9,1049.8 Z" fill="#e01010" opacity="0.9"/>
<line x1="290.0" y1="971.4" x2="290.0" y2="979.0" stroke="#111" stroke-width="1.1"/>
<line x1="369.3" y1="971.4" x2="369.3" y2="979.0" stroke="#111" stroke-width="1.1"/>
<line x1="273.8" y1="971.4" x2="273.8" y2="978.6" stroke="#111" stroke-width="1.1"/>
<line x1="385.5" y1="971.4" x2="385.5" y2="978.6" stroke="#111" stroke-width="1.1"/>
<line x1="258.1" y1="971.4" x2="258.1" y2="978.0" stroke="#111" stroke-width="1.1"/>
<line x1="401.2" y1="971.4" x2="401.2" y2="978.0" stroke="#111" stroke-width="1.1"/>
<line x1="242.4" y1="971.4" x2="242.4" y2="976.3" stroke="#111" stroke-width="1.1"/>
<line x1="416.9" y1="971.4" x2="416.9" y2="976.3" stroke="#111" stroke-width="1.1"/>
<line x1="290.0" y1="1000.7" x2="290.0" y2="1014.6" stroke="#111" stroke-width="1.1"/>
<line x1="369.3" y1="1000.7" x2="369.3" y2="1014.6" stroke="#111" stroke-width="1.1"/>
<line x1="273.8" y1="1000.7" x2="273.8" y2="1014.2" stroke="#111" stroke-width="1.1"/>
<line x1="385.5" y1="1000.7" x2="385.5" y2="1014.2" stroke="#111" stroke-width="1.1"/>
<line x1="258.1" y1="1000.7" x2="258.1" y2="1013.6" stroke="#111" stroke-width="1.1"/>
<line x1="401.2" y1="1000.7" x2="401.2" y2="1013.6" stroke="#111" stroke-width="1.1"/>
<line x1="242.4" y1="1000.7" x2="242.4" y2="1011.9" stroke="#111" stroke-width="1.1"/>
<line x1="416.9" y1="1000.7" x2="416.9" y2="1011.9" stroke="#111" stroke-width="1.1"/>
<line x1="290.0" y1="1035.7" x2="290.0" y2="1053.8" stroke="#111" stroke-width="1.1"/>
<line x1="369.3" y1="1035.7" x2="369.3" y2="1053.8" stroke="#111" stroke-width="1.1"/>
<line x1="273.8" y1="1035.7" x2="273.8" y2="1053.4" stroke="#111" stroke-width="1.1"/>
<line x1="385.5" y1="1035.7" x2="385.5" y2="1053.4" stroke="#111" stroke-width="1.1"/>
<line x1="258.1" y1="1035.7" x2="258.1" y2="1052.8" stroke="#111" stroke-width="1.1"/>
<line x1="401.2" y1="1035.7" x2="401.2" y2="1052.8" stroke="#111" stroke-width="1.1"/>
<line x1="242.4" y1="1035.7" x2="242.4" y2="1051.1" stroke="#111" stroke-width="1.1"/>
<line x1="416.9" y1="1035.7" x2="416.9" y2="1051.1" stroke="#111" stroke-width="1.1"/>
<path d="M242.4,1051.1 A87.2,3.0 0 0 0 416.9,1051.1" fill="none" stroke="#111" stroke-width="1.1"/>
<path d="M242.4,1051.1 A87.2,3.0 0 0 1 416.9,1051.1" fill="none" stroke="#111" stroke-width="0.6"/>
<line x1="290.0" y1="1077.7" x2="290.0" y2="1089.5" stroke="#111" stroke-width="1.1"/>
<line x1="369.3" y1="1077.7" x2="369.3" y2="1089.5" stroke="#111" stroke-width="1.1"/>
<line x1="273.8" y1="1077.7" x2="273.8" y2="1089.1" stroke="#111" stroke-width="1.1"/>
<line x1="385.5" y1="1077.7" x2="385.5" y2="1089.1" stroke="#111" stroke-width="1.1"/>
<line x1="258.1" y1="1077.7" x2="258.1" y2="1088.5" stroke="#111" stroke-width="1.1"/>
<line x1="401.2" y1="1077.7" x2="401.2" y2="1088.5" stroke="#111" stroke-width="1.1"/>
<line x1="242.4" y1="1077.7" x2="242.4" y2="1086.8" stroke="#111" stroke-width="1.1"/>
<line x1="416.9" y1="1077.7" x2="416.9" y2="1086.8" stroke="#111" stroke-width="1.1"/>
<path d="M242.4,1086.8 A87.2,3.0 0 0 0 416.9,1086.8" fill="none" stroke="#111" stroke-width="1.1"/>
<path d="M242.4,1086.8 A87.2,3.0 0 0 1 416.9,1086.8" fill="none" stroke="#111" stroke-width="0.6"/>
<path d="M289.6,970.4 L369.7,970.4 A88.8,88.8 0 0 1 359.4,974.8 A29.8,0.8 0 0 1 299.9,974.8 A88.8,88.8 0 0 1 289.6,970.4 Z" fill="url(#v72)"/>
<path d="M290.3,999.7 L369.0,999.7 A39.8,39.8 0 0 1 365.5,1011.2 A35.9,0.8 0 0 1 293.8,1011.2 A39.8,39.8 0 0 1 290.3,999.7 Z" fill="url(#v73)"/>
<path d="M290.3,1034.7 L369.0,1034.7 A41.9,41.9 0 0 1 358.7,1050.6 A29.0,0.8 0 0 1 300.6,1050.6 A41.9,41.9 0 0 1 290.3,1034.7 Z" fill="url(#v74)"/>
<rect x="258.1" y="970.4" width="143.1" height="6.4" fill="url(#v75)" />
<rect x="305.2" y="1049.6" width="48.9" height="2.5" fill="#0818a0" />
<rect x="314.5" y="1051.6" width="30.3" height="2.8" fill="#0a1cb8" />
<path d="M292.5,1076.7 L366.8,1076.7 A48.7,48.7 0 0 1 354.1,1087.3 A24.4,1.0 0 0 1 305.2,1087.3 A48.7,48.7 0 0 1 292.5,1076.7 Z" fill="url(#v76)"/>
<rect x="315.0" y="1086.8" width="29.3" height="11.2" fill="#0a1cb0" />
<rect x="305.7" y="1095.0" width="47.9" height="2.5" fill="#0a1890" />
<ellipse cx="329.6" cy="1123.2" rx="15.1" ry="3" fill="#0a1478"/>
<path d="M242.4,948.3 A87.2,3.5 0 0 1 416.9,948.3 L416.9,971.4 A87.2,1.2 0 0 1 242.4,971.4 Z" fill="url(#h77)"/>
<path d="M242.4,948.3 A87.2,3.5 0 0 0 416.9,948.3" fill="none" stroke="#550000" stroke-width="0.6" opacity="0.8"/>
<path d="M242.4,958.1 A87.2,3.5 0 0 0 416.9,958.1" fill="none" stroke="#000" stroke-width="0.8" opacity="0.6"/>
<path d="M242.4,976.3 A87.2,0.6 0 0 1 416.9,976.3 L416.9,1000.7 A87.2,1.2 0 0 1 242.4,1000.7 Z" fill="url(#h78)"/>
<path d="M242.4,976.3 A87.2,0.6 0 0 0 416.9,976.3" fill="none" stroke="#924800" stroke-width="0.6" opacity="0.8"/>
<path d="M242.4,981.2 A87.2,1.0 0 0 0 416.9,981.2" fill="none" stroke="#000" stroke-width="0.8" opacity="0.6"/>
<path d="M242.4,994.4 A87.2,1.0 0 0 0 416.9,994.4" fill="none" stroke="#000" stroke-width="0.8" opacity="0.6"/>
<path d="M242.4,1011.9 A87.2,0.6 0 0 1 416.9,1011.9 L416.9,1035.7 A87.2,1.2 0 0 1 242.4,1035.7 Z" fill="url(#h79)"/>
<path d="M242.4,1011.9 A87.2,0.6 0 0 0 416.9,1011.9" fill="none" stroke="#6a8f3e" stroke-width="0.6" opacity="0.8"/>
<path d="M242.4,1016.1 A87.2,1.0 0 0 0 416.9,1016.1" fill="none" stroke="#000" stroke-width="0.8" opacity="0.6"/>
<path d="M242.4,1028.0 A87.2,1.0 0 0 0 416.9,1028.0" fill="none" stroke="#000" stroke-width="0.8" opacity="0.6"/>
<path d="M242.4,1053.9 A87.2,0.6 0 0 1 416.9,1053.9 L416.9,1077.7 A87.2,1.2 0 0 1 242.4,1077.7 Z" fill="url(#h80)"/>
<path d="M242.4,1053.9 A87.2,0.6 0 0 0 416.9,1053.9" fill="none" stroke="#0b6590" stroke-width="0.6" opacity="0.8"/>
<path d="M242.4,1063.7 A87.2,1.0 0 0 0 416.9,1063.7" fill="none" stroke="#000" stroke-width="0.8" opacity="0.6"/>
<path d="M242.4,1097.0 A87.2,2.0 0 0 1 416.9,1097.0 L416.9,1121.7 A87.2,2.6 0 0 1 242.4,1121.7 Z" fill="url(#h81)"/>
<ellipse cx="329.6" cy="1097.0" rx="87.2" ry="3.5" fill="url(#h82)"/>
<path d="M242.4,1097.0 A87.2,3.5 0 0 0 416.9,1097.0" fill="none" stroke="#000" stroke-width="0.8" opacity="0.7"/>
<line x1="329.6" y1="968.4" x2="329.6" y2="1125.7" stroke="#000" stroke-width="0.8" opacity="0.85"/>
<line x1="244.2" y1="974.8" x2="244.2" y2="969.3" stroke="#e01010" stroke-width="0.8" opacity="0.85"/>
<path d="M243.1,969.8 L244.2,967.8 L245.3,969.8 Z" fill="#e01010" opacity="0.85"/>
<line x1="247.1" y1="974.8" x2="247.1" y2="969.3" stroke="#e01010" stroke-width="0.8" opacity="0.85"/>
<path d="M246.0,969.8 L247.1,967.8 L248.2,969.8 Z" fill="#e01010" opacity="0.85"/>
<line x1="260.0" y1="974.8" x2="260.0" y2="969.3" stroke="#e01010" stroke-width="0.8" opacity="0.85"/>
<path d="M258.9,969.8 L260.0,967.8 L261.1,969.8 Z" fill="#e01010" opacity="0.85"/>
<line x1="261.7" y1="974.8" x2="261.7" y2="969.3" stroke="#e01010" stroke-width="0.8" opacity="0.85"/>
<path d="M260.6,969.8 L261.7,967.8 L262.8,969.8 Z" fill="#e01010" opacity="0.85"/>
<line x1="265.3" y1="974.8" x2="265.3" y2="969.3" stroke="#e01010" stroke-width="0.8" opacity="0.85"/>
<path d="M264.2,969.8 L265.3,967.8 L266.4,969.8 Z" fill="#e01010" opacity="0.85"/>
<line x1="269.9" y1="974.8" x2="269.9" y2="969.3" stroke="#e01010" stroke-width="0.8" opacity="0.85"/>
<path d="M268.8,969.8 L269.9,967.8 L271.0,969.8 Z" fill="#e01010" opacity="0.85"/>
<line x1="276.7" y1="974.8" x2="276.7" y2="969.3" stroke="#e01010" stroke-width="0.8" opacity="0.85"/>
<path d="M275.6,969.8 L276.7,967.8 L277.8,969.8 Z" fill="#e01010" opacity="0.85"/>
<line x1="279.5" y1="974.8" x2="279.5" y2="969.3" stroke="#e01010" stroke-width="0.8" opacity="0.85"/>
<path d="M278.4,969.8 L279.5,967.8 L280.6,969.8 Z" fill="#e01010" opacity="0.85"/>
<line x1="292.5" y1="974.8" x2="292.5" y2="969.3" stroke="#e01010" stroke-width="0.8" opacity="0.85"/>
<path d="M291.4,969.8 L292.5,967.8 L293.6,969.8 Z" fill="#e01010" opacity="0.85"/>
<line x1="303.1" y1="974.8" x2="303.1" y2="969.3" stroke="#e01010" stroke-width="0.8" opacity="0.85"/>
<path d="M302.0,969.8 L303.1,967.8 L304.2,969.8 Z" fill="#e01010" opacity="0.85"/>
<line x1="305.9" y1="974.8" x2="305.9" y2="969.3" stroke="#e01010" stroke-width="0.8" opacity="0.85"/>
<path d="M304.8,969.8 L305.9,967.8 L307.0,969.8 Z" fill="#e01010" opacity="0.85"/>
<line x1="307.8" y1="974.8" x2="307.8" y2="969.3" stroke="#e01010" stroke-width="0.8" opacity="0.85"/>
<path d="M306.7,969.8 L307.8,967.8 L308.9,969.8 Z" fill="#e01010" opacity="0.85"/>
<line x1="312.4" y1="974.8" x2="312.4" y2="969.3" stroke="#e01010" stroke-width="0.8" opacity="0.85"/>
<path d="M311.3,969.8 L312.4,967.8 L313.5,969.8 Z" fill="#e01010" opacity="0.85"/>
<line x1="346.9" y1="974.8" x2="346.9" y2="969.3" stroke="#e01010" stroke-width="0.8" opacity="0.85"/>
<path d="M345.8,969.8 L346.9,967.8 L348.0,969.8 Z" fill="#e01010" opacity="0.85"/>
<line x1="351.5" y1="974.8" x2="351.5" y2="969.3" stroke="#e01010" stroke-width="0.8" opacity="0.85"/>
<path d="M350.4,969.8 L351.5,967.8 L352.6,969.8 Z" fill="#e01010" opacity="0.85"/>
<line x1="353.4" y1="974.8" x2="353.4" y2="969.3" stroke="#e01010" stroke-width="0.8" opacity="0.85"/>
<path d="M352.3,969.8 L353.4,967.8 L354.5,969.8 Z" fill="#e01010" opacity="0.85"/>
<line x1="356.2" y1="974.8" x2="356.2" y2="969.3" stroke="#e01010" stroke-width="0.8" opacity="0.85"/>
<path d="M355.1,969.8 L356.2,967.8 L357.3,969.8 Z" fill="#e01010" opacity="0.85"/>
<line x1="366.8" y1="974.8" x2="366.8" y2="969.3" stroke="#e01010" stroke-width="0.8" opacity="0.85"/>
<path d="M365.7,969.8 L366.8,967.8 L367.9,969.8 Z" fill="#e01010" opacity="0.85"/>
<line x1="379.8" y1="974.8" x2="379.8" y2="969.3" stroke="#e01010" stroke-width="0.8" opacity="0.85"/>
<path d="M378.7,969.8 L379.8,967.8 L380.9,969.8 Z" fill="#e01010" opacity="0.85"/>
<line x1="382.6" y1="974.8" x2="382.6" y2="969.3" stroke="#e01010" stroke-width="0.8" opacity="0.85"/>
<path d="M381.5,969.8 L382.6,967.8 L383.7,969.8 Z" fill="#e01010" opacity="0.85"/>
<line x1="389.4" y1="974.8" x2="389.4" y2="969.3" stroke="#e01010" stroke-width="0.8" opacity="0.85"/>
<path d="M388.3,969.8 L389.4,967.8 L390.5,969.8 Z" fill="#e01010" opacity="0.85"/>
<line x1="394.0" y1="974.8" x2="394.0" y2="969.3" stroke="#e01010" stroke-width="0.8" opacity="0.85"/>
<path d="M392.9,969.8 L394.0,967.8 L395.1,969.8 Z" fill="#e01010" opacity="0.85"/>
<line x1="397.6" y1="974.8" x2="397.6" y2="969.3" stroke="#e01010" stroke-width="0.8" opacity="0.85"/>
<path d="M396.5,969.8 L397.6,967.8 L398.7,969.8 Z" fill="#e01010" opacity="0.85"/>
<line x1="399.3" y1="974.8" x2="399.3" y2="969.3" stroke="#e01010" stroke-width="0.8" opacity="0.85"/>
<path d="M398.2,969.8 L399.3,967.8 L400.4,969.8 Z" fill="#e01010" opacity="0.85"/>
<line x1="412.2" y1="974.8" x2="412.2" y2="969.3" stroke="#e01010" stroke-width="0.8" opacity="0.85"/>
<path d="M411.1,969.8 L412.2,967.8 L413.3,969.8 Z" fill="#e01010" opacity="0.85"/>
<line x1="415.1" y1="974.8" x2="415.1" y2="969.3" stroke="#e01010" stroke-width="0.8" opacity="0.85"/>
<path d="M414.0,969.8 L415.1,967.8 L416.2,969.8 Z" fill="#e01010" opacity="0.85"/>
<line x1="244.2" y1="1010.4" x2="244.2" y2="1004.9" stroke="#e01010" stroke-width="0.8" opacity="0.85"/>
<path d="M243.1,1005.4 L244.2,1003.4 L245.3,1005.4 Z" fill="#e01010" opacity="0.85"/>
<line x1="247.1" y1="1010.4" x2="247.1" y2="1004.9" stroke="#e01010" stroke-width="0.8" opacity="0.85"/>
<path d="M246.0,1005.4 L247.1,1003.4 L248.2,1005.4 Z" fill="#e01010" opacity="0.85"/>
<line x1="260.0" y1="1010.4" x2="260.0" y2="1004.9" stroke="#e01010" stroke-width="0.8" opacity="0.85"/>
<path d="M258.9,1005.4 L260.0,1003.4 L261.1,1005.4 Z" fill="#e01010" opacity="0.85"/>
<line x1="261.7" y1="1010.4" x2="261.7" y2="1004.9" stroke="#e01010" stroke-width="0.8" opacity="0.85"/>
<path d="M260.6,1005.4 L261.7,1003.4 L262.8,1005.4 Z" fill="#e01010" opacity="0.85"/>
<line x1="265.3" y1="1010.4" x2="265.3" y2="1004.9" stroke="#e01010" stroke-width="0.8" opacity="0.85"/>
<path d="M264.2,1005.4 L265.3,1003.4 L266.4,1005.4 Z" fill="#e01010" opacity="0.85"/>
<line x1="269.9" y1="1010.4" x2="269.9" y2="1004.9" stroke="#e01010" stroke-width="0.8" opacity="0.85"/>
<path d="M268.8,1005.4 L269.9,1003.4 L271.0,1005.4 Z" fill="#e01010" opacity="0.85"/>
<line x1="276.7" y1="1010.4" x2="276.7" y2="1004.9" stroke="#e01010" stroke-width="0.8" opacity="0.85"/>
<path d="M275.6,1005.4 L276.7,1003.4 L277.8,1005.4 Z" fill="#e01010" opacity="0.85"/>
<line x1="279.5" y1="1010.4" x2="279.5" y2="1004.9" stroke="#e01010" stroke-width="0.8" opacity="0.85"/>
<path d="M278.4,1005.4 L279.5,1003.4 L280.6,1005.4 Z" fill="#e01010" opacity="0.85"/>
<line x1="292.5" y1="1010.4" x2="292.5" y2="1004.9" stroke="#e01010" stroke-width="0.8" opacity="0.85"/>
<path d="M291.4,1005.4 L292.5,1003.4 L293.6,1005.4 Z" fill="#e01010" opacity="0.85"/>
<line x1="303.1" y1="1010.4" x2="303.1" y2="1004.9" stroke="#e01010" stroke-width="0.8" opacity="0.85"/>
<path d="M302.0,1005.4 L303.1,1003.4 L304.2,1005.4 Z" fill="#e01010" opacity="0.85"/>
<line x1="305.9" y1="1010.4" x2="305.9" y2="1004.9" stroke="#e01010" stroke-width="0.8" opacity="0.85"/>
<path d="M304.8,1005.4 L305.9,1003.4 L307.0,1005.4 Z" fill="#e01010" opacity="0.85"/>
<line x1="307.8" y1="1010.4" x2="307.8" y2="1004.9" stroke="#e01010" stroke-width="0.8" opacity="0.85"/>
<path d="M306.7,1005.4 L307.8,1003.4 L308.9,1005.4 Z" fill="#e01010" opacity="0.85"/>
<line x1="312.4" y1="1010.4" x2="312.4" y2="1004.9" stroke="#e01010" stroke-width="0.8" opacity="0.85"/>
<path d="M311.3,1005.4 L312.4,1003.4 L313.5,1005.4 Z" fill="#e01010" opacity="0.85"/>
<line x1="346.9" y1="1010.4" x2="346.9" y2="1004.9" stroke="#e01010" stroke-width="0.8" opacity="0.85"/>
<path d="M345.8,1005.4 L346.9,1003.4 L348.0,1005.4 Z" fill="#e01010" opacity="0.85"/>
<line x1="351.5" y1="1010.4" x2="351.5" y2="1004.9" stroke="#e01010" stroke-width="0.8" opacity="0.85"/>
<path d="M350.4,1005.4 L351.5,1003.4 L352.6,1005.4 Z" fill="#e01010" opacity="0.85"/>
<line x1="353.4" y1="1010.4" x2="353.4" y2="1004.9" stroke="#e01010" stroke-width="0.8" opacity="0.85"/>
<path d="M352.3,1005.4 L353.4,1003.4 L354.5,1005.4 Z" fill="#e01010" opacity="0.85"/>
<line x1="356.2" y1="1010.4" x2="356.2" y2="1004.9" stroke="#e01010" stroke-width="0.8" opacity="0.85"/>
<path d="M355.1,1005.4 L356.2,1003.4 L357.3,1005.4 Z" fill="#e01010" opacity="0.85"/>
<line x1="366.8" y1="1010.4" x2="366.8" y2="1004.9" stroke="#e01010" stroke-width="0.8" opacity="0.85"/>
<path d="M365.7,1005.4 L366.8,1003.4 L367.9,1005.4 Z" fill="#e01010" opacity="0.85"/>
<line x1="379.8" y1="1010.4" x2="379.8" y2="1004.9" stroke="#e01010" stroke-width="0.8" opacity="0.85"/>
<path d="M378.7,1005.4 L379.8,1003.4 L380.9,1005.4 Z" fill="#e01010" opacity="0.85"/>
<line x1="382.6" y1="1010.4" x2="382.6" y2="1004.9" stroke="#e01010" stroke-width="0.8" opacity="0.85"/>
<path d="M381.5,1005.4 L382.6,1003.4 L383.7,1005.4 Z" fill="#e01010" opacity="0.85"/>
<line x1="389.4" y1="1010.4" x2="389.4" y2="1004.9" stroke="#e01010" stroke-width="0.8" opacity="0.85"/>
<path d="M388.3,1005.4 L389.4,1003.4 L390.5,1005.4 Z" fill="#e01010" opacity="0.85"/>
<line x1="394.0" y1="1010.4" x2="394.0" y2="1004.9" stroke="#e01010" stroke-width="0.8" opacity="0.85"/>
<path d="M392.9,1005.4 L394.0,1003.4 L395.1,1005.4 Z" fill="#e01010" opacity="0.85"/>
<line x1="397.6" y1="1010.4" x2="397.6" y2="1004.9" stroke="#e01010" stroke-width="0.8" opacity="0.85"/>
<path d="M396.5,1005.4 L397.6,1003.4 L398.7,1005.4 Z" fill="#e01010" opacity="0.85"/>
<line x1="399.3" y1="1010.4" x2="399.3" y2="1004.9" stroke="#e01010" stroke-width="0.8" opacity="0.85"/>
<path d="M398.2,1005.4 L399.3,1003.4 L400.4,1005.4 Z" fill="#e01010" opacity="0.85"/>
<line x1="412.2" y1="1010.4" x2="412.2" y2="1004.9" stroke="#e01010" stroke-width="0.8" opacity="0.85"/>
<path d="M411.1,1005.4 L412.2,1003.4 L413.3,1005.4 Z" fill="#e01010" opacity="0.85"/>
<line x1="415.1" y1="1010.4" x2="415.1" y2="1004.9" stroke="#e01010" stroke-width="0.8" opacity="0.85"/>
<path d="M414.0,1005.4 L415.1,1003.4 L416.2,1005.4 Z" fill="#e01010" opacity="0.85"/>
<line x1="244.2" y1="1042.7" x2="244.2" y2="1038.2" stroke="#e01010" stroke-width="0.7" opacity="0.6"/>
<path d="M243.1,1038.7 L244.2,1036.7 L245.3,1038.7 Z" fill="#e01010" opacity="0.6"/>
<line x1="247.1" y1="1042.7" x2="247.1" y2="1038.2" stroke="#e01010" stroke-width="0.7" opacity="0.6"/>
<path d="M246.0,1038.7 L247.1,1036.7 L248.2,1038.7 Z" fill="#e01010" opacity="0.6"/>
<line x1="260.0" y1="1042.7" x2="260.0" y2="1038.2" stroke="#e01010" stroke-width="0.7" opacity="0.6"/>
<path d="M258.9,1038.7 L260.0,1036.7 L261.1,1038.7 Z" fill="#e01010" opacity="0.6"/>
<line x1="261.7" y1="1042.7" x2="261.7" y2="1038.2" stroke="#e01010" stroke-width="0.7" opacity="0.6"/>
<path d="M260.6,1038.7 L261.7,1036.7 L262.8,1038.7 Z" fill="#e01010" opacity="0.6"/>
<line x1="265.3" y1="1042.7" x2="265.3" y2="1038.2" stroke="#e01010" stroke-width="0.7" opacity="0.6"/>
<path d="M264.2,1038.7 L265.3,1036.7 L266.4,1038.7 Z" fill="#e01010" opacity="0.6"/>
<line x1="269.9" y1="1042.7" x2="269.9" y2="1038.2" stroke="#e01010" stroke-width="0.7" opacity="0.6"/>
<path d="M268.8,1038.7 L269.9,1036.7 L271.0,1038.7 Z" fill="#e01010" opacity="0.6"/>
<line x1="276.7" y1="1042.7" x2="276.7" y2="1038.2" stroke="#e01010" stroke-width="0.7" opacity="0.6"/>
<path d="M275.6,1038.7 L276.7,1036.7 L277.8,1038.7 Z" fill="#e01010" opacity="0.6"/>
<line x1="279.5" y1="1042.7" x2="279.5" y2="1038.2" stroke="#e01010" stroke-width="0.7" opacity="0.6"/>
<path d="M278.4,1038.7 L279.5,1036.7 L280.6,1038.7 Z" fill="#e01010" opacity="0.6"/>
<line x1="292.5" y1="1042.7" x2="292.5" y2="1038.2" stroke="#e01010" stroke-width="0.7" opacity="0.6"/>
<path d="M291.4,1038.7 L292.5,1036.7 L293.6,1038.7 Z" fill="#e01010" opacity="0.6"/>
<line x1="303.1" y1="1042.7" x2="303.1" y2="1038.2" stroke="#e01010" stroke-width="0.7" opacity="0.6"/>
<path d="M302.0,1038.7 L303.1,1036.7 L304.2,1038.7 Z" fill="#e01010" opacity="0.6"/>
<line x1="305.9" y1="1042.7" x2="305.9" y2="1038.2" stroke="#e01010" stroke-width="0.7" opacity="0.6"/>
<path d="M304.8,1038.7 L305.9,1036.7 L307.0,1038.7 Z" fill="#e01010" opacity="0.6"/>
<line x1="307.8" y1="1042.7" x2="307.8" y2="1038.2" stroke="#e01010" stroke-width="0.7" opacity="0.6"/>
<path d="M306.7,1038.7 L307.8,1036.7 L308.9,1038.7 Z" fill="#e01010" opacity="0.6"/>
<line x1="312.4" y1="1042.7" x2="312.4" y2="1038.2" stroke="#e01010" stroke-width="0.7" opacity="0.6"/>
<path d="M311.3,1038.7 L312.4,1036.7 L313.5,1038.7 Z" fill="#e01010" opacity="0.6"/>
<line x1="346.9" y1="1042.7" x2="346.9" y2="1038.2" stroke="#e01010" stroke-width="0.7" opacity="0.6"/>
<path d="M345.8,1038.7 L346.9,1036.7 L348.0,1038.7 Z" fill="#e01010" opacity="0.6"/>
<line x1="351.5" y1="1042.7" x2="351.5" y2="1038.2" stroke="#e01010" stroke-width="0.7" opacity="0.6"/>
<path d="M350.4,1038.7 L351.5,1036.7 L352.6,1038.7 Z" fill="#e01010" opacity="0.6"/>
<line x1="353.4" y1="1042.7" x2="353.4" y2="1038.2" stroke="#e01010" stroke-width="0.7" opacity="0.6"/>
<path d="M352.3,1038.7 L353.4,1036.7 L354.5,1038.7 Z" fill="#e01010" opacity="0.6"/>
<line x1="356.2" y1="1042.7" x2="356.2" y2="1038.2" stroke="#e01010" stroke-width="0.7" opacity="0.6"/>
<path d="M355.1,1038.7 L356.2,1036.7 L357.3,1038.7 Z" fill="#e01010" opacity="0.6"/>
<line x1="366.8" y1="1042.7" x2="366.8" y2="1038.2" stroke="#e01010" stroke-width="0.7" opacity="0.6"/>
<path d="M365.7,1038.7 L366.8,1036.7 L367.9,1038.7 Z" fill="#e01010" opacity="0.6"/>
<line x1="379.8" y1="1042.7" x2="379.8" y2="1038.2" stroke="#e01010" stroke-width="0.7" opacity="0.6"/>
<path d="M378.7,1038.7 L379.8,1036.7 L380.9,1038.7 Z" fill="#e01010" opacity="0.6"/>
<line x1="382.6" y1="1042.7" x2="382.6" y2="1038.2" stroke="#e01010" stroke-width="0.7" opacity="0.6"/>
<path d="M381.5,1038.7 L382.6,1036.7 L383.7,1038.7 Z" fill="#e01010" opacity="0.6"/>
<line x1="389.4" y1="1042.7" x2="389.4" y2="1038.2" stroke="#e01010" stroke-width="0.7" opacity="0.6"/>
<path d="M388.3,1038.7 L389.4,1036.7 L390.5,1038.7 Z" fill="#e01010" opacity="0.6"/>
<line x1="394.0" y1="1042.7" x2="394.0" y2="1038.2" stroke="#e01010" stroke-width="0.7" opacity="0.6"/>
<path d="M392.9,1038.7 L394.0,1036.7 L395.1,1038.7 Z" fill="#e01010" opacity="0.6"/>
<line x1="397.6" y1="1042.7" x2="397.6" y2="1038.2" stroke="#e01010" stroke-width="0.7" opacity="0.6"/>
<path d="M396.5,1038.7 L397.6,1036.7 L398.7,1038.7 Z" fill="#e01010" opacity="0.6"/>
<line x1="399.3" y1="1042.7" x2="399.3" y2="1038.2" stroke="#e01010" stroke-width="0.7" opacity="0.6"/>
<path d="M398.2,1038.7 L399.3,1036.7 L400.4,1038.7 Z" fill="#e01010" opacity="0.6"/>
<line x1="412.2" y1="1042.7" x2="412.2" y2="1038.2" stroke="#e01010" stroke-width="0.7" opacity="0.6"/>
<path d="M411.1,1038.7 L412.2,1036.7 L413.3,1038.7 Z" fill="#e01010" opacity="0.6"/>
<line x1="415.1" y1="1042.7" x2="415.1" y2="1038.2" stroke="#e01010" stroke-width="0.7" opacity="0.6"/>
<path d="M414.0,1038.7 L415.1,1036.7 L416.2,1038.7 Z" fill="#e01010" opacity="0.6"/>
<line x1="512.8" y1="978.5" x2="512.8" y2="985.4" stroke="#111" stroke-width="1.1"/>
<line x1="597.1" y1="978.5" x2="597.1" y2="985.4" stroke="#111" stroke-width="1.1"/>
<line x1="495.7" y1="978.5" x2="495.7" y2="985.0" stroke="#111" stroke-width="1.1"/>
<line x1="614.2" y1="978.5" x2="614.2" y2="985.0" stroke="#111" stroke-width="1.1"/>
<line x1="479.1" y1="978.5" x2="479.1" y2="984.4" stroke="#111" stroke-width="1.1"/>
<line x1="630.8" y1="978.5" x2="630.8" y2="984.4" stroke="#111" stroke-width="1.1"/>
<line x1="462.4" y1="978.5" x2="462.4" y2="982.7" stroke="#111" stroke-width="1.1"/>
<line x1="647.5" y1="978.5" x2="647.5" y2="982.7" stroke="#111" stroke-width="1.1"/>
<line x1="512.8" y1="1006.9" x2="512.8" y2="1021.0" stroke="#111" stroke-width="1.1"/>
<line x1="597.1" y1="1006.9" x2="597.1" y2="1021.0" stroke="#111" stroke-width="1.1"/>
<line x1="495.7" y1="1006.9" x2="495.7" y2="1020.6" stroke="#111" stroke-width="1.1"/>
<line x1="614.2" y1="1006.9" x2="614.2" y2="1020.6" stroke="#111" stroke-width="1.1"/>
<line x1="479.1" y1="1006.9" x2="479.1" y2="1020.0" stroke="#111" stroke-width="1.1"/>
<line x1="630.8" y1="1006.9" x2="630.8" y2="1020.0" stroke="#111" stroke-width="1.1"/>
<line x1="462.4" y1="1006.9" x2="462.4" y2="1018.3" stroke="#111" stroke-width="1.1"/>
<line x1="647.5" y1="1006.9" x2="647.5" y2="1018.3" stroke="#111" stroke-width="1.1"/>
<line x1="512.8" y1="1042.8" x2="512.8" y2="1056.7" stroke="#111" stroke-width="1.1"/>
<line x1="597.1" y1="1042.8" x2="597.1" y2="1056.7" stroke="#111" stroke-width="1.1"/>
<line x1="495.7" y1="1042.8" x2="495.7" y2="1056.3" stroke="#111" stroke-width="1.1"/>
<line x1="614.2" y1="1042.8" x2="614.2" y2="1056.3" stroke="#111" stroke-width="1.1"/>
<line x1="479.1" y1="1042.8" x2="479.1" y2="1055.7" stroke="#111" stroke-width="1.1"/>
<line x1="630.8" y1="1042.8" x2="630.8" y2="1055.7" stroke="#111" stroke-width="1.1"/>
<line x1="462.4" y1="1042.8" x2="462.4" y2="1054.0" stroke="#111" stroke-width="1.1"/>
<line x1="647.5" y1="1042.8" x2="647.5" y2="1054.0" stroke="#111" stroke-width="1.1"/>
<path d="M462.4,1054.0 A92.5,3.0 0 0 0 647.5,1054.0" fill="none" stroke="#111" stroke-width="1.1"/>
<path d="M462.4,1054.0 A92.5,3.0 0 0 1 647.5,1054.0" fill="none" stroke="#111" stroke-width="0.6"/>
<line x1="512.8" y1="1084.1" x2="512.8" y2="1095.2" stroke="#111" stroke-width="1.1"/>
<line x1="597.1" y1="1084.1" x2="597.1" y2="1095.2" stroke="#111" stroke-width="1.1"/>
<line x1="495.7" y1="1084.1" x2="495.7" y2="1094.8" stroke="#111" stroke-width="1.1"/>
<line x1="614.2" y1="1084.1" x2="614.2" y2="1094.8" stroke="#111" stroke-width="1.1"/>
<line x1="479.1" y1="1084.1" x2="479.1" y2="1094.2" stroke="#111" stroke-width="1.1"/>
<line x1="630.8" y1="1084.1" x2="630.8" y2="1094.2" stroke="#111" stroke-width="1.1"/>
<line x1="462.4" y1="1084.1" x2="462.4" y2="1092.5" stroke="#111" stroke-width="1.1"/>
<line x1="647.5" y1="1084.1" x2="647.5" y2="1092.5" stroke="#111" stroke-width="1.1"/>
<path d="M462.4,1092.5 A92.5,3.0 0 0 0 647.5,1092.5" fill="none" stroke="#111" stroke-width="1.1"/>
<path d="M462.4,1092.5 A92.5,3.0 0 0 1 647.5,1092.5" fill="none" stroke="#111" stroke-width="0.6"/>
<path d="M511.4,1005.9 L598.5,1005.9 A45.2,45.2 0 0 1 593.3,1017.6 A38.3,0.8 0 0 1 516.6,1017.6 A45.2,45.2 0 0 1 511.4,1005.9 Z" fill="url(#v83)"/>
<path d="M511.4,1041.8 L598.5,1041.8 A53.4,53.4 0 0 1 587.1,1053.5 A32.1,0.8 0 0 1 522.8,1053.5 A53.4,53.4 0 0 1 511.4,1041.8 Z" fill="url(#v84)"/>
<rect x="529.0" y="1052.5" width="51.8" height="2.5" fill="#0818a0" />
<rect x="538.9" y="1054.5" width="32.1" height="4.9" fill="#0a1cb8" />
<path d="M515.6,1083.1 L594.3,1083.1 A55.8,55.8 0 0 1 580.9,1093.0 A25.9,1.0 0 0 1 529.0,1093.0 A55.8,55.8 0 0 1 515.6,1083.1 Z" fill="url(#v85)"/>
<rect x="539.4" y="1092.5" width="31.1" height="10.5" fill="#0a1cb0" />
<rect x="529.6" y="1100.0" width="50.8" height="2.5" fill="#0a1890" />
<ellipse cx="555.0" cy="1129.6" rx="16.1" ry="3" fill="#0a1478"/>
<path d="M462.4,953.3 A92.5,3.5 0 0 1 647.5,953.3 L647.5,978.5 A92.5,1.2 0 0 1 462.4,978.5 Z" fill="url(#h86)"/>
<path d="M462.4,953.3 A92.5,3.5 0 0 0 647.5,953.3" fill="none" stroke="#550000" stroke-width="0.6" opacity="0.8"/>
<path d="M462.4,982.7 A92.5,0.6 0 0 1 647.5,982.7 L647.5,1006.9 A92.5,1.2 0 0 1 462.4,1006.9 Z" fill="url(#h87)"/>
<path d="M462.4,982.7 A92.5,0.6 0 0 0 647.5,982.7" fill="none" stroke="#924900" stroke-width="0.6" opacity="0.8"/>
<path d="M462.4,992.5 A92.5,1.0 0 0 0 647.5,992.5" fill="none" stroke="#000" stroke-width="0.8" opacity="0.6"/>
<path d="M462.4,1018.3 A92.5,0.6 0 0 1 647.5,1018.3 L647.5,1042.8 A92.5,1.2 0 0 1 462.4,1042.8 Z" fill="url(#h88)"/>
<path d="M462.4,1018.3 A92.5,0.6 0 0 0 647.5,1018.3" fill="none" stroke="#6c903e" stroke-width="0.6" opacity="0.8"/>
<path d="M462.4,1030.2 A92.5,1.0 0 0 0 647.5,1030.2" fill="none" stroke="#000" stroke-width="0.8" opacity="0.6"/>
<path d="M462.4,1058.9 A92.5,0.6 0 0 1 647.5,1058.9 L647.5,1084.1 A92.5,1.2 0 0 1 462.4,1084.1 Z" fill="url(#h89)"/>
<path d="M462.4,1058.9 A92.5,0.6 0 0 0 647.5,1058.9" fill="none" stroke="#0c6590" stroke-width="0.6" opacity="0.8"/>
<path d="M462.4,1067.3 A92.5,1.0 0 0 0 647.5,1067.3" fill="none" stroke="#000" stroke-width="0.8" opacity="0.6"/>
<path d="M462.4,1102.0 A92.5,2.0 0 0 1 647.5,1102.0 L647.5,1128.1 A92.5,2.6 0 0 1 462.4,1128.1 Z" fill="url(#h90)"/>
<ellipse cx="555.0" cy="1102.0" rx="92.5" ry="3.5" fill="url(#h91)"/>
<path d="M462.4,1102.0 A92.5,3.5 0 0 0 647.5,1102.0" fill="none" stroke="#000" stroke-width="0.8" opacity="0.7"/>
<line x1="555.0" y1="975.5" x2="555.0" y2="1132.1" stroke="#000" stroke-width="0.8" opacity="0.85"/>
<line x1="464.3" y1="981.2" x2="464.3" y2="975.7" stroke="#e01010" stroke-width="0.8" opacity="0.85"/>
<path d="M463.2,976.2 L464.3,974.2 L465.4,976.2 Z" fill="#e01010" opacity="0.85"/>
<line x1="467.4" y1="981.2" x2="467.4" y2="975.7" stroke="#e01010" stroke-width="0.8" opacity="0.85"/>
<path d="M466.3,976.2 L467.4,974.2 L468.5,976.2 Z" fill="#e01010" opacity="0.85"/>
<line x1="481.1" y1="981.2" x2="481.1" y2="975.7" stroke="#e01010" stroke-width="0.8" opacity="0.85"/>
<path d="M480.0,976.2 L481.1,974.2 L482.2,976.2 Z" fill="#e01010" opacity="0.85"/>
<line x1="482.9" y1="981.2" x2="482.9" y2="975.7" stroke="#e01010" stroke-width="0.8" opacity="0.85"/>
<path d="M481.8,976.2 L482.9,974.2 L484.0,976.2 Z" fill="#e01010" opacity="0.85"/>
<line x1="486.7" y1="981.2" x2="486.7" y2="975.7" stroke="#e01010" stroke-width="0.8" opacity="0.85"/>
<path d="M485.6,976.2 L486.7,974.2 L487.8,976.2 Z" fill="#e01010" opacity="0.85"/>
<line x1="491.5" y1="981.2" x2="491.5" y2="975.7" stroke="#e01010" stroke-width="0.8" opacity="0.85"/>
<path d="M490.4,976.2 L491.5,974.2 L492.6,976.2 Z" fill="#e01010" opacity="0.85"/>
<line x1="498.8" y1="981.2" x2="498.8" y2="975.7" stroke="#e01010" stroke-width="0.8" opacity="0.85"/>
<path d="M497.7,976.2 L498.8,974.2 L499.9,976.2 Z" fill="#e01010" opacity="0.85"/>
<line x1="501.8" y1="981.2" x2="501.8" y2="975.7" stroke="#e01010" stroke-width="0.8" opacity="0.85"/>
<path d="M500.7,976.2 L501.8,974.2 L502.9,976.2 Z" fill="#e01010" opacity="0.85"/>
<line x1="515.6" y1="981.2" x2="515.6" y2="975.7" stroke="#e01010" stroke-width="0.8" opacity="0.85"/>
<path d="M514.5,976.2 L515.6,974.2 L516.7,976.2 Z" fill="#e01010" opacity="0.85"/>
<line x1="526.8" y1="981.2" x2="526.8" y2="975.7" stroke="#e01010" stroke-width="0.8" opacity="0.85"/>
<path d="M525.7,976.2 L526.8,974.2 L527.9,976.2 Z" fill="#e01010" opacity="0.85"/>
<line x1="529.8" y1="981.2" x2="529.8" y2="975.7" stroke="#e01010" stroke-width="0.8" opacity="0.85"/>
<path d="M528.7,976.2 L529.8,974.2 L530.9,976.2 Z" fill="#e01010" opacity="0.85"/>
<line x1="531.7" y1="981.2" x2="531.7" y2="975.7" stroke="#e01010" stroke-width="0.8" opacity="0.85"/>
<path d="M530.6,976.2 L531.7,974.2 L532.8,976.2 Z" fill="#e01010" opacity="0.85"/>
<line x1="536.6" y1="981.2" x2="536.6" y2="975.7" stroke="#e01010" stroke-width="0.8" opacity="0.85"/>
<path d="M535.5,976.2 L536.6,974.2 L537.7,976.2 Z" fill="#e01010" opacity="0.85"/>
<line x1="573.3" y1="981.2" x2="573.3" y2="975.7" stroke="#e01010" stroke-width="0.8" opacity="0.85"/>
<path d="M572.2,976.2 L573.3,974.2 L574.4,976.2 Z" fill="#e01010" opacity="0.85"/>
<line x1="578.2" y1="981.2" x2="578.2" y2="975.7" stroke="#e01010" stroke-width="0.8" opacity="0.85"/>
<path d="M577.1,976.2 L578.2,974.2 L579.3,976.2 Z" fill="#e01010" opacity="0.85"/>
<line x1="580.1" y1="981.2" x2="580.1" y2="975.7" stroke="#e01010" stroke-width="0.8" opacity="0.85"/>
<path d="M579.0,976.2 L580.1,974.2 L581.2,976.2 Z" fill="#e01010" opacity="0.85"/>
<line x1="583.1" y1="981.2" x2="583.1" y2="975.7" stroke="#e01010" stroke-width="0.8" opacity="0.85"/>
<path d="M582.0,976.2 L583.1,974.2 L584.2,976.2 Z" fill="#e01010" opacity="0.85"/>
<line x1="594.3" y1="981.2" x2="594.3" y2="975.7" stroke="#e01010" stroke-width="0.8" opacity="0.85"/>
<path d="M593.2,976.2 L594.3,974.2 L595.4,976.2 Z" fill="#e01010" opacity="0.85"/>
<line x1="608.1" y1="981.2" x2="608.1" y2="975.7" stroke="#e01010" stroke-width="0.8" opacity="0.85"/>
<path d="M607.0,976.2 L608.1,974.2 L609.2,976.2 Z" fill="#e01010" opacity="0.85"/>
<line x1="611.1" y1="981.2" x2="611.1" y2="975.7" stroke="#e01010" stroke-width="0.8" opacity="0.85"/>
<path d="M610.0,976.2 L611.1,974.2 L612.2,976.2 Z" fill="#e01010" opacity="0.85"/>
<line x1="618.4" y1="981.2" x2="618.4" y2="975.7" stroke="#e01010" stroke-width="0.8" opacity="0.85"/>
<path d="M617.3,976.2 L618.4,974.2 L619.5,976.2 Z" fill="#e01010" opacity="0.85"/>
<line x1="623.2" y1="981.2" x2="623.2" y2="975.7" stroke="#e01010" stroke-width="0.8" opacity="0.85"/>
<path d="M622.1,976.2 L623.2,974.2 L624.3,976.2 Z" fill="#e01010" opacity="0.85"/>
<line x1="627.0" y1="981.2" x2="627.0" y2="975.7" stroke="#e01010" stroke-width="0.8" opacity="0.85"/>
<path d="M625.9,976.2 L627.0,974.2 L628.1,976.2 Z" fill="#e01010" opacity="0.85"/>
<line x1="628.8" y1="981.2" x2="628.8" y2="975.7" stroke="#e01010" stroke-width="0.8" opacity="0.85"/>
<path d="M627.7,976.2 L628.8,974.2 L629.9,976.2 Z" fill="#e01010" opacity="0.85"/>
<line x1="642.5" y1="981.2" x2="642.5" y2="975.7" stroke="#e01010" stroke-width="0.8" opacity="0.85"/>
<path d="M641.4,976.2 L642.5,974.2 L643.6,976.2 Z" fill="#e01010" opacity="0.85"/>
<line x1="645.6" y1="981.2" x2="645.6" y2="975.7" stroke="#e01010" stroke-width="0.8" opacity="0.85"/>
<path d="M644.5,976.2 L645.6,974.2 L646.7,976.2 Z" fill="#e01010" opacity="0.85"/>
<line x1="464.3" y1="1016.8" x2="464.3" y2="1011.3" stroke="#e01010" stroke-width="0.8" opacity="0.85"/>
<path d="M463.2,1011.8 L464.3,1009.8 L465.4,1011.8 Z" fill="#e01010" opacity="0.85"/>
<line x1="467.4" y1="1016.8" x2="467.4" y2="1011.3" stroke="#e01010" stroke-width="0.8" opacity="0.85"/>
<path d="M466.3,1011.8 L467.4,1009.8 L468.5,1011.8 Z" fill="#e01010" opacity="0.85"/>
<line x1="481.1" y1="1016.8" x2="481.1" y2="1011.3" stroke="#e01010" stroke-width="0.8" opacity="0.85"/>
<path d="M480.0,1011.8 L481.1,1009.8 L482.2,1011.8 Z" fill="#e01010" opacity="0.85"/>
<line x1="482.9" y1="1016.8" x2="482.9" y2="1011.3" stroke="#e01010" stroke-width="0.8" opacity="0.85"/>
<path d="M481.8,1011.8 L482.9,1009.8 L484.0,1011.8 Z" fill="#e01010" opacity="0.85"/>
<line x1="486.7" y1="1016.8" x2="486.7" y2="1011.3" stroke="#e01010" stroke-width="0.8" opacity="0.85"/>
<path d="M485.6,1011.8 L486.7,1009.8 L487.8,1011.8 Z" fill="#e01010" opacity="0.85"/>
<line x1="491.5" y1="1016.8" x2="491.5" y2="1011.3" stroke="#e01010" stroke-width="0.8" opacity="0.85"/>
<path d="M490.4,1011.8 L491.5,1009.8 L492.6,1011.8 Z" fill="#e01010" opacity="0.85"/>
<line x1="498.8" y1="1016.8" x2="498.8" y2="1011.3" stroke="#e01010" stroke-width="0.8" opacity="0.85"/>
<path d="M497.7,1011.8 L498.8,1009.8 L499.9,1011.8 Z" fill="#e01010" opacity="0.85"/>
<line x1="501.8" y1="1016.8" x2="501.8" y2="1011.3" stroke="#e01010" stroke-width="0.8" opacity="0.85"/>
<path d="M500.7,1011.8 L501.8,1009.8 L502.9,1011.8 Z" fill="#e01010" opacity="0.85"/>
<line x1="515.6" y1="1016.8" x2="515.6" y2="1011.3" stroke="#e01010" stroke-width="0.8" opacity="0.85"/>
<path d="M514.5,1011.8 L515.6,1009.8 L516.7,1011.8 Z" fill="#e01010" opacity="0.85"/>
<line x1="526.8" y1="1016.8" x2="526.8" y2="1011.3" stroke="#e01010" stroke-width="0.8" opacity="0.85"/>
<path d="M525.7,1011.8 L526.8,1009.8 L527.9,1011.8 Z" fill="#e01010" opacity="0.85"/>
<line x1="529.8" y1="1016.8" x2="529.8" y2="1011.3" stroke="#e01010" stroke-width="0.8" opacity="0.85"/>
<path d="M528.7,1011.8 L529.8,1009.8 L530.9,1011.8 Z" fill="#e01010" opacity="0.85"/>
<line x1="531.7" y1="1016.8" x2="531.7" y2="1011.3" stroke="#e01010" stroke-width="0.8" opacity="0.85"/>
<path d="M530.6,1011.8 L531.7,1009.8 L532.8,1011.8 Z" fill="#e01010" opacity="0.85"/>
<line x1="536.6" y1="1016.8" x2="536.6" y2="1011.3" stroke="#e01010" stroke-width="0.8" opacity="0.85"/>
<path d="M535.5,1011.8 L536.6,1009.8 L537.7,1011.8 Z" fill="#e01010" opacity="0.85"/>
<line x1="573.3" y1="1016.8" x2="573.3" y2="1011.3" stroke="#e01010" stroke-width="0.8" opacity="0.85"/>
<path d="M572.2,1011.8 L573.3,1009.8 L574.4,1011.8 Z" fill="#e01010" opacity="0.85"/>
<line x1="578.2" y1="1016.8" x2="578.2" y2="1011.3" stroke="#e01010" stroke-width="0.8" opacity="0.85"/>
<path d="M577.1,1011.8 L578.2,1009.8 L579.3,1011.8 Z" fill="#e01010" opacity="0.85"/>
<line x1="580.1" y1="1016.8" x2="580.1" y2="1011.3" stroke="#e01010" stroke-width="0.8" opacity="0.85"/>
<path d="M579.0,1011.8 L580.1,1009.8 L581.2,1011.8 Z" fill="#e01010" opacity="0.85"/>
<line x1="583.1" y1="1016.8" x2="583.1" y2="1011.3" stroke="#e01010" stroke-width="0.8" opacity="0.85"/>
<path d="M582.0,1011.8 L583.1,1009.8 L584.2,1011.8 Z" fill="#e01010" opacity="0.85"/>
<line x1="594.3" y1="1016.8" x2="594.3" y2="1011.3" stroke="#e01010" stroke-width="0.8" opacity="0.85"/>
<path d="M593.2,1011.8 L594.3,1009.8 L595.4,1011.8 Z" fill="#e01010" opacity="0.85"/>
<line x1="608.1" y1="1016.8" x2="608.1" y2="1011.3" stroke="#e01010" stroke-width="0.8" opacity="0.85"/>
<path d="M607.0,1011.8 L608.1,1009.8 L609.2,1011.8 Z" fill="#e01010" opacity="0.85"/>
<line x1="611.1" y1="1016.8" x2="611.1" y2="1011.3" stroke="#e01010" stroke-width="0.8" opacity="0.85"/>
<path d="M610.0,1011.8 L611.1,1009.8 L612.2,1011.8 Z" fill="#e01010" opacity="0.85"/>
<line x1="618.4" y1="1016.8" x2="618.4" y2="1011.3" stroke="#e01010" stroke-width="0.8" opacity="0.85"/>
<path d="M617.3,1011.8 L618.4,1009.8 L619.5,1011.8 Z" fill="#e01010" opacity="0.85"/>
<line x1="623.2" y1="1016.8" x2="623.2" y2="1011.3" stroke="#e01010" stroke-width="0.8" opacity="0.85"/>
<path d="M622.1,1011.8 L623.2,1009.8 L624.3,1011.8 Z" fill="#e01010" opacity="0.85"/>
<line x1="627.0" y1="1016.8" x2="627.0" y2="1011.3" stroke="#e01010" stroke-width="0.8" opacity="0.85"/>
<path d="M625.9,1011.8 L627.0,1009.8 L628.1,1011.8 Z" fill="#e01010" opacity="0.85"/>
<line x1="628.8" y1="1016.8" x2="628.8" y2="1011.3" stroke="#e01010" stroke-width="0.8" opacity="0.85"/>
<path d="M627.7,1011.8 L628.8,1009.8 L629.9,1011.8 Z" fill="#e01010" opacity="0.85"/>
<line x1="642.5" y1="1016.8" x2="642.5" y2="1011.3" stroke="#e01010" stroke-width="0.8" opacity="0.85"/>
<path d="M641.4,1011.8 L642.5,1009.8 L643.6,1011.8 Z" fill="#e01010" opacity="0.85"/>
<line x1="645.6" y1="1016.8" x2="645.6" y2="1011.3" stroke="#e01010" stroke-width="0.8" opacity="0.85"/>
<path d="M644.5,1011.8 L645.6,1009.8 L646.7,1011.8 Z" fill="#e01010" opacity="0.85"/>
<line x1="464.3" y1="1049.8" x2="464.3" y2="1045.3" stroke="#e01010" stroke-width="0.7" opacity="0.6"/>
<path d="M463.2,1045.8 L464.3,1043.8 L465.4,1045.8 Z" fill="#e01010" opacity="0.6"/>
<line x1="467.4" y1="1049.8" x2="467.4" y2="1045.3" stroke="#e01010" stroke-width="0.7" opacity="0.6"/>
<path d="M466.3,1045.8 L467.4,1043.8 L468.5,1045.8 Z" fill="#e01010" opacity="0.6"/>
<line x1="481.1" y1="1049.8" x2="481.1" y2="1045.3" stroke="#e01010" stroke-width="0.7" opacity="0.6"/>
<path d="M480.0,1045.8 L481.1,1043.8 L482.2,1045.8 Z" fill="#e01010" opacity="0.6"/>
<line x1="482.9" y1="1049.8" x2="482.9" y2="1045.3" stroke="#e01010" stroke-width="0.7" opacity="0.6"/>
<path d="M481.8,1045.8 L482.9,1043.8 L484.0,1045.8 Z" fill="#e01010" opacity="0.6"/>
<line x1="486.7" y1="1049.8" x2="486.7" y2="1045.3" stroke="#e01010" stroke-width="0.7" opacity="0.6"/>
<path d="M485.6,1045.8 L486.7,1043.8 L487.8,1045.8 Z" fill="#e01010" opacity="0.6"/>
<line x1="491.5" y1="1049.8" x2="491.5" y2="1045.3" stroke="#e01010" stroke-width="0.7" opacity="0.6"/>
<path d="M490.4,1045.8 L491.5,1043.8 L492.6,1045.8 Z" fill="#e01010" opacity="0.6"/>
<line x1="498.8" y1="1049.8" x2="498.8" y2="1045.3" stroke="#e01010" stroke-width="0.7" opacity="0.6"/>
<path d="M497.7,1045.8 L498.8,1043.8 L499.9,1045.8 Z" fill="#e01010" opacity="0.6"/>
<line x1="501.8" y1="1049.8" x2="501.8" y2="1045.3" stroke="#e01010" stroke-width="0.7" opacity="0.6"/>
<path d="M500.7,1045.8 L501.8,1043.8 L502.9,1045.8 Z" fill="#e01010" opacity="0.6"/>
<line x1="515.6" y1="1049.8" x2="515.6" y2="1045.3" stroke="#e01010" stroke-width="0.7" opacity="0.6"/>
<path d="M514.5,1045.8 L515.6,1043.8 L516.7,1045.8 Z" fill="#e01010" opacity="0.6"/>
<line x1="526.8" y1="1049.8" x2="526.8" y2="1045.3" stroke="#e01010" stroke-width="0.7" opacity="0.6"/>
<path d="M525.7,1045.8 L526.8,1043.8 L527.9,1045.8 Z" fill="#e01010" opacity="0.6"/>
<line x1="529.8" y1="1049.8" x2="529.8" y2="1045.3" stroke="#e01010" stroke-width="0.7" opacity="0.6"/>
<path d="M528.7,1045.8 L529.8,1043.8 L530.9,1045.8 Z" fill="#e01010" opacity="0.6"/>
<line x1="531.7" y1="1049.8" x2="531.7" y2="1045.3" stroke="#e01010" stroke-width="0.7" opacity="0.6"/>
<path d="M530.6,1045.8 L531.7,1043.8 L532.8,1045.8 Z" fill="#e01010" opacity="0.6"/>
<line x1="536.6" y1="1049.8" x2="536.6" y2="1045.3" stroke="#e01010" stroke-width="0.7" opacity="0.6"/>
<path d="M535.5,1045.8 L536.6,1043.8 L537.7,1045.8 Z" fill="#e01010" opacity="0.6"/>
<line x1="573.3" y1="1049.8" x2="573.3" y2="1045.3" stroke="#e01010" stroke-width="0.7" opacity="0.6"/>
<path d="M572.2,1045.8 L573.3,1043.8 L574.4,1045.8 Z" fill="#e01010" opacity="0.6"/>
<line x1="578.2" y1="1049.8" x2="578.2" y2="1045.3" stroke="#e01010" stroke-width="0.7" opacity="0.6"/>
<path d="M577.1,1045.8 L578.2,1043.8 L579.3,1045.8 Z" fill="#e01010" opacity="0.6"/>
<line x1="580.1" y1="1049.8" x2="580.1" y2="1045.3" stroke="#e01010" stroke-width="0.7" opacity="0.6"/>
<path d="M579.0,1045.8 L580.1,1043.8 L581.2,1045.8 Z" fill="#e01010" opacity="0.6"/>
<line x1="583.1" y1="1049.8" x2="583.1" y2="1045.3" stroke="#e01010" stroke-width="0.7" opacity="0.6"/>
<path d="M582.0,1045.8 L583.1,1043.8 L584.2,1045.8 Z" fill="#e01010" opacity="0.6"/>
<line x1="594.3" y1="1049.8" x2="594.3" y2="1045.3" stroke="#e01010" stroke-width="0.7" opacity="0.6"/>
<path d="M593.2,1045.8 L594.3,1043.8 L595.4,1045.8 Z" fill="#e01010" opacity="0.6"/>
<line x1="608.1" y1="1049.8" x2="608.1" y2="1045.3" stroke="#e01010" stroke-width="0.7" opacity="0.6"/>
<path d="M607.0,1045.8 L608.1,1043.8 L609.2,1045.8 Z" fill="#e01010" opacity="0.6"/>
<line x1="611.1" y1="1049.8" x2="611.1" y2="1045.3" stroke="#e01010" stroke-width="0.7" opacity="0.6"/>
<path d="M610.0,1045.8 L611.1,1043.8 L612.2,1045.8 Z" fill="#e01010" opacity="0.6"/>
<line x1="618.4" y1="1049.8" x2="618.4" y2="1045.3" stroke="#e01010" stroke-width="0.7" opacity="0.6"/>
<path d="M617.3,1045.8 L618.4,1043.8 L619.5,1045.8 Z" fill="#e01010" opacity="0.6"/>
<line x1="623.2" y1="1049.8" x2="623.2" y2="1045.3" stroke="#e01010" stroke-width="0.7" opacity="0.6"/>
<path d="M622.1,1045.8 L623.2,1043.8 L624.3,1045.8 Z" fill="#e01010" opacity="0.6"/>
<line x1="627.0" y1="1049.8" x2="627.0" y2="1045.3" stroke="#e01010" stroke-width="0.7" opacity="0.6"/>
<path d="M625.9,1045.8 L627.0,1043.8 L628.1,1045.8 Z" fill="#e01010" opacity="0.6"/>
<line x1="628.8" y1="1049.8" x2="628.8" y2="1045.3" stroke="#e01010" stroke-width="0.7" opacity="0.6"/>
<path d="M627.7,1045.8 L628.8,1043.8 L629.9,1045.8 Z" fill="#e01010" opacity="0.6"/>
<line x1="642.5" y1="1049.8" x2="642.5" y2="1045.3" stroke="#e01010" stroke-width="0.7" opacity="0.6"/>
<path d="M641.4,1045.8 L642.5,1043.8 L643.6,1045.8 Z" fill="#e01010" opacity="0.6"/>
<line x1="645.6" y1="1049.8" x2="645.6" y2="1045.3" stroke="#e01010" stroke-width="0.7" opacity="0.6"/>
<path d="M644.5,1045.8 L645.6,1043.8 L646.7,1045.8 Z" fill="#e01010" opacity="0.6"/>
<rect x="200.7" y="49.2" width="10.2" height="142.3" fill="url(#v92)" stroke="#333" stroke-width="0.6"/>
<line x1="200.7" y1="63.8" x2="202.5" y2="63.8" stroke="#111" stroke-width="1"/>
<line x1="209.1" y1="63.8" x2="210.9" y2="63.8" stroke="#111" stroke-width="1"/>
<text transform="translate(215.50,67.80) scale(1.11,1)" x="0" y="0" font-family="Liberation Sans, sans-serif" font-size="11.3" text-anchor="start" fill="#111">3.5</text>
<line x1="200.7" y1="82.0" x2="202.5" y2="82.0" stroke="#111" stroke-width="1"/>
<line x1="209.1" y1="82.0" x2="210.9" y2="82.0" stroke="#111" stroke-width="1"/>
<text transform="translate(215.50,86.01) scale(1.11,1)" x="0" y="0" font-family="Liberation Sans, sans-serif" font-size="11.3" text-anchor="start" fill="#111">3</text>
<line x1="200.7" y1="100.2" x2="202.5" y2="100.2" stroke="#111" stroke-width="1"/>
<line x1="209.1" y1="100.2" x2="210.9" y2="100.2" stroke="#111" stroke-width="1"/>
<text transform="translate(215.50,104.22) scale(1.11,1)" x="0" y="0" font-family="Liberation Sans, sans-serif" font-size="11.3" text-anchor="start" fill="#111">2.5</text>
<line x1="200.7" y1="118.4" x2="202.5" y2="118.4" stroke="#111" stroke-width="1"/>
<line x1="209.1" y1="118.4" x2="210.9" y2="118.4" stroke="#111" stroke-width="1"/>
<text transform="translate(215.50,122.43) scale(1.11,1)" x="0" y="0" font-family="Liberation Sans, sans-serif" font-size="11.3" text-anchor="start" fill="#111">2</text>
<line x1="200.7" y1="136.6" x2="202.5" y2="136.6" stroke="#111" stroke-width="1"/>
<line x1="209.1" y1="136.6" x2="210.9" y2="136.6" stroke="#111" stroke-width="1"/>
<text transform="translate(215.50,140.64) scale(1.11,1)" x="0" y="0" font-family="Liberation Sans, sans-serif" font-size="11.3" text-anchor="start" fill="#111">1.5</text>
<line x1="200.7" y1="154.9" x2="202.5" y2="154.9" stroke="#111" stroke-width="1"/>
<line x1="209.1" y1="154.9" x2="210.9" y2="154.9" stroke="#111" stroke-width="1"/>
<text transform="translate(215.50,158.85) scale(1.11,1)" x="0" y="0" font-family="Liberation Sans, sans-serif" font-size="11.3" text-anchor="start" fill="#111">1</text>
<line x1="200.7" y1="173.1" x2="202.5" y2="173.1" stroke="#111" stroke-width="1"/>
<line x1="209.1" y1="173.1" x2="210.9" y2="173.1" stroke="#111" stroke-width="1"/>
<text transform="translate(215.50,177.06) scale(1.11,1)" x="0" y="0" font-family="Liberation Sans, sans-serif" font-size="11.3" text-anchor="start" fill="#111">0.5</text>
<line x1="200.7" y1="191.3" x2="202.5" y2="191.3" stroke="#111" stroke-width="1"/>
<line x1="209.1" y1="191.3" x2="210.9" y2="191.3" stroke="#111" stroke-width="1"/>
<text transform="translate(215.50,195.27) scale(1.11,1)" x="0" y="0" font-family="Liberation Sans, sans-serif" font-size="11.3" text-anchor="start" fill="#111">0</text>
<text transform="translate(210.60,30.40) scale(1.11,1)" x="0" y="0" font-family="Liberation Sans, sans-serif" font-size="11.3" text-anchor="start" fill="#111">m/s</text>
<rect x="428.0" y="51.8" width="10.2" height="142.2" fill="url(#v93)" stroke="#333" stroke-width="0.6"/>
<line x1="428.0" y1="73.6" x2="429.8" y2="73.6" stroke="#111" stroke-width="1"/>
<line x1="436.4" y1="73.6" x2="438.2" y2="73.6" stroke="#111" stroke-width="1"/>
<text transform="translate(442.80,77.60) scale(1.11,1)" x="0" y="0" font-family="Liberation Sans, sans-serif" font-size="11.3" text-anchor="start" fill="#111">2.5</text>
<line x1="428.0" y1="97.6" x2="429.8" y2="97.6" stroke="#111" stroke-width="1"/>
<line x1="436.4" y1="97.6" x2="438.2" y2="97.6" stroke="#111" stroke-width="1"/>
<text transform="translate(442.80,101.60) scale(1.11,1)" x="0" y="0" font-family="Liberation Sans, sans-serif" font-size="11.3" text-anchor="start" fill="#111">2</text>
<line x1="428.0" y1="121.6" x2="429.8" y2="121.6" stroke="#111" stroke-width="1"/>
<line x1="436.4" y1="121.6" x2="438.2" y2="121.6" stroke="#111" stroke-width="1"/>
<text transform="translate(442.80,125.60) scale(1.11,1)" x="0" y="0" font-family="Liberation Sans, sans-serif" font-size="11.3" text-anchor="start" fill="#111">1.5</text>
<line x1="428.0" y1="145.6" x2="429.8" y2="145.6" stroke="#111" stroke-width="1"/>
<line x1="436.4" y1="145.6" x2="438.2" y2="145.6" stroke="#111" stroke-width="1"/>
<text transform="translate(442.80,149.60) scale(1.11,1)" x="0" y="0" font-family="Liberation Sans, sans-serif" font-size="11.3" text-anchor="start" fill="#111">1</text>
<line x1="428.0" y1="169.6" x2="429.8" y2="169.6" stroke="#111" stroke-width="1"/>
<line x1="436.4" y1="169.6" x2="438.2" y2="169.6" stroke="#111" stroke-width="1"/>
<text transform="translate(442.80,173.60) scale(1.11,1)" x="0" y="0" font-family="Liberation Sans, sans-serif" font-size="11.3" text-anchor="start" fill="#111">0.5</text>
<line x1="428.0" y1="193.6" x2="429.8" y2="193.6" stroke="#111" stroke-width="1"/>
<line x1="436.4" y1="193.6" x2="438.2" y2="193.6" stroke="#111" stroke-width="1"/>
<text transform="translate(442.80,197.60) scale(1.11,1)" x="0" y="0" font-family="Liberation Sans, sans-serif" font-size="11.3" text-anchor="start" fill="#111">0</text>
<text transform="translate(437.00,31.90) scale(1.11,1)" x="0" y="0" font-family="Liberation Sans, sans-serif" font-size="11.3" text-anchor="start" fill="#111">m/s</text>
<rect x="652.4" y="56.0" width="10.2" height="142.5" fill="url(#v94)" stroke="#333" stroke-width="0.6"/>
<line x1="652.4" y1="71.8" x2="654.2" y2="71.8" stroke="#111" stroke-width="1"/>
<line x1="660.8" y1="71.8" x2="662.6" y2="71.8" stroke="#111" stroke-width="1"/>
<text transform="translate(667.20,75.80) scale(1.11,1)" x="0" y="0" font-family="Liberation Sans, sans-serif" font-size="11.3" text-anchor="start" fill="#111">2</text>
<line x1="652.4" y1="103.5" x2="654.2" y2="103.5" stroke="#111" stroke-width="1"/>
<line x1="660.8" y1="103.5" x2="662.6" y2="103.5" stroke="#111" stroke-width="1"/>
<text transform="translate(667.20,107.50) scale(1.11,1)" x="0" y="0" font-family="Liberation Sans, sans-serif" font-size="11.3" text-anchor="start" fill="#111">1.5</text>
<line x1="652.4" y1="135.2" x2="654.2" y2="135.2" stroke="#111" stroke-width="1"/>
<line x1="660.8" y1="135.2" x2="662.6" y2="135.2" stroke="#111" stroke-width="1"/>
<text transform="translate(667.20,139.20) scale(1.11,1)" x="0" y="0" font-family="Liberation Sans, sans-serif" font-size="11.3" text-anchor="start" fill="#111">1</text>
<line x1="652.4" y1="166.9" x2="654.2" y2="166.9" stroke="#111" stroke-width="1"/>
<line x1="660.8" y1="166.9" x2="662.6" y2="166.9" stroke="#111" stroke-width="1"/>
<text transform="translate(667.20,170.90) scale(1.11,1)" x="0" y="0" font-family="Liberation Sans, sans-serif" font-size="11.3" text-anchor="start" fill="#111">0.5</text>
<line x1="652.4" y1="198.6" x2="654.2" y2="198.6" stroke="#111" stroke-width="1"/>
<line x1="660.8" y1="198.6" x2="662.6" y2="198.6" stroke="#111" stroke-width="1"/>
<text transform="translate(667.20,202.60) scale(1.11,1)" x="0" y="0" font-family="Liberation Sans, sans-serif" font-size="11.3" text-anchor="start" fill="#111">0</text>
<text transform="translate(662.00,37.20) scale(1.11,1)" x="0" y="0" font-family="Liberation Sans, sans-serif" font-size="11.3" text-anchor="start" fill="#111">m/s</text>
<rect x="195.3" y="507.4" width="10.2" height="138.5" fill="url(#v95)" stroke="#333" stroke-width="0.6"/>
<line x1="195.3" y1="522.5" x2="197.1" y2="522.5" stroke="#111" stroke-width="1"/>
<line x1="203.7" y1="522.5" x2="205.5" y2="522.5" stroke="#111" stroke-width="1"/>
<text transform="translate(210.10,526.50) scale(1.11,1)" x="0" y="0" font-family="Liberation Sans, sans-serif" font-size="11.3" text-anchor="start" fill="#111">3.5</text>
<line x1="195.3" y1="540.2" x2="197.1" y2="540.2" stroke="#111" stroke-width="1"/>
<line x1="203.7" y1="540.2" x2="205.5" y2="540.2" stroke="#111" stroke-width="1"/>
<text transform="translate(210.10,544.19) scale(1.11,1)" x="0" y="0" font-family="Liberation Sans, sans-serif" font-size="11.3" text-anchor="start" fill="#111">3</text>
<line x1="195.3" y1="557.9" x2="197.1" y2="557.9" stroke="#111" stroke-width="1"/>
<line x1="203.7" y1="557.9" x2="205.5" y2="557.9" stroke="#111" stroke-width="1"/>
<text transform="translate(210.10,561.88) scale(1.11,1)" x="0" y="0" font-family="Liberation Sans, sans-serif" font-size="11.3" text-anchor="start" fill="#111">2.5</text>
<line x1="195.3" y1="575.6" x2="197.1" y2="575.6" stroke="#111" stroke-width="1"/>
<line x1="203.7" y1="575.6" x2="205.5" y2="575.6" stroke="#111" stroke-width="1"/>
<text transform="translate(210.10,579.57) scale(1.11,1)" x="0" y="0" font-family="Liberation Sans, sans-serif" font-size="11.3" text-anchor="start" fill="#111">2</text>
<line x1="195.3" y1="593.3" x2="197.1" y2="593.3" stroke="#111" stroke-width="1"/>
<line x1="203.7" y1="593.3" x2="205.5" y2="593.3" stroke="#111" stroke-width="1"/>
<text transform="translate(210.10,597.26) scale(1.11,1)" x="0" y="0" font-family="Liberation Sans, sans-serif" font-size="11.3" text-anchor="start" fill="#111">1.5</text>
<line x1="195.3" y1="611.0" x2="197.1" y2="611.0" stroke="#111" stroke-width="1"/>
<line x1="203.7" y1="611.0" x2="205.5" y2="611.0" stroke="#111" stroke-width="1"/>
<text transform="translate(210.10,614.95) scale(1.11,1)" x="0" y="0" font-family="Liberation Sans, sans-serif" font-size="11.3" text-anchor="start" fill="#111">1</text>
<line x1="195.3" y1="628.6" x2="197.1" y2="628.6" stroke="#111" stroke-width="1"/>
<line x1="203.7" y1="628.6" x2="205.5" y2="628.6" stroke="#111" stroke-width="1"/>
<text transform="translate(210.10,632.64) scale(1.11,1)" x="0" y="0" font-family="Liberation Sans, sans-serif" font-size="11.3" text-anchor="start" fill="#111">0.5</text>
<line x1="195.3" y1="646.3" x2="197.1" y2="646.3" stroke="#111" stroke-width="1"/>
<line x1="203.7" y1="646.3" x2="205.5" y2="646.3" stroke="#111" stroke-width="1"/>
<text transform="translate(210.10,650.33) scale(1.11,1)" x="0" y="0" font-family="Liberation Sans, sans-serif" font-size="11.3" text-anchor="start" fill="#111">0</text>
<text transform="translate(204.60,489.60) scale(1.11,1)" x="0" y="0" font-family="Liberation Sans, sans-serif" font-size="11.3" text-anchor="start" fill="#111">m/s</text>
<rect x="420.8" y="511.9" width="10.2" height="139.1" fill="url(#v96)" stroke="#333" stroke-width="0.6"/>
<line x1="420.8" y1="524.1" x2="422.6" y2="524.1" stroke="#111" stroke-width="1"/>
<line x1="429.2" y1="524.1" x2="431.0" y2="524.1" stroke="#111" stroke-width="1"/>
<text transform="translate(435.60,528.10) scale(1.11,1)" x="0" y="0" font-family="Liberation Sans, sans-serif" font-size="11.3" text-anchor="start" fill="#111">0.9</text>
<line x1="420.8" y1="538.2" x2="422.6" y2="538.2" stroke="#111" stroke-width="1"/>
<line x1="429.2" y1="538.2" x2="431.0" y2="538.2" stroke="#111" stroke-width="1"/>
<text transform="translate(435.60,542.20) scale(1.11,1)" x="0" y="0" font-family="Liberation Sans, sans-serif" font-size="11.3" text-anchor="start" fill="#111">0.8</text>
<line x1="420.8" y1="552.3" x2="422.6" y2="552.3" stroke="#111" stroke-width="1"/>
<line x1="429.2" y1="552.3" x2="431.0" y2="552.3" stroke="#111" stroke-width="1"/>
<text transform="translate(435.60,556.30) scale(1.11,1)" x="0" y="0" font-family="Liberation Sans, sans-serif" font-size="11.3" text-anchor="start" fill="#111">0.7</text>
<line x1="420.8" y1="566.4" x2="422.6" y2="566.4" stroke="#111" stroke-width="1"/>
<line x1="429.2" y1="566.4" x2="431.0" y2="566.4" stroke="#111" stroke-width="1"/>
<text transform="translate(435.60,570.40) scale(1.11,1)" x="0" y="0" font-family="Liberation Sans, sans-serif" font-size="11.3" text-anchor="start" fill="#111">0.6</text>
<line x1="420.8" y1="580.5" x2="422.6" y2="580.5" stroke="#111" stroke-width="1"/>
<line x1="429.2" y1="580.5" x2="431.0" y2="580.5" stroke="#111" stroke-width="1"/>
<text transform="translate(435.60,584.50) scale(1.11,1)" x="0" y="0" font-family="Liberation Sans, sans-serif" font-size="11.3" text-anchor="start" fill="#111">0.5</text>
<line x1="420.8" y1="594.6" x2="422.6" y2="594.6" stroke="#111" stroke-width="1"/>
<line x1="429.2" y1="594.6" x2="431.0" y2="594.6" stroke="#111" stroke-width="1"/>
<text transform="translate(435.60,598.60) scale(1.11,1)" x="0" y="0" font-family="Liberation Sans, sans-serif" font-size="11.3" text-anchor="start" fill="#111">0.4</text>
<line x1="420.8" y1="608.7" x2="422.6" y2="608.7" stroke="#111" stroke-width="1"/>
<line x1="429.2" y1="608.7" x2="431.0" y2="608.7" stroke="#111" stroke-width="1"/>
<text transform="translate(435.60,612.70) scale(1.11,1)" x="0" y="0" font-family="Liberation Sans, sans-serif" font-size="11.3" text-anchor="start" fill="#111">0.3</text>
<line x1="420.8" y1="622.8" x2="422.6" y2="622.8" stroke="#111" stroke-width="1"/>
<line x1="429.2" y1="622.8" x2="431.0" y2="622.8" stroke="#111" stroke-width="1"/>
<text transform="translate(435.60,626.80) scale(1.11,1)" x="0" y="0" font-family="Liberation Sans, sans-serif" font-size="11.3" text-anchor="start" fill="#111">0.2</text>
<line x1="420.8" y1="636.9" x2="422.6" y2="636.9" stroke="#111" stroke-width="1"/>
<line x1="429.2" y1="636.9" x2="431.0" y2="636.9" stroke="#111" stroke-width="1"/>
<text transform="translate(435.60,640.90) scale(1.11,1)" x="0" y="0" font-family="Liberation Sans, sans-serif" font-size="11.3" text-anchor="start" fill="#111">0.1</text>
<line x1="420.8" y1="651.0" x2="422.6" y2="651.0" stroke="#111" stroke-width="1"/>
<line x1="429.2" y1="651.0" x2="431.0" y2="651.0" stroke="#111" stroke-width="1"/>
<text transform="translate(435.60,655.00) scale(1.11,1)" x="0" y="0" font-family="Liberation Sans, sans-serif" font-size="11.3" text-anchor="start" fill="#111">0</text>
<text transform="translate(430.20,493.70) scale(1.11,1)" x="0" y="0" font-family="Liberation Sans, sans-serif" font-size="11.3" text-anchor="start" fill="#111">m/s</text>
<rect x="652.4" y="517.8" width="10.2" height="138.2" fill="url(#v97)" stroke="#333" stroke-width="0.6"/>
<line x1="652.4" y1="534.3" x2="654.2" y2="534.3" stroke="#111" stroke-width="1"/>
<line x1="660.8" y1="534.3" x2="662.6" y2="534.3" stroke="#111" stroke-width="1"/>
<text transform="translate(667.20,538.30) scale(1.11,1)" x="0" y="0" font-family="Liberation Sans, sans-serif" font-size="11.3" text-anchor="start" fill="#111">0.6</text>
<line x1="652.4" y1="554.6" x2="654.2" y2="554.6" stroke="#111" stroke-width="1"/>
<line x1="660.8" y1="554.6" x2="662.6" y2="554.6" stroke="#111" stroke-width="1"/>
<text transform="translate(667.20,558.60) scale(1.11,1)" x="0" y="0" font-family="Liberation Sans, sans-serif" font-size="11.3" text-anchor="start" fill="#111">0.5</text>
<line x1="652.4" y1="574.9" x2="654.2" y2="574.9" stroke="#111" stroke-width="1"/>
<line x1="660.8" y1="574.9" x2="662.6" y2="574.9" stroke="#111" stroke-width="1"/>
<text transform="translate(667.20,578.90) scale(1.11,1)" x="0" y="0" font-family="Liberation Sans, sans-serif" font-size="11.3" text-anchor="start" fill="#111">0.4</text>
<line x1="652.4" y1="595.2" x2="654.2" y2="595.2" stroke="#111" stroke-width="1"/>
<line x1="660.8" y1="595.2" x2="662.6" y2="595.2" stroke="#111" stroke-width="1"/>
<text transform="translate(667.20,599.20) scale(1.11,1)" x="0" y="0" font-family="Liberation Sans, sans-serif" font-size="11.3" text-anchor="start" fill="#111">0.3</text>
<line x1="652.4" y1="615.5" x2="654.2" y2="615.5" stroke="#111" stroke-width="1"/>
<line x1="660.8" y1="615.5" x2="662.6" y2="615.5" stroke="#111" stroke-width="1"/>
<text transform="translate(667.20,619.50) scale(1.11,1)" x="0" y="0" font-family="Liberation Sans, sans-serif" font-size="11.3" text-anchor="start" fill="#111">0.2</text>
<line x1="652.4" y1="635.8" x2="654.2" y2="635.8" stroke="#111" stroke-width="1"/>
<line x1="660.8" y1="635.8" x2="662.6" y2="635.8" stroke="#111" stroke-width="1"/>
<text transform="translate(667.20,639.80) scale(1.11,1)" x="0" y="0" font-family="Liberation Sans, sans-serif" font-size="11.3" text-anchor="start" fill="#111">0.1</text>
<line x1="652.4" y1="656.1" x2="654.2" y2="656.1" stroke="#111" stroke-width="1"/>
<line x1="660.8" y1="656.1" x2="662.6" y2="656.1" stroke="#111" stroke-width="1"/>
<text transform="translate(667.20,660.10) scale(1.11,1)" x="0" y="0" font-family="Liberation Sans, sans-serif" font-size="11.3" text-anchor="start" fill="#111">0</text>
<text transform="translate(662.20,499.90) scale(1.11,1)" x="0" y="0" font-family="Liberation Sans, sans-serif" font-size="11.3" text-anchor="start" fill="#111">m/s</text>
<rect x="203.4" y="978.2" width="10.2" height="143.3" fill="url(#v98)" stroke="#333" stroke-width="0.6"/>
<line x1="203.4" y1="994.2" x2="205.2" y2="994.2" stroke="#111" stroke-width="1"/>
<line x1="211.8" y1="994.2" x2="213.6" y2="994.2" stroke="#111" stroke-width="1"/>
<text transform="translate(218.20,998.20) scale(1.11,1)" x="0" y="0" font-family="Liberation Sans, sans-serif" font-size="11.3" text-anchor="start" fill="#111">3.5</text>
<line x1="203.4" y1="1012.4" x2="205.2" y2="1012.4" stroke="#111" stroke-width="1"/>
<line x1="211.8" y1="1012.4" x2="213.6" y2="1012.4" stroke="#111" stroke-width="1"/>
<text transform="translate(218.20,1016.39) scale(1.11,1)" x="0" y="0" font-family="Liberation Sans, sans-serif" font-size="11.3" text-anchor="start" fill="#111">3</text>
<line x1="203.4" y1="1030.6" x2="205.2" y2="1030.6" stroke="#111" stroke-width="1"/>
<line x1="211.8" y1="1030.6" x2="213.6" y2="1030.6" stroke="#111" stroke-width="1"/>
<text transform="translate(218.20,1034.58) scale(1.11,1)" x="0" y="0" font-family="Liberation Sans, sans-serif" font-size="11.3" text-anchor="start" fill="#111">2.5</text>
<line x1="203.4" y1="1048.8" x2="205.2" y2="1048.8" stroke="#111" stroke-width="1"/>
<line x1="211.8" y1="1048.8" x2="213.6" y2="1048.8" stroke="#111" stroke-width="1"/>
<text transform="translate(218.20,1052.77) scale(1.11,1)" x="0" y="0" font-family="Liberation Sans, sans-serif" font-size="11.3" text-anchor="start" fill="#111">2</text>
<line x1="203.4" y1="1067.0" x2="205.2" y2="1067.0" stroke="#111" stroke-width="1"/>
<line x1="211.8" y1="1067.0" x2="213.6" y2="1067.0" stroke="#111" stroke-width="1"/>
<text transform="translate(218.20,1070.96) scale(1.11,1)" x="0" y="0" font-family="Liberation Sans, sans-serif" font-size="11.3" text-anchor="start" fill="#111">1.5</text>
<line x1="203.4" y1="1085.2" x2="205.2" y2="1085.2" stroke="#111" stroke-width="1"/>
<line x1="211.8" y1="1085.2" x2="213.6" y2="1085.2" stroke="#111" stroke-width="1"/>
<text transform="translate(218.20,1089.15) scale(1.11,1)" x="0" y="0" font-family="Liberation Sans, sans-serif" font-size="11.3" text-anchor="start" fill="#111">1</text>
<line x1="203.4" y1="1103.3" x2="205.2" y2="1103.3" stroke="#111" stroke-width="1"/>
<line x1="211.8" y1="1103.3" x2="213.6" y2="1103.3" stroke="#111" stroke-width="1"/>
<text transform="translate(218.20,1107.34) scale(1.11,1)" x="0" y="0" font-family="Liberation Sans, sans-serif" font-size="11.3" text-anchor="start" fill="#111">0.5</text>
<line x1="203.4" y1="1121.5" x2="205.2" y2="1121.5" stroke="#111" stroke-width="1"/>
<line x1="211.8" y1="1121.5" x2="213.6" y2="1121.5" stroke="#111" stroke-width="1"/>
<text transform="translate(218.20,1125.53) scale(1.11,1)" x="0" y="0" font-family="Liberation Sans, sans-serif" font-size="11.3" text-anchor="start" fill="#111">0</text>
<text transform="translate(213.20,958.80) scale(1.11,1)" x="0" y="0" font-family="Liberation Sans, sans-serif" font-size="11.3" text-anchor="start" fill="#111">m/s</text>
<rect x="423.2" y="979.3" width="10.2" height="142.7" fill="url(#v99)" stroke="#333" stroke-width="0.6"/>
<line x1="423.2" y1="987.4" x2="425.0" y2="987.4" stroke="#111" stroke-width="1"/>
<line x1="431.6" y1="987.4" x2="433.4" y2="987.4" stroke="#111" stroke-width="1"/>
<text transform="translate(438.00,991.40) scale(1.11,1)" x="0" y="0" font-family="Liberation Sans, sans-serif" font-size="11.3" text-anchor="start" fill="#111">3.5</text>
<line x1="423.2" y1="1006.6" x2="425.0" y2="1006.6" stroke="#111" stroke-width="1"/>
<line x1="431.6" y1="1006.6" x2="433.4" y2="1006.6" stroke="#111" stroke-width="1"/>
<text transform="translate(438.00,1010.60) scale(1.11,1)" x="0" y="0" font-family="Liberation Sans, sans-serif" font-size="11.3" text-anchor="start" fill="#111">3</text>
<line x1="423.2" y1="1025.8" x2="425.0" y2="1025.8" stroke="#111" stroke-width="1"/>
<line x1="431.6" y1="1025.8" x2="433.4" y2="1025.8" stroke="#111" stroke-width="1"/>
<text transform="translate(438.00,1029.80) scale(1.11,1)" x="0" y="0" font-family="Liberation Sans, sans-serif" font-size="11.3" text-anchor="start" fill="#111">2.5</text>
<line x1="423.2" y1="1045.0" x2="425.0" y2="1045.0" stroke="#111" stroke-width="1"/>
<line x1="431.6" y1="1045.0" x2="433.4" y2="1045.0" stroke="#111" stroke-width="1"/>
<text transform="translate(438.00,1049.00) scale(1.11,1)" x="0" y="0" font-family="Liberation Sans, sans-serif" font-size="11.3" text-anchor="start" fill="#111">2</text>
<line x1="423.2" y1="1064.2" x2="425.0" y2="1064.2" stroke="#111" stroke-width="1"/>
<line x1="431.6" y1="1064.2" x2="433.4" y2="1064.2" stroke="#111" stroke-width="1"/>
<text transform="translate(438.00,1068.20) scale(1.11,1)" x="0" y="0" font-family="Liberation Sans, sans-serif" font-size="11.3" text-anchor="start" fill="#111">1.5</text>
<line x1="423.2" y1="1083.4" x2="425.0" y2="1083.4" stroke="#111" stroke-width="1"/>
<line x1="431.6" y1="1083.4" x2="433.4" y2="1083.4" stroke="#111" stroke-width="1"/>
<text transform="translate(438.00,1087.40) scale(1.11,1)" x="0" y="0" font-family="Liberation Sans, sans-serif" font-size="11.3" text-anchor="start" fill="#111">1</text>
<line x1="423.2" y1="1102.6" x2="425.0" y2="1102.6" stroke="#111" stroke-width="1"/>
<line x1="431.6" y1="1102.6" x2="433.4" y2="1102.6" stroke="#111" stroke-width="1"/>
<text transform="translate(438.00,1106.60) scale(1.11,1)" x="0" y="0" font-family="Liberation Sans, sans-serif" font-size="11.3" text-anchor="start" fill="#111">0.5</text>
<line x1="423.2" y1="1121.8" x2="425.0" y2="1121.8" stroke="#111" stroke-width="1"/>
<line x1="431.6" y1="1121.8" x2="433.4" y2="1121.8" stroke="#111" stroke-width="1"/>
<text transform="translate(438.00,1125.80) scale(1.11,1)" x="0" y="0" font-family="Liberation Sans, sans-serif" font-size="11.3" text-anchor="start" fill="#111">0</text>
<text transform="translate(432.00,959.70) scale(1.11,1)" x="0" y="0" font-family="Liberation Sans, sans-serif" font-size="11.3" text-anchor="start" fill="#111">m/s</text>
<rect x="653.5" y="987.4" width="10.2" height="142.6" fill="url(#v100)" stroke="#333" stroke-width="0.6"/>
<line x1="653.5" y1="991.6" x2="655.3" y2="991.6" stroke="#111" stroke-width="1"/>
<line x1="661.9" y1="991.6" x2="663.7" y2="991.6" stroke="#111" stroke-width="1"/>
<text transform="translate(668.30,995.60) scale(1.11,1)" x="0" y="0" font-family="Liberation Sans, sans-serif" font-size="11.3" text-anchor="start" fill="#111">3.5</text>
<line x1="653.5" y1="1011.3" x2="655.3" y2="1011.3" stroke="#111" stroke-width="1"/>
<line x1="661.9" y1="1011.3" x2="663.7" y2="1011.3" stroke="#111" stroke-width="1"/>
<text transform="translate(668.30,1015.30) scale(1.11,1)" x="0" y="0" font-family="Liberation Sans, sans-serif" font-size="11.3" text-anchor="start" fill="#111">3</text>
<line x1="653.5" y1="1031.0" x2="655.3" y2="1031.0" stroke="#111" stroke-width="1"/>
<line x1="661.9" y1="1031.0" x2="663.7" y2="1031.0" stroke="#111" stroke-width="1"/>
<text transform="translate(668.30,1035.00) scale(1.11,1)" x="0" y="0" font-family="Liberation Sans, sans-serif" font-size="11.3" text-anchor="start" fill="#111">2.5</text>
<line x1="653.5" y1="1050.7" x2="655.3" y2="1050.7" stroke="#111" stroke-width="1"/>
<line x1="661.9" y1="1050.7" x2="663.7" y2="1050.7" stroke="#111" stroke-width="1"/>
<text transform="translate(668.30,1054.70) scale(1.11,1)" x="0" y="0" font-family="Liberation Sans, sans-serif" font-size="11.3" text-anchor="start" fill="#111">2</text>
<line x1="653.5" y1="1070.4" x2="655.3" y2="1070.4" stroke="#111" stroke-width="1"/>
<line x1="661.9" y1="1070.4" x2="663.7" y2="1070.4" stroke="#111" stroke-width="1"/>
<text transform="translate(668.30,1074.40) scale(1.11,1)" x="0" y="0" font-family="Liberation Sans, sans-serif" font-size="11.3" text-anchor="start" fill="#111">1.5</text>
<line x1="653.5" y1="1090.1" x2="655.3" y2="1090.1" stroke="#111" stroke-width="1"/>
<line x1="661.9" y1="1090.1" x2="663.7" y2="1090.1" stroke="#111" stroke-width="1"/>
<text transform="translate(668.30,1094.10) scale(1.11,1)" x="0" y="0" font-family="Liberation Sans, sans-serif" font-size="11.3" text-anchor="start" fill="#111">1</text>
<line x1="653.5" y1="1109.8" x2="655.3" y2="1109.8" stroke="#111" stroke-width="1"/>
<line x1="661.9" y1="1109.8" x2="663.7" y2="1109.8" stroke="#111" stroke-width="1"/>
<text transform="translate(668.30,1113.80) scale(1.11,1)" x="0" y="0" font-family="Liberation Sans, sans-serif" font-size="11.3" text-anchor="start" fill="#111">0.5</text>
<line x1="653.5" y1="1129.5" x2="655.3" y2="1129.5" stroke="#111" stroke-width="1"/>
<line x1="661.9" y1="1129.5" x2="663.7" y2="1129.5" stroke="#111" stroke-width="1"/>
<text transform="translate(668.30,1133.50) scale(1.11,1)" x="0" y="0" font-family="Liberation Sans, sans-serif" font-size="11.3" text-anchor="start" fill="#111">0</text>
<text transform="translate(662.00,968.10) scale(1.11,1)" x="0" y="0" font-family="Liberation Sans, sans-serif" font-size="11.3" text-anchor="start" fill="#111">m/s</text>
<line x1="4.0" y1="209.6" x2="4.0" y2="195.6" stroke="#86b2e0" stroke-width="1.4"/>
<path d="M2.0,196.4 L4.0,191.6 L6.0,196.4 Z" fill="#4a88d0"/>
<line x1="4.0" y1="209.6" x2="18.0" y2="209.6" stroke="#5cbc5c" stroke-width="1.3"/>
<path d="M17.2,207.6 L22.0,209.6 L17.2,211.6 Z" fill="#3aaa3a"/>
<path d="M1.5,207.1 L6.5,212.1 M6.5,207.1 L1.5,212.1" stroke="#222" stroke-width="0.8"/>
<circle cx="4.0" cy="209.6" r="1.8" fill="#e0205a"/>
<text transform="translate(1.10,189.30) scale(1.1,1)" x="0" y="0" font-family="Liberation Sans, sans-serif" font-size="11.2" text-anchor="start" fill="#111">z</text>
<text transform="translate(24.60,211.40) scale(1.1,1)" x="0" y="0" font-family="Liberation Sans, sans-serif" font-size="11.2" text-anchor="start" fill="#111">y</text>
<line x1="235.8" y1="209.5" x2="235.8" y2="195.5" stroke="#86b2e0" stroke-width="1.4"/>
<path d="M233.8,196.3 L235.8,191.5 L237.8,196.3 Z" fill="#4a88d0"/>
<line x1="235.8" y1="209.5" x2="249.8" y2="209.5" stroke="#5cbc5c" stroke-width="1.3"/>
<path d="M249.0,207.5 L253.8,209.5 L249.0,211.5 Z" fill="#3aaa3a"/>
<path d="M233.3,207.0 L238.3,212.0 M238.3,207.0 L233.3,212.0" stroke="#222" stroke-width="0.8"/>
<circle cx="235.8" cy="209.5" r="1.8" fill="#e0205a"/>
<text transform="translate(232.90,189.20) scale(1.1,1)" x="0" y="0" font-family="Liberation Sans, sans-serif" font-size="11.2" text-anchor="start" fill="#111">z</text>
<text transform="translate(256.40,211.30) scale(1.1,1)" x="0" y="0" font-family="Liberation Sans, sans-serif" font-size="11.2" text-anchor="start" fill="#111">y</text>
<line x1="459.9" y1="207.4" x2="459.9" y2="193.4" stroke="#86b2e0" stroke-width="1.4"/>
<path d="M457.9,194.2 L459.9,189.4 L461.9,194.2 Z" fill="#4a88d0"/>
<line x1="459.9" y1="207.4" x2="473.9" y2="207.4" stroke="#5cbc5c" stroke-width="1.3"/>
<path d="M473.1,205.4 L477.9,207.4 L473.1,209.4 Z" fill="#3aaa3a"/>
<path d="M457.4,204.9 L462.4,209.9 M462.4,204.9 L457.4,209.9" stroke="#222" stroke-width="0.8"/>
<circle cx="459.9" cy="207.4" r="1.8" fill="#e0205a"/>
<text transform="translate(457.00,187.10) scale(1.1,1)" x="0" y="0" font-family="Liberation Sans, sans-serif" font-size="11.2" text-anchor="start" fill="#111">z</text>
<text transform="translate(480.50,209.20) scale(1.1,1)" x="0" y="0" font-family="Liberation Sans, sans-serif" font-size="11.2" text-anchor="start" fill="#111">y</text>
<line x1="2.7" y1="663.2" x2="2.7" y2="649.2" stroke="#86b2e0" stroke-width="1.4"/>
<path d="M0.7,650.0 L2.7,645.2 L4.7,650.0 Z" fill="#4a88d0"/>
<line x1="2.7" y1="663.2" x2="16.7" y2="663.2" stroke="#5cbc5c" stroke-width="1.3"/>
<path d="M15.9,661.2 L20.7,663.2 L15.9,665.2 Z" fill="#3aaa3a"/>
<path d="M0.2,660.7 L5.2,665.7 M5.2,660.7 L0.2,665.7" stroke="#222" stroke-width="0.8"/>
<circle cx="2.7" cy="663.2" r="1.8" fill="#e0205a"/>
<text transform="translate(-0.20,642.90) scale(1.1,1)" x="0" y="0" font-family="Liberation Sans, sans-serif" font-size="11.2" text-anchor="start" fill="#111">z</text>
<text transform="translate(23.30,665.00) scale(1.1,1)" x="0" y="0" font-family="Liberation Sans, sans-serif" font-size="11.2" text-anchor="start" fill="#111">y</text>
<line x1="226.0" y1="662.5" x2="226.0" y2="648.5" stroke="#86b2e0" stroke-width="1.4"/>
<path d="M224.0,649.3 L226.0,644.5 L228.0,649.3 Z" fill="#4a88d0"/>
<line x1="226.0" y1="662.5" x2="240.0" y2="662.5" stroke="#5cbc5c" stroke-width="1.3"/>
<path d="M239.2,660.5 L244.0,662.5 L239.2,664.5 Z" fill="#3aaa3a"/>
<path d="M223.5,660.0 L228.5,665.0 M228.5,660.0 L223.5,665.0" stroke="#222" stroke-width="0.8"/>
<circle cx="226.0" cy="662.5" r="1.8" fill="#e0205a"/>
<text transform="translate(223.10,642.20) scale(1.1,1)" x="0" y="0" font-family="Liberation Sans, sans-serif" font-size="11.2" text-anchor="start" fill="#111">z</text>
<text transform="translate(246.60,664.30) scale(1.1,1)" x="0" y="0" font-family="Liberation Sans, sans-serif" font-size="11.2" text-anchor="start" fill="#111">y</text>
<line x1="457.3" y1="666.7" x2="457.3" y2="652.7" stroke="#86b2e0" stroke-width="1.4"/>
<path d="M455.3,653.5 L457.3,648.7 L459.3,653.5 Z" fill="#4a88d0"/>
<line x1="457.3" y1="666.7" x2="471.3" y2="666.7" stroke="#5cbc5c" stroke-width="1.3"/>
<path d="M470.5,664.7 L475.3,666.7 L470.5,668.7 Z" fill="#3aaa3a"/>
<path d="M454.8,664.2 L459.8,669.2 M459.8,664.2 L454.8,669.2" stroke="#222" stroke-width="0.8"/>
<circle cx="457.3" cy="666.7" r="1.8" fill="#e0205a"/>
<text transform="translate(454.40,646.40) scale(1.1,1)" x="0" y="0" font-family="Liberation Sans, sans-serif" font-size="11.2" text-anchor="start" fill="#111">z</text>
<text transform="translate(477.90,668.50) scale(1.1,1)" x="0" y="0" font-family="Liberation Sans, sans-serif" font-size="11.2" text-anchor="start" fill="#111">y</text>
<line x1="4.0" y1="1139.2" x2="4.0" y2="1125.2" stroke="#86b2e0" stroke-width="1.4"/>
<path d="M2.0,1126.0 L4.0,1121.2 L6.0,1126.0 Z" fill="#4a88d0"/>
<line x1="4.0" y1="1139.2" x2="18.0" y2="1139.2" stroke="#5cbc5c" stroke-width="1.3"/>
<path d="M17.2,1137.2 L22.0,1139.2 L17.2,1141.2 Z" fill="#3aaa3a"/>
<path d="M1.5,1136.7 L6.5,1141.7 M6.5,1136.7 L1.5,1141.7" stroke="#222" stroke-width="0.8"/>
<circle cx="4.0" cy="1139.2" r="1.8" fill="#e0205a"/>
<text transform="translate(1.10,1118.90) scale(1.1,1)" x="0" y="0" font-family="Liberation Sans, sans-serif" font-size="11.2" text-anchor="start" fill="#111">z</text>
<text transform="translate(24.60,1141.00) scale(1.1,1)" x="0" y="0" font-family="Liberation Sans, sans-serif" font-size="11.2" text-anchor="start" fill="#111">y</text>
<line x1="233.3" y1="1139.4" x2="233.3" y2="1125.4" stroke="#86b2e0" stroke-width="1.4"/>
<path d="M231.3,1126.2 L233.3,1121.4 L235.3,1126.2 Z" fill="#4a88d0"/>
<line x1="233.3" y1="1139.4" x2="247.3" y2="1139.4" stroke="#5cbc5c" stroke-width="1.3"/>
<path d="M246.5,1137.4 L251.3,1139.4 L246.5,1141.4 Z" fill="#3aaa3a"/>
<path d="M230.8,1136.9 L235.8,1141.9 M235.8,1136.9 L230.8,1141.9" stroke="#222" stroke-width="0.8"/>
<circle cx="233.3" cy="1139.4" r="1.8" fill="#e0205a"/>
<text transform="translate(230.40,1119.10) scale(1.1,1)" x="0" y="0" font-family="Liberation Sans, sans-serif" font-size="11.2" text-anchor="start" fill="#111">z</text>
<text transform="translate(253.90,1141.20) scale(1.1,1)" x="0" y="0" font-family="Liberation Sans, sans-serif" font-size="11.2" text-anchor="start" fill="#111">y</text>
<line x1="456.2" y1="1143.0" x2="456.2" y2="1129.0" stroke="#86b2e0" stroke-width="1.4"/>
<path d="M454.2,1129.8 L456.2,1125.0 L458.2,1129.8 Z" fill="#4a88d0"/>
<line x1="456.2" y1="1143.0" x2="470.2" y2="1143.0" stroke="#5cbc5c" stroke-width="1.3"/>
<path d="M469.4,1141.0 L474.2,1143.0 L469.4,1145.0 Z" fill="#3aaa3a"/>
<path d="M453.7,1140.5 L458.7,1145.5 M458.7,1140.5 L453.7,1145.5" stroke="#222" stroke-width="0.8"/>
<circle cx="456.2" cy="1143.0" r="1.8" fill="#e0205a"/>
<text transform="translate(453.30,1122.70) scale(1.1,1)" x="0" y="0" font-family="Liberation Sans, sans-serif" font-size="11.2" text-anchor="start" fill="#111">z</text>
<text transform="translate(476.80,1144.80) scale(1.1,1)" x="0" y="0" font-family="Liberation Sans, sans-serif" font-size="11.2" text-anchor="start" fill="#111">y</text>
<line x1="9.4" y1="396.0" x2="9.4" y2="382.7" stroke="#5cbc5c" stroke-width="1.3"/>
<path d="M7.4,383.5 L9.4,378.7 L11.4,383.5 Z" fill="#3aaa3a"/>
<line x1="9.4" y1="396.0" x2="23.6" y2="396.0" stroke="#e2487e" stroke-width="1.3"/>
<path d="M22.8,394.0 L27.6,396.0 L22.8,398.0 Z" fill="#e0205a"/>
<path d="M6.8,393.6 L12.0,393.6 L6.8,398.4 L12.0,398.4" stroke="#333" stroke-width="0.8" fill="none"/>
<rect x="7.8" y="394.6" width="3.2" height="2.8" fill="#3a80d8"/>
<text transform="translate(6.60,375.80) scale(1.05,1)" x="0" y="0" font-family="Liberation Sans, sans-serif" font-size="11.2" text-anchor="start" fill="#111">y</text>
<text transform="translate(30.00,398.90) scale(1.0,1)" x="0" y="0" font-family="Liberation Sans, sans-serif" font-size="11.2" text-anchor="start" fill="#111">x</text>
<line x1="236.5" y1="393.1" x2="236.5" y2="379.8" stroke="#5cbc5c" stroke-width="1.3"/>
<path d="M234.5,380.6 L236.5,375.8 L238.5,380.6 Z" fill="#3aaa3a"/>
<line x1="236.5" y1="393.1" x2="250.7" y2="393.1" stroke="#e2487e" stroke-width="1.3"/>
<path d="M249.9,391.1 L254.7,393.1 L249.9,395.1 Z" fill="#e0205a"/>
<path d="M233.9,390.7 L239.1,390.7 L233.9,395.5 L239.1,395.5" stroke="#333" stroke-width="0.8" fill="none"/>
<rect x="234.9" y="391.7" width="3.2" height="2.8" fill="#3a80d8"/>
<text transform="translate(233.70,372.90) scale(1.05,1)" x="0" y="0" font-family="Liberation Sans, sans-serif" font-size="11.2" text-anchor="start" fill="#111">y</text>
<text transform="translate(257.10,396.00) scale(1.0,1)" x="0" y="0" font-family="Liberation Sans, sans-serif" font-size="11.2" text-anchor="start" fill="#111">x</text>
<line x1="459.9" y1="392.1" x2="459.9" y2="378.8" stroke="#5cbc5c" stroke-width="1.3"/>
<path d="M457.9,379.6 L459.9,374.8 L461.9,379.6 Z" fill="#3aaa3a"/>
<line x1="459.9" y1="392.1" x2="474.1" y2="392.1" stroke="#e2487e" stroke-width="1.3"/>
<path d="M473.3,390.1 L478.1,392.1 L473.3,394.1 Z" fill="#e0205a"/>
<path d="M457.3,389.7 L462.5,389.7 L457.3,394.5 L462.5,394.5" stroke="#333" stroke-width="0.8" fill="none"/>
<rect x="458.3" y="390.7" width="3.2" height="2.8" fill="#3a80d8"/>
<text transform="translate(457.10,371.90) scale(1.05,1)" x="0" y="0" font-family="Liberation Sans, sans-serif" font-size="11.2" text-anchor="start" fill="#111">y</text>
<text transform="translate(480.50,395.00) scale(1.0,1)" x="0" y="0" font-family="Liberation Sans, sans-serif" font-size="11.2" text-anchor="start" fill="#111">x</text>
<line x1="7.7" y1="844.5" x2="7.7" y2="831.2" stroke="#5cbc5c" stroke-width="1.3"/>
<path d="M5.7,832.0 L7.7,827.2 L9.7,832.0 Z" fill="#3aaa3a"/>
<line x1="7.7" y1="844.5" x2="21.9" y2="844.5" stroke="#e2487e" stroke-width="1.3"/>
<path d="M21.1,842.5 L25.9,844.5 L21.1,846.5 Z" fill="#e0205a"/>
<path d="M5.1,842.1 L10.3,842.1 L5.1,846.9 L10.3,846.9" stroke="#333" stroke-width="0.8" fill="none"/>
<rect x="6.1" y="843.1" width="3.2" height="2.8" fill="#3a80d8"/>
<text transform="translate(4.90,824.30) scale(1.05,1)" x="0" y="0" font-family="Liberation Sans, sans-serif" font-size="11.2" text-anchor="start" fill="#111">y</text>
<text transform="translate(28.30,847.40) scale(1.0,1)" x="0" y="0" font-family="Liberation Sans, sans-serif" font-size="11.2" text-anchor="start" fill="#111">x</text>
<line x1="231.2" y1="844.5" x2="231.2" y2="831.2" stroke="#5cbc5c" stroke-width="1.3"/>
<path d="M229.2,832.0 L231.2,827.2 L233.2,832.0 Z" fill="#3aaa3a"/>
<line x1="231.2" y1="844.5" x2="245.4" y2="844.5" stroke="#e2487e" stroke-width="1.3"/>
<path d="M244.6,842.5 L249.4,844.5 L244.6,846.5 Z" fill="#e0205a"/>
<path d="M228.6,842.1 L233.8,842.1 L228.6,846.9 L233.8,846.9" stroke="#333" stroke-width="0.8" fill="none"/>
<rect x="229.6" y="843.1" width="3.2" height="2.8" fill="#3a80d8"/>
<text transform="translate(228.40,824.30) scale(1.05,1)" x="0" y="0" font-family="Liberation Sans, sans-serif" font-size="11.2" text-anchor="start" fill="#111">y</text>
<text transform="translate(251.80,847.40) scale(1.0,1)" x="0" y="0" font-family="Liberation Sans, sans-serif" font-size="11.2" text-anchor="start" fill="#111">x</text>
<line x1="467.8" y1="844.5" x2="467.8" y2="831.2" stroke="#5cbc5c" stroke-width="1.3"/>
<path d="M465.8,832.0 L467.8,827.2 L469.8,832.0 Z" fill="#3aaa3a"/>
<line x1="467.8" y1="844.5" x2="482.0" y2="844.5" stroke="#e2487e" stroke-width="1.3"/>
<path d="M481.2,842.5 L486.0,844.5 L481.2,846.5 Z" fill="#e0205a"/>
<path d="M465.2,842.1 L470.4,842.1 L465.2,846.9 L470.4,846.9" stroke="#333" stroke-width="0.8" fill="none"/>
<rect x="466.2" y="843.1" width="3.2" height="2.8" fill="#3a80d8"/>
<text transform="translate(465.00,824.30) scale(1.05,1)" x="0" y="0" font-family="Liberation Sans, sans-serif" font-size="11.2" text-anchor="start" fill="#111">y</text>
<text transform="translate(488.40,847.40) scale(1.0,1)" x="0" y="0" font-family="Liberation Sans, sans-serif" font-size="11.2" text-anchor="start" fill="#111">x</text>
<line x1="10.5" y1="1328.2" x2="10.5" y2="1314.9" stroke="#5cbc5c" stroke-width="1.3"/>
<path d="M8.5,1315.7 L10.5,1310.9 L12.5,1315.7 Z" fill="#3aaa3a"/>
<line x1="10.5" y1="1328.2" x2="24.7" y2="1328.2" stroke="#e2487e" stroke-width="1.3"/>
<path d="M23.9,1326.2 L28.7,1328.2 L23.9,1330.2 Z" fill="#e0205a"/>
<path d="M7.9,1325.8 L13.1,1325.8 L7.9,1330.6 L13.1,1330.6" stroke="#333" stroke-width="0.8" fill="none"/>
<rect x="8.9" y="1326.8" width="3.2" height="2.8" fill="#3a80d8"/>
<text transform="translate(7.70,1308.00) scale(1.05,1)" x="0" y="0" font-family="Liberation Sans, sans-serif" font-size="11.2" text-anchor="start" fill="#111">y</text>
<text transform="translate(31.10,1331.10) scale(1.0,1)" x="0" y="0" font-family="Liberation Sans, sans-serif" font-size="11.2" text-anchor="start" fill="#111">x</text>
<line x1="234.0" y1="1328.2" x2="234.0" y2="1314.9" stroke="#5cbc5c" stroke-width="1.3"/>
<path d="M232.0,1315.7 L234.0,1310.9 L236.0,1315.7 Z" fill="#3aaa3a"/>
<line x1="234.0" y1="1328.2" x2="248.2" y2="1328.2" stroke="#e2487e" stroke-width="1.3"/>
<path d="M247.4,1326.2 L252.2,1328.2 L247.4,1330.2 Z" fill="#e0205a"/>
<path d="M231.4,1325.8 L236.6,1325.8 L231.4,1330.6 L236.6,1330.6" stroke="#333" stroke-width="0.8" fill="none"/>
<rect x="232.4" y="1326.8" width="3.2" height="2.8" fill="#3a80d8"/>
<text transform="translate(231.20,1308.00) scale(1.05,1)" x="0" y="0" font-family="Liberation Sans, sans-serif" font-size="11.2" text-anchor="start" fill="#111">y</text>
<text transform="translate(254.60,1331.10) scale(1.0,1)" x="0" y="0" font-family="Liberation Sans, sans-serif" font-size="11.2" text-anchor="start" fill="#111">x</text>
<line x1="458.0" y1="1323.6" x2="458.0" y2="1310.3" stroke="#5cbc5c" stroke-width="1.3"/>
<path d="M456.0,1311.1 L458.0,1306.3 L460.0,1311.1 Z" fill="#3aaa3a"/>
<line x1="458.0" y1="1323.6" x2="472.2" y2="1323.6" stroke="#e2487e" stroke-width="1.3"/>
<path d="M471.4,1321.6 L476.2,1323.6 L471.4,1325.6 Z" fill="#e0205a"/>
<path d="M455.4,1321.2 L460.6,1321.2 L455.4,1326.0 L460.6,1326.0" stroke="#333" stroke-width="0.8" fill="none"/>
<rect x="456.4" y="1322.2" width="3.2" height="2.8" fill="#3a80d8"/>
<text transform="translate(455.20,1303.40) scale(1.05,1)" x="0" y="0" font-family="Liberation Sans, sans-serif" font-size="11.2" text-anchor="start" fill="#111">y</text>
<text transform="translate(478.60,1326.50) scale(1.0,1)" x="0" y="0" font-family="Liberation Sans, sans-serif" font-size="11.2" text-anchor="start" fill="#111">x</text>
<circle cx="106.6" cy="303.6" r="99.3" fill="url(#r101)" stroke="#2a0000" stroke-width="0.8"/>
<circle cx="106.6" cy="303.6" r="44.9" fill="url(#r102)"/>
<circle cx="106.6" cy="303.6" r="81.1" fill="none" stroke="#000" stroke-width="0.85"/>
<circle cx="106.6" cy="303.6" r="63.1" fill="none" stroke="#000" stroke-width="0.85"/>
<circle cx="106.6" cy="303.6" r="44.9" fill="none" stroke="#000" stroke-width="0.85"/>
<circle cx="106.6" cy="303.6" r="27.1" fill="none" stroke="#000" stroke-width="0.9"/>
<circle cx="106.6" cy="303.6" r="20.8" fill="none" stroke="#000" stroke-width="0.9"/>
<circle cx="106.6" cy="303.6" r="16.1" fill="none" stroke="#000" stroke-width="0.9"/>
<circle cx="106.6" cy="303.6" r="7.4" fill="#fff" stroke="#000" stroke-width="1.6"/>
<circle cx="335.9" cy="302.5" r="99.5" fill="url(#r103)" stroke="#2a0000" stroke-width="0.8"/>
<circle cx="335.9" cy="302.5" r="45.0" fill="url(#r104)"/>
<circle cx="335.9" cy="302.5" r="81.3" fill="none" stroke="#000" stroke-width="0.85"/>
<circle cx="335.9" cy="302.5" r="63.2" fill="none" stroke="#000" stroke-width="0.85"/>
<circle cx="335.9" cy="302.5" r="45.0" fill="none" stroke="#000" stroke-width="0.85"/>
<circle cx="335.9" cy="302.5" r="27.2" fill="none" stroke="#000" stroke-width="0.9"/>
<circle cx="335.9" cy="302.5" r="20.8" fill="none" stroke="#000" stroke-width="0.9"/>
<circle cx="335.9" cy="302.5" r="16.1" fill="none" stroke="#000" stroke-width="0.9"/>
<circle cx="335.9" cy="302.5" r="7.4" fill="#fff" stroke="#000" stroke-width="1.6"/>
<circle cx="557.2" cy="303.0" r="100.2" fill="url(#r105)" stroke="#2a0000" stroke-width="0.8"/>
<circle cx="557.2" cy="303.0" r="45.3" fill="url(#r106)"/>
<circle cx="557.2" cy="303.0" r="81.9" fill="none" stroke="#000" stroke-width="0.85"/>
<circle cx="557.2" cy="303.0" r="63.6" fill="none" stroke="#000" stroke-width="0.85"/>
<circle cx="557.2" cy="303.0" r="45.3" fill="none" stroke="#000" stroke-width="0.85"/>
<circle cx="557.2" cy="303.0" r="27.4" fill="none" stroke="#000" stroke-width="0.9"/>
<circle cx="557.2" cy="303.0" r="20.9" fill="none" stroke="#000" stroke-width="0.9"/>
<circle cx="557.2" cy="303.0" r="16.2" fill="none" stroke="#000" stroke-width="0.9"/>
<circle cx="557.2" cy="303.0" r="7.4" fill="#fff" stroke="#000" stroke-width="1.6"/>
<circle cx="102.3" cy="755.1" r="96.8" fill="url(#r107)" stroke="#2a0000" stroke-width="0.8"/>
<circle cx="102.3" cy="755.1" r="43.8" fill="url(#r108)"/>
<circle cx="102.3" cy="755.1" r="79.1" fill="none" stroke="#000" stroke-width="0.85"/>
<circle cx="102.3" cy="755.1" r="61.5" fill="none" stroke="#000" stroke-width="0.85"/>
<circle cx="102.3" cy="755.1" r="43.8" fill="none" stroke="#000" stroke-width="0.85"/>
<circle cx="102.3" cy="755.1" r="26.4" fill="none" stroke="#000" stroke-width="0.9"/>
<circle cx="102.3" cy="755.1" r="20.2" fill="none" stroke="#000" stroke-width="0.9"/>
<circle cx="102.3" cy="755.1" r="15.7" fill="none" stroke="#000" stroke-width="0.9"/>
<circle cx="102.3" cy="755.1" r="7.4" fill="#fff" stroke="#000" stroke-width="1.6"/>
<circle cx="325.4" cy="756.3" r="97.0" fill="url(#r109)" stroke="#2a0000" stroke-width="0.8"/>
<circle cx="325.4" cy="756.3" r="43.8" fill="url(#r110)"/>
<circle cx="325.4" cy="756.3" r="79.2" fill="none" stroke="#000" stroke-width="0.85"/>
<circle cx="325.4" cy="756.3" r="61.6" fill="none" stroke="#000" stroke-width="0.85"/>
<circle cx="325.4" cy="756.3" r="43.8" fill="none" stroke="#000" stroke-width="0.85"/>
<circle cx="325.4" cy="756.3" r="26.5" fill="none" stroke="#000" stroke-width="0.9"/>
<circle cx="325.4" cy="756.3" r="20.3" fill="none" stroke="#000" stroke-width="0.9"/>
<circle cx="325.4" cy="756.3" r="15.7" fill="none" stroke="#000" stroke-width="0.9"/>
<circle cx="325.4" cy="756.3" r="7.4" fill="#fff" stroke="#000" stroke-width="1.6"/>
<circle cx="560.5" cy="758.6" r="97.1" fill="url(#r111)" stroke="#2a0000" stroke-width="0.8"/>
<circle cx="560.5" cy="758.6" r="43.9" fill="url(#r112)"/>
<circle cx="560.5" cy="758.6" r="79.3" fill="none" stroke="#000" stroke-width="0.85"/>
<circle cx="560.5" cy="758.6" r="61.7" fill="none" stroke="#000" stroke-width="0.85"/>
<circle cx="560.5" cy="758.6" r="43.9" fill="none" stroke="#000" stroke-width="0.85"/>
<circle cx="560.5" cy="758.6" r="26.5" fill="none" stroke="#000" stroke-width="0.9"/>
<circle cx="560.5" cy="758.6" r="20.3" fill="none" stroke="#000" stroke-width="0.9"/>
<circle cx="560.5" cy="758.6" r="15.7" fill="none" stroke="#000" stroke-width="0.9"/>
<circle cx="560.5" cy="758.6" r="7.4" fill="#fff" stroke="#000" stroke-width="1.6"/>
<circle cx="107.4" cy="1234.7" r="100.2" fill="url(#r113)" stroke="#2a0000" stroke-width="0.8"/>
<circle cx="107.4" cy="1234.7" r="45.3" fill="url(#r114)"/>
<circle cx="107.4" cy="1234.7" r="81.9" fill="none" stroke="#000" stroke-width="0.85"/>
<circle cx="107.4" cy="1234.7" r="63.6" fill="none" stroke="#000" stroke-width="0.85"/>
<circle cx="107.4" cy="1234.7" r="45.3" fill="none" stroke="#000" stroke-width="0.85"/>
<circle cx="107.4" cy="1234.7" r="27.4" fill="none" stroke="#000" stroke-width="0.9"/>
<circle cx="107.4" cy="1234.7" r="20.9" fill="none" stroke="#000" stroke-width="0.9"/>
<circle cx="107.4" cy="1234.7" r="16.2" fill="none" stroke="#000" stroke-width="0.9"/>
<circle cx="107.4" cy="1234.7" r="7.4" fill="#fff" stroke="#000" stroke-width="1.6"/>
<circle cx="330.4" cy="1231.2" r="98.8" fill="url(#r115)" stroke="#2a0000" stroke-width="0.8"/>
<circle cx="330.4" cy="1231.2" r="44.7" fill="url(#r116)"/>
<circle cx="330.4" cy="1231.2" r="80.7" fill="none" stroke="#000" stroke-width="0.85"/>
<circle cx="330.4" cy="1231.2" r="62.7" fill="none" stroke="#000" stroke-width="0.85"/>
<circle cx="330.4" cy="1231.2" r="44.7" fill="none" stroke="#000" stroke-width="0.85"/>
<circle cx="330.4" cy="1231.2" r="27.0" fill="none" stroke="#000" stroke-width="0.9"/>
<circle cx="330.4" cy="1231.2" r="20.6" fill="none" stroke="#000" stroke-width="0.9"/>
<circle cx="330.4" cy="1231.2" r="16.0" fill="none" stroke="#000" stroke-width="0.9"/>
<circle cx="330.4" cy="1231.2" r="7.4" fill="#fff" stroke="#000" stroke-width="1.6"/>
<circle cx="558.8" cy="1238.5" r="100.2" fill="url(#r117)" stroke="#2a0000" stroke-width="0.8"/>
<circle cx="558.8" cy="1238.5" r="45.3" fill="url(#r118)"/>
<circle cx="558.8" cy="1238.5" r="81.9" fill="none" stroke="#000" stroke-width="0.85"/>
<circle cx="558.8" cy="1238.5" r="63.6" fill="none" stroke="#000" stroke-width="0.85"/>
<circle cx="558.8" cy="1238.5" r="45.3" fill="none" stroke="#000" stroke-width="0.85"/>
<circle cx="558.8" cy="1238.5" r="27.4" fill="none" stroke="#000" stroke-width="0.9"/>
<circle cx="558.8" cy="1238.5" r="20.9" fill="none" stroke="#000" stroke-width="0.9"/>
<circle cx="558.8" cy="1238.5" r="16.2" fill="none" stroke="#000" stroke-width="0.9"/>
<circle cx="558.8" cy="1238.5" r="7.4" fill="#fff" stroke="#000" stroke-width="1.6"/>
<text x="74.9" y="418.9" font-family="Liberation Serif, sans-serif" font-size="17" text-anchor="start" fill="#000" stroke="#000" stroke-width="0.12" textLength="49.9" lengthAdjust="spacingAndGlyphs">η = 0.1</text>
<text x="303.5" y="419.1" font-family="Liberation Serif, sans-serif" font-size="17" text-anchor="start" fill="#000" stroke="#000" stroke-width="0.12" textLength="50.9" lengthAdjust="spacingAndGlyphs">η = 0.5</text>
<text x="540.8" y="419.0" font-family="Liberation Serif, sans-serif" font-size="17" text-anchor="start" fill="#000" stroke="#000" stroke-width="0.12" textLength="51.3" lengthAdjust="spacingAndGlyphs">η = 1.0</text>
<text x="71.7" y="867.3" font-family="Liberation Serif, sans-serif" font-size="17" text-anchor="start" fill="#000" stroke="#000" stroke-width="0.12" textLength="48.7" lengthAdjust="spacingAndGlyphs">η = 0.1</text>
<text x="298.7" y="868.7" font-family="Liberation Serif, sans-serif" font-size="17" text-anchor="start" fill="#000" stroke="#000" stroke-width="0.12" textLength="50.1" lengthAdjust="spacingAndGlyphs">η = 0.5</text>
<text x="545.5" y="869.3" font-family="Liberation Serif, sans-serif" font-size="17" text-anchor="start" fill="#000" stroke="#000" stroke-width="0.12" textLength="50.7" lengthAdjust="spacingAndGlyphs">η = 1.0</text>
<text x="76.1" y="1350.8" font-family="Liberation Serif, sans-serif" font-size="18" text-anchor="start" fill="#000" stroke="#000" stroke-width="0.12" textLength="50.4" lengthAdjust="spacingAndGlyphs">η = 0.1</text>
<text x="306.7" y="1350.6" font-family="Liberation Serif, sans-serif" font-size="18" text-anchor="start" fill="#000" stroke="#000" stroke-width="0.12" textLength="50.8" lengthAdjust="spacingAndGlyphs">η = 0.5</text>
<text x="541.7" y="1354.3" font-family="Liberation Serif, sans-serif" font-size="18" text-anchor="start" fill="#000" stroke="#000" stroke-width="0.12" textLength="51.9" lengthAdjust="spacingAndGlyphs">η = 1.0</text>
<text x="331.0" y="453.1" font-family="Liberation Serif, sans-serif" font-size="19.5" text-anchor="start" fill="#000" stroke="#000" stroke-width="0.1" textLength="22.0" lengthAdjust="spacingAndGlyphs">(a)</text>
<text x="330.0" y="902.7" font-family="Liberation Serif, sans-serif" font-size="19.5" text-anchor="start" fill="#000" stroke="#000" stroke-width="0.1" textLength="23.1" lengthAdjust="spacingAndGlyphs">(b)</text>
<text x="332.3" y="1390.0" font-family="Liberation Serif, sans-serif" font-size="19.5" text-anchor="start" fill="#000" stroke="#000" stroke-width="0.1" textLength="21.7" lengthAdjust="spacingAndGlyphs">(c)</text>
</svg></body></html>
